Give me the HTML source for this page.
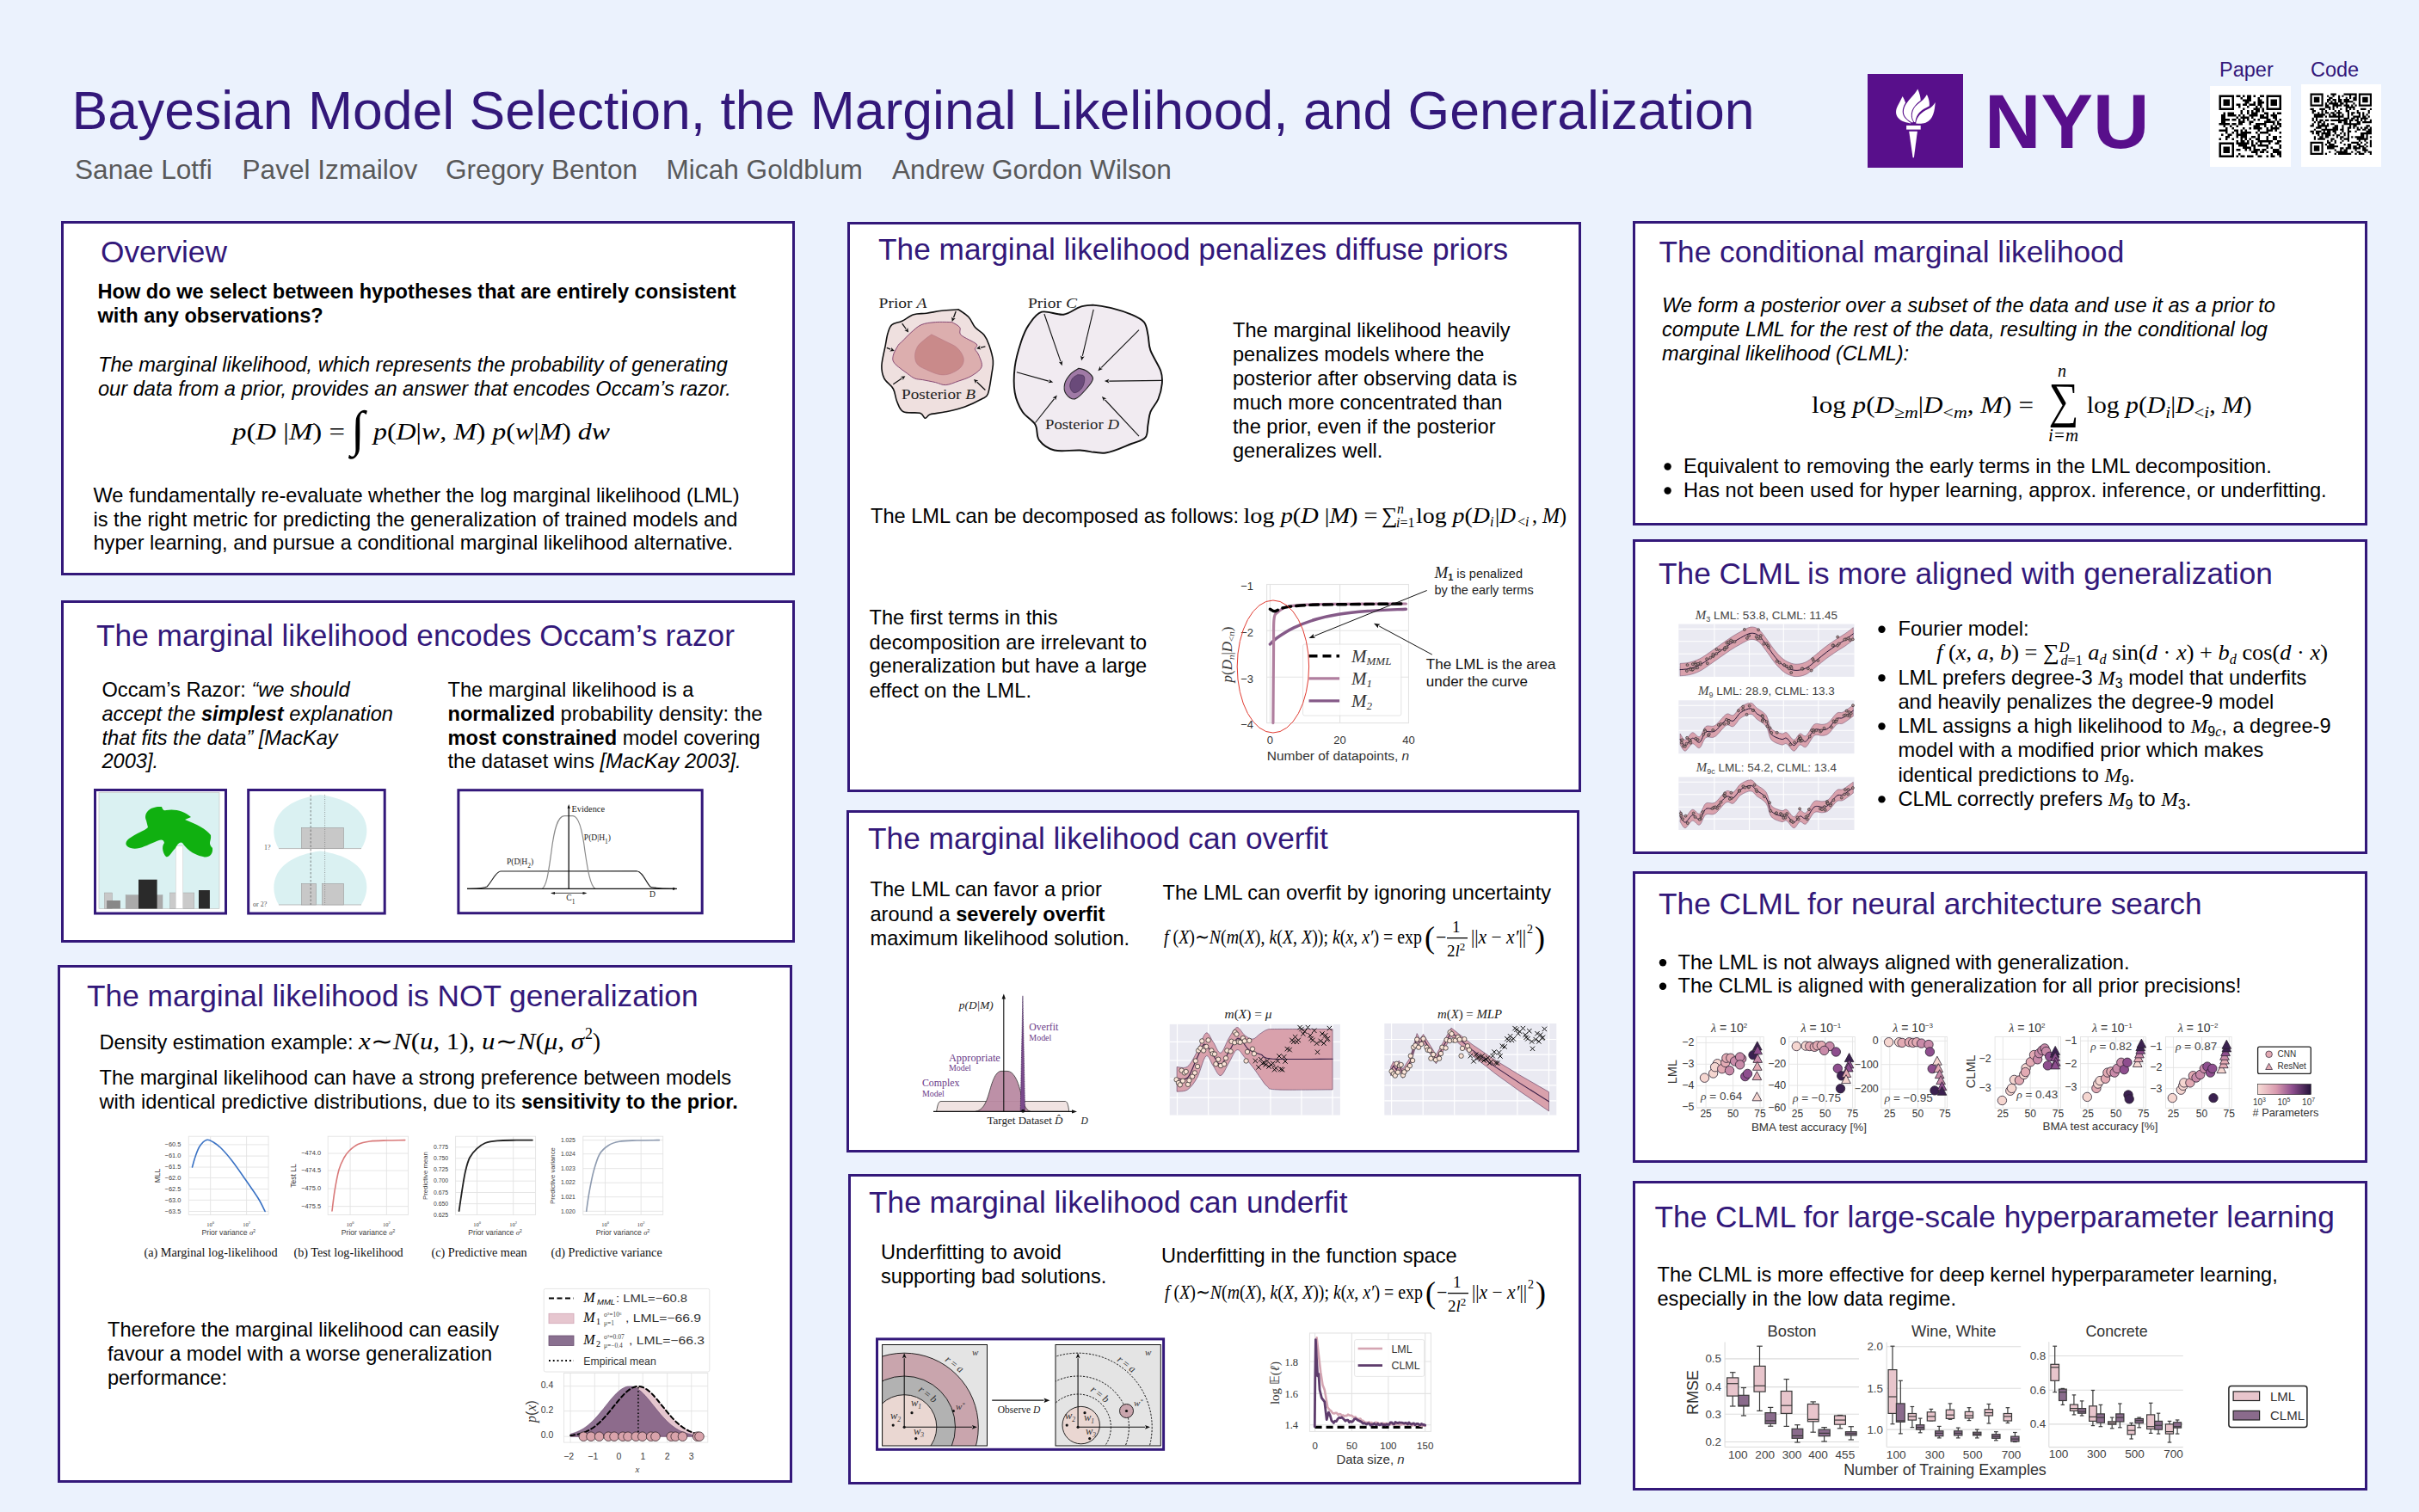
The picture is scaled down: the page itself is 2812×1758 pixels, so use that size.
<!DOCTYPE html>
<html><head><meta charset="utf-8"><title>Bayesian Model Selection, the Marginal Likelihood, and Generalization</title>
<style>
html,body{margin:0;padding:0;background:#ebf2fd;}
body{width:2812px;height:1758px;overflow:hidden;}
svg{display:block;}
.s{font-family:"Liberation Sans",sans-serif;}
.b{font-family:"Liberation Sans",sans-serif;font-weight:bold;}
.i{font-family:"Liberation Sans",sans-serif;font-style:italic;}
.m{font-family:"Liberation Serif",serif;font-style:italic;}
.r{font-family:"Liberation Serif",serif;}
.t{font-family:"Liberation Sans",sans-serif;fill:#33187a;}
</style></head>
<body><svg width="2812" height="1758" viewBox="0 0 2812 1758">
<rect width="2812" height="1758" fill="#ebf2fd"/>
<text x="83.5" y="150" class="t" font-size="62.5" >Bayesian Model Selection, the Marginal Likelihood, and Generalization</text>
<text x="87" y="208" class="s" font-size="31.6" fill="#595959">Sanae Lotfi</text>
<text x="281.5" y="208" class="s" font-size="31.6" fill="#595959">Pavel Izmailov</text>
<text x="518" y="208" class="s" font-size="31.6" fill="#595959">Gregory Benton</text>
<text x="774.5" y="208" class="s" font-size="31.6" fill="#595959">Micah Goldblum</text>
<text x="1037" y="208" class="s" font-size="31.6" fill="#595959">Andrew Gordon Wilson</text>
<rect x="2171" y="86" width="111" height="109" fill="#580f8b"/>
<g fill="#fff"><path d="M2220.8 143.4 C2205.7 141.5 2200.7 132.7 2206.3 122.6 C2208.8 118.2 2210.7 113.8 2211.7 112.0 C2213.2 114.5 2214.2 117.0 2215.1 119.5 C2210.7 126.4 2210.1 133.9 2216.4 139.0 C2218.3 140.9 2220.2 142.1 2221.4 143.1 z"/><path d="M2222.7 142.4 C2215.1 138.3 2210.7 132.7 2213.9 124.5 C2217.0 117.0 2225.2 111.3 2229.3 103.5 C2231.5 108.8 2232.7 113.2 2232.7 116.7 C2222.7 123.9 2218.9 132.7 2224.2 142.1 z"/><path d="M2225.2 142.1 C2220.8 135.2 2222.7 126.4 2228.9 121.4 C2234.0 117.6 2237.7 114.5 2239.9 110.1 C2242.1 113.8 2243.4 120.1 2242.8 123.3 C2234.0 127.7 2227.7 131.4 2226.4 142.1 z"/><path d="M2227.1 143.4 C2228.3 135.2 2234.0 130.2 2240.9 127.0 C2245.3 125.2 2247.8 122.0 2249.7 118.9 C2249.0 127.7 2247.8 139.0 2238.4 142.7 C2234.0 144.0 2230.2 143.7 2227.1 143.4 z"/><path d="M2216.1 145.9 L2232.7 145.9 L2232.7 150.6 L2216.1 150.6 z"/><path d="M2219.2 152.8 L2228.9 152.8 L2224.9 183.3 L2223.6 183.3 z"/></g>
<text x="2307" y="171.8" font-family="Liberation Sans" font-weight="bold" font-size="89" fill="#580f8b" textLength="191.5" lengthAdjust="spacingAndGlyphs">NYU</text>
<rect x="2569" y="100" width="94" height="94" fill="#fff"/>
<rect x="2675" y="98" width="93" height="96" fill="#fff"/>
<path d="M2579.50 110.50h2.50v2.50h-2.50zM2582.00 110.50h2.50v2.50h-2.50zM2584.50 110.50h2.50v2.50h-2.50zM2587.00 110.50h2.50v2.50h-2.50zM2589.50 110.50h2.50v2.50h-2.50zM2592.00 110.50h2.50v2.50h-2.50zM2594.50 110.50h2.50v2.50h-2.50zM2599.50 110.50h2.50v2.50h-2.50zM2602.00 110.50h2.50v2.50h-2.50zM2607.00 110.50h2.50v2.50h-2.50zM2612.00 110.50h2.50v2.50h-2.50zM2614.50 110.50h2.50v2.50h-2.50zM2619.50 110.50h2.50v2.50h-2.50zM2627.00 110.50h2.50v2.50h-2.50zM2629.50 110.50h2.50v2.50h-2.50zM2634.50 110.50h2.50v2.50h-2.50zM2637.00 110.50h2.50v2.50h-2.50zM2639.50 110.50h2.50v2.50h-2.50zM2642.00 110.50h2.50v2.50h-2.50zM2644.50 110.50h2.50v2.50h-2.50zM2647.00 110.50h2.50v2.50h-2.50zM2649.50 110.50h2.50v2.50h-2.50zM2579.50 113.00h2.50v2.50h-2.50zM2594.50 113.00h2.50v2.50h-2.50zM2604.50 113.00h2.50v2.50h-2.50zM2612.00 113.00h2.50v2.50h-2.50zM2614.50 113.00h2.50v2.50h-2.50zM2624.50 113.00h2.50v2.50h-2.50zM2634.50 113.00h2.50v2.50h-2.50zM2649.50 113.00h2.50v2.50h-2.50zM2579.50 115.50h2.50v2.50h-2.50zM2584.50 115.50h2.50v2.50h-2.50zM2587.00 115.50h2.50v2.50h-2.50zM2589.50 115.50h2.50v2.50h-2.50zM2594.50 115.50h2.50v2.50h-2.50zM2607.00 115.50h2.50v2.50h-2.50zM2609.50 115.50h2.50v2.50h-2.50zM2612.00 115.50h2.50v2.50h-2.50zM2614.50 115.50h2.50v2.50h-2.50zM2624.50 115.50h2.50v2.50h-2.50zM2627.00 115.50h2.50v2.50h-2.50zM2634.50 115.50h2.50v2.50h-2.50zM2639.50 115.50h2.50v2.50h-2.50zM2642.00 115.50h2.50v2.50h-2.50zM2644.50 115.50h2.50v2.50h-2.50zM2649.50 115.50h2.50v2.50h-2.50zM2579.50 118.00h2.50v2.50h-2.50zM2584.50 118.00h2.50v2.50h-2.50zM2587.00 118.00h2.50v2.50h-2.50zM2589.50 118.00h2.50v2.50h-2.50zM2594.50 118.00h2.50v2.50h-2.50zM2609.50 118.00h2.50v2.50h-2.50zM2612.00 118.00h2.50v2.50h-2.50zM2619.50 118.00h2.50v2.50h-2.50zM2624.50 118.00h2.50v2.50h-2.50zM2627.00 118.00h2.50v2.50h-2.50zM2629.50 118.00h2.50v2.50h-2.50zM2634.50 118.00h2.50v2.50h-2.50zM2639.50 118.00h2.50v2.50h-2.50zM2642.00 118.00h2.50v2.50h-2.50zM2644.50 118.00h2.50v2.50h-2.50zM2649.50 118.00h2.50v2.50h-2.50zM2579.50 120.50h2.50v2.50h-2.50zM2584.50 120.50h2.50v2.50h-2.50zM2587.00 120.50h2.50v2.50h-2.50zM2589.50 120.50h2.50v2.50h-2.50zM2594.50 120.50h2.50v2.50h-2.50zM2599.50 120.50h2.50v2.50h-2.50zM2602.00 120.50h2.50v2.50h-2.50zM2607.00 120.50h2.50v2.50h-2.50zM2609.50 120.50h2.50v2.50h-2.50zM2614.50 120.50h2.50v2.50h-2.50zM2617.00 120.50h2.50v2.50h-2.50zM2619.50 120.50h2.50v2.50h-2.50zM2624.50 120.50h2.50v2.50h-2.50zM2627.00 120.50h2.50v2.50h-2.50zM2634.50 120.50h2.50v2.50h-2.50zM2639.50 120.50h2.50v2.50h-2.50zM2642.00 120.50h2.50v2.50h-2.50zM2644.50 120.50h2.50v2.50h-2.50zM2649.50 120.50h2.50v2.50h-2.50zM2579.50 123.00h2.50v2.50h-2.50zM2594.50 123.00h2.50v2.50h-2.50zM2602.00 123.00h2.50v2.50h-2.50zM2612.00 123.00h2.50v2.50h-2.50zM2622.00 123.00h2.50v2.50h-2.50zM2627.00 123.00h2.50v2.50h-2.50zM2634.50 123.00h2.50v2.50h-2.50zM2649.50 123.00h2.50v2.50h-2.50zM2579.50 125.50h2.50v2.50h-2.50zM2582.00 125.50h2.50v2.50h-2.50zM2584.50 125.50h2.50v2.50h-2.50zM2587.00 125.50h2.50v2.50h-2.50zM2589.50 125.50h2.50v2.50h-2.50zM2592.00 125.50h2.50v2.50h-2.50zM2594.50 125.50h2.50v2.50h-2.50zM2607.00 125.50h2.50v2.50h-2.50zM2619.50 125.50h2.50v2.50h-2.50zM2622.00 125.50h2.50v2.50h-2.50zM2624.50 125.50h2.50v2.50h-2.50zM2629.50 125.50h2.50v2.50h-2.50zM2634.50 125.50h2.50v2.50h-2.50zM2637.00 125.50h2.50v2.50h-2.50zM2639.50 125.50h2.50v2.50h-2.50zM2642.00 125.50h2.50v2.50h-2.50zM2644.50 125.50h2.50v2.50h-2.50zM2647.00 125.50h2.50v2.50h-2.50zM2649.50 125.50h2.50v2.50h-2.50zM2604.50 128.00h2.50v2.50h-2.50zM2612.00 128.00h2.50v2.50h-2.50zM2617.00 128.00h2.50v2.50h-2.50zM2622.00 128.00h2.50v2.50h-2.50zM2624.50 128.00h2.50v2.50h-2.50zM2629.50 128.00h2.50v2.50h-2.50zM2584.50 130.50h2.50v2.50h-2.50zM2589.50 130.50h2.50v2.50h-2.50zM2592.00 130.50h2.50v2.50h-2.50zM2594.50 130.50h2.50v2.50h-2.50zM2604.50 130.50h2.50v2.50h-2.50zM2612.00 130.50h2.50v2.50h-2.50zM2617.00 130.50h2.50v2.50h-2.50zM2619.50 130.50h2.50v2.50h-2.50zM2622.00 130.50h2.50v2.50h-2.50zM2632.00 130.50h2.50v2.50h-2.50zM2634.50 130.50h2.50v2.50h-2.50zM2642.00 130.50h2.50v2.50h-2.50zM2647.00 130.50h2.50v2.50h-2.50zM2649.50 130.50h2.50v2.50h-2.50zM2582.00 133.00h2.50v2.50h-2.50zM2584.50 133.00h2.50v2.50h-2.50zM2589.50 133.00h2.50v2.50h-2.50zM2592.00 133.00h2.50v2.50h-2.50zM2594.50 133.00h2.50v2.50h-2.50zM2597.00 133.00h2.50v2.50h-2.50zM2602.00 133.00h2.50v2.50h-2.50zM2607.00 133.00h2.50v2.50h-2.50zM2614.50 133.00h2.50v2.50h-2.50zM2617.00 133.00h2.50v2.50h-2.50zM2619.50 133.00h2.50v2.50h-2.50zM2622.00 133.00h2.50v2.50h-2.50zM2627.00 133.00h2.50v2.50h-2.50zM2629.50 133.00h2.50v2.50h-2.50zM2634.50 133.00h2.50v2.50h-2.50zM2639.50 133.00h2.50v2.50h-2.50zM2642.00 133.00h2.50v2.50h-2.50zM2644.50 133.00h2.50v2.50h-2.50zM2582.00 135.50h2.50v2.50h-2.50zM2584.50 135.50h2.50v2.50h-2.50zM2599.50 135.50h2.50v2.50h-2.50zM2604.50 135.50h2.50v2.50h-2.50zM2607.00 135.50h2.50v2.50h-2.50zM2609.50 135.50h2.50v2.50h-2.50zM2612.00 135.50h2.50v2.50h-2.50zM2617.00 135.50h2.50v2.50h-2.50zM2627.00 135.50h2.50v2.50h-2.50zM2629.50 135.50h2.50v2.50h-2.50zM2632.00 135.50h2.50v2.50h-2.50zM2634.50 135.50h2.50v2.50h-2.50zM2642.00 135.50h2.50v2.50h-2.50zM2644.50 135.50h2.50v2.50h-2.50zM2582.00 138.00h2.50v2.50h-2.50zM2584.50 138.00h2.50v2.50h-2.50zM2587.00 138.00h2.50v2.50h-2.50zM2589.50 138.00h2.50v2.50h-2.50zM2594.50 138.00h2.50v2.50h-2.50zM2597.00 138.00h2.50v2.50h-2.50zM2602.00 138.00h2.50v2.50h-2.50zM2607.00 138.00h2.50v2.50h-2.50zM2612.00 138.00h2.50v2.50h-2.50zM2619.50 138.00h2.50v2.50h-2.50zM2624.50 138.00h2.50v2.50h-2.50zM2634.50 138.00h2.50v2.50h-2.50zM2637.00 138.00h2.50v2.50h-2.50zM2644.50 138.00h2.50v2.50h-2.50zM2649.50 138.00h2.50v2.50h-2.50zM2582.00 140.50h2.50v2.50h-2.50zM2584.50 140.50h2.50v2.50h-2.50zM2602.00 140.50h2.50v2.50h-2.50zM2604.50 140.50h2.50v2.50h-2.50zM2607.00 140.50h2.50v2.50h-2.50zM2614.50 140.50h2.50v2.50h-2.50zM2617.00 140.50h2.50v2.50h-2.50zM2632.00 140.50h2.50v2.50h-2.50zM2634.50 140.50h2.50v2.50h-2.50zM2637.00 140.50h2.50v2.50h-2.50zM2639.50 140.50h2.50v2.50h-2.50zM2642.00 140.50h2.50v2.50h-2.50zM2647.00 140.50h2.50v2.50h-2.50zM2579.50 143.00h2.50v2.50h-2.50zM2582.00 143.00h2.50v2.50h-2.50zM2584.50 143.00h2.50v2.50h-2.50zM2587.00 143.00h2.50v2.50h-2.50zM2589.50 143.00h2.50v2.50h-2.50zM2594.50 143.00h2.50v2.50h-2.50zM2597.00 143.00h2.50v2.50h-2.50zM2602.00 143.00h2.50v2.50h-2.50zM2604.50 143.00h2.50v2.50h-2.50zM2614.50 143.00h2.50v2.50h-2.50zM2622.00 143.00h2.50v2.50h-2.50zM2624.50 143.00h2.50v2.50h-2.50zM2627.00 143.00h2.50v2.50h-2.50zM2629.50 143.00h2.50v2.50h-2.50zM2632.00 143.00h2.50v2.50h-2.50zM2642.00 143.00h2.50v2.50h-2.50zM2647.00 143.00h2.50v2.50h-2.50zM2649.50 143.00h2.50v2.50h-2.50zM2584.50 145.50h2.50v2.50h-2.50zM2592.00 145.50h2.50v2.50h-2.50zM2599.50 145.50h2.50v2.50h-2.50zM2619.50 145.50h2.50v2.50h-2.50zM2622.00 145.50h2.50v2.50h-2.50zM2624.50 145.50h2.50v2.50h-2.50zM2632.00 145.50h2.50v2.50h-2.50zM2639.50 145.50h2.50v2.50h-2.50zM2644.50 145.50h2.50v2.50h-2.50zM2649.50 145.50h2.50v2.50h-2.50zM2587.00 148.00h2.50v2.50h-2.50zM2594.50 148.00h2.50v2.50h-2.50zM2607.00 148.00h2.50v2.50h-2.50zM2614.50 148.00h2.50v2.50h-2.50zM2619.50 148.00h2.50v2.50h-2.50zM2622.00 148.00h2.50v2.50h-2.50zM2624.50 148.00h2.50v2.50h-2.50zM2627.00 148.00h2.50v2.50h-2.50zM2634.50 148.00h2.50v2.50h-2.50zM2639.50 148.00h2.50v2.50h-2.50zM2642.00 148.00h2.50v2.50h-2.50zM2644.50 148.00h2.50v2.50h-2.50zM2647.00 148.00h2.50v2.50h-2.50zM2579.50 150.50h2.50v2.50h-2.50zM2582.00 150.50h2.50v2.50h-2.50zM2584.50 150.50h2.50v2.50h-2.50zM2587.00 150.50h2.50v2.50h-2.50zM2597.00 150.50h2.50v2.50h-2.50zM2599.50 150.50h2.50v2.50h-2.50zM2604.50 150.50h2.50v2.50h-2.50zM2609.50 150.50h2.50v2.50h-2.50zM2624.50 150.50h2.50v2.50h-2.50zM2634.50 150.50h2.50v2.50h-2.50zM2637.00 150.50h2.50v2.50h-2.50zM2639.50 150.50h2.50v2.50h-2.50zM2644.50 150.50h2.50v2.50h-2.50zM2587.00 153.00h2.50v2.50h-2.50zM2594.50 153.00h2.50v2.50h-2.50zM2599.50 153.00h2.50v2.50h-2.50zM2604.50 153.00h2.50v2.50h-2.50zM2607.00 153.00h2.50v2.50h-2.50zM2609.50 153.00h2.50v2.50h-2.50zM2612.00 153.00h2.50v2.50h-2.50zM2614.50 153.00h2.50v2.50h-2.50zM2622.00 153.00h2.50v2.50h-2.50zM2627.00 153.00h2.50v2.50h-2.50zM2629.50 153.00h2.50v2.50h-2.50zM2632.00 153.00h2.50v2.50h-2.50zM2634.50 153.00h2.50v2.50h-2.50zM2649.50 153.00h2.50v2.50h-2.50zM2582.00 155.50h2.50v2.50h-2.50zM2589.50 155.50h2.50v2.50h-2.50zM2592.00 155.50h2.50v2.50h-2.50zM2599.50 155.50h2.50v2.50h-2.50zM2602.00 155.50h2.50v2.50h-2.50zM2604.50 155.50h2.50v2.50h-2.50zM2607.00 155.50h2.50v2.50h-2.50zM2609.50 155.50h2.50v2.50h-2.50zM2624.50 155.50h2.50v2.50h-2.50zM2637.00 155.50h2.50v2.50h-2.50zM2587.00 158.00h2.50v2.50h-2.50zM2589.50 158.00h2.50v2.50h-2.50zM2599.50 158.00h2.50v2.50h-2.50zM2604.50 158.00h2.50v2.50h-2.50zM2607.00 158.00h2.50v2.50h-2.50zM2609.50 158.00h2.50v2.50h-2.50zM2617.00 158.00h2.50v2.50h-2.50zM2619.50 158.00h2.50v2.50h-2.50zM2624.50 158.00h2.50v2.50h-2.50zM2634.50 158.00h2.50v2.50h-2.50zM2642.00 158.00h2.50v2.50h-2.50zM2644.50 158.00h2.50v2.50h-2.50zM2649.50 158.00h2.50v2.50h-2.50zM2579.50 160.50h2.50v2.50h-2.50zM2587.00 160.50h2.50v2.50h-2.50zM2594.50 160.50h2.50v2.50h-2.50zM2604.50 160.50h2.50v2.50h-2.50zM2609.50 160.50h2.50v2.50h-2.50zM2614.50 160.50h2.50v2.50h-2.50zM2622.00 160.50h2.50v2.50h-2.50zM2624.50 160.50h2.50v2.50h-2.50zM2634.50 160.50h2.50v2.50h-2.50zM2642.00 160.50h2.50v2.50h-2.50zM2644.50 160.50h2.50v2.50h-2.50zM2599.50 163.00h2.50v2.50h-2.50zM2604.50 163.00h2.50v2.50h-2.50zM2607.00 163.00h2.50v2.50h-2.50zM2612.00 163.00h2.50v2.50h-2.50zM2617.00 163.00h2.50v2.50h-2.50zM2624.50 163.00h2.50v2.50h-2.50zM2627.00 163.00h2.50v2.50h-2.50zM2629.50 163.00h2.50v2.50h-2.50zM2632.00 163.00h2.50v2.50h-2.50zM2634.50 163.00h2.50v2.50h-2.50zM2637.00 163.00h2.50v2.50h-2.50zM2639.50 163.00h2.50v2.50h-2.50zM2647.00 163.00h2.50v2.50h-2.50zM2649.50 163.00h2.50v2.50h-2.50zM2579.50 165.50h2.50v2.50h-2.50zM2582.00 165.50h2.50v2.50h-2.50zM2584.50 165.50h2.50v2.50h-2.50zM2587.00 165.50h2.50v2.50h-2.50zM2589.50 165.50h2.50v2.50h-2.50zM2592.00 165.50h2.50v2.50h-2.50zM2594.50 165.50h2.50v2.50h-2.50zM2599.50 165.50h2.50v2.50h-2.50zM2602.00 165.50h2.50v2.50h-2.50zM2604.50 165.50h2.50v2.50h-2.50zM2607.00 165.50h2.50v2.50h-2.50zM2609.50 165.50h2.50v2.50h-2.50zM2612.00 165.50h2.50v2.50h-2.50zM2617.00 165.50h2.50v2.50h-2.50zM2622.00 165.50h2.50v2.50h-2.50zM2627.00 165.50h2.50v2.50h-2.50zM2637.00 165.50h2.50v2.50h-2.50zM2644.50 165.50h2.50v2.50h-2.50zM2647.00 165.50h2.50v2.50h-2.50zM2579.50 168.00h2.50v2.50h-2.50zM2594.50 168.00h2.50v2.50h-2.50zM2602.00 168.00h2.50v2.50h-2.50zM2604.50 168.00h2.50v2.50h-2.50zM2607.00 168.00h2.50v2.50h-2.50zM2609.50 168.00h2.50v2.50h-2.50zM2617.00 168.00h2.50v2.50h-2.50zM2619.50 168.00h2.50v2.50h-2.50zM2624.50 168.00h2.50v2.50h-2.50zM2627.00 168.00h2.50v2.50h-2.50zM2629.50 168.00h2.50v2.50h-2.50zM2632.00 168.00h2.50v2.50h-2.50zM2634.50 168.00h2.50v2.50h-2.50zM2649.50 168.00h2.50v2.50h-2.50zM2579.50 170.50h2.50v2.50h-2.50zM2584.50 170.50h2.50v2.50h-2.50zM2587.00 170.50h2.50v2.50h-2.50zM2589.50 170.50h2.50v2.50h-2.50zM2594.50 170.50h2.50v2.50h-2.50zM2607.00 170.50h2.50v2.50h-2.50zM2609.50 170.50h2.50v2.50h-2.50zM2612.00 170.50h2.50v2.50h-2.50zM2614.50 170.50h2.50v2.50h-2.50zM2619.50 170.50h2.50v2.50h-2.50zM2634.50 170.50h2.50v2.50h-2.50zM2639.50 170.50h2.50v2.50h-2.50zM2649.50 170.50h2.50v2.50h-2.50zM2579.50 173.00h2.50v2.50h-2.50zM2584.50 173.00h2.50v2.50h-2.50zM2587.00 173.00h2.50v2.50h-2.50zM2589.50 173.00h2.50v2.50h-2.50zM2594.50 173.00h2.50v2.50h-2.50zM2599.50 173.00h2.50v2.50h-2.50zM2602.00 173.00h2.50v2.50h-2.50zM2609.50 173.00h2.50v2.50h-2.50zM2614.50 173.00h2.50v2.50h-2.50zM2619.50 173.00h2.50v2.50h-2.50zM2622.00 173.00h2.50v2.50h-2.50zM2624.50 173.00h2.50v2.50h-2.50zM2629.50 173.00h2.50v2.50h-2.50zM2632.00 173.00h2.50v2.50h-2.50zM2642.00 173.00h2.50v2.50h-2.50zM2644.50 173.00h2.50v2.50h-2.50zM2647.00 173.00h2.50v2.50h-2.50zM2579.50 175.50h2.50v2.50h-2.50zM2584.50 175.50h2.50v2.50h-2.50zM2587.00 175.50h2.50v2.50h-2.50zM2589.50 175.50h2.50v2.50h-2.50zM2594.50 175.50h2.50v2.50h-2.50zM2617.00 175.50h2.50v2.50h-2.50zM2619.50 175.50h2.50v2.50h-2.50zM2622.00 175.50h2.50v2.50h-2.50zM2627.00 175.50h2.50v2.50h-2.50zM2629.50 175.50h2.50v2.50h-2.50zM2634.50 175.50h2.50v2.50h-2.50zM2642.00 175.50h2.50v2.50h-2.50zM2644.50 175.50h2.50v2.50h-2.50zM2647.00 175.50h2.50v2.50h-2.50zM2649.50 175.50h2.50v2.50h-2.50zM2579.50 178.00h2.50v2.50h-2.50zM2594.50 178.00h2.50v2.50h-2.50zM2602.00 178.00h2.50v2.50h-2.50zM2622.00 178.00h2.50v2.50h-2.50zM2639.50 178.00h2.50v2.50h-2.50zM2647.00 178.00h2.50v2.50h-2.50zM2649.50 178.00h2.50v2.50h-2.50zM2579.50 180.50h2.50v2.50h-2.50zM2582.00 180.50h2.50v2.50h-2.50zM2584.50 180.50h2.50v2.50h-2.50zM2587.00 180.50h2.50v2.50h-2.50zM2589.50 180.50h2.50v2.50h-2.50zM2592.00 180.50h2.50v2.50h-2.50zM2594.50 180.50h2.50v2.50h-2.50zM2599.50 180.50h2.50v2.50h-2.50zM2604.50 180.50h2.50v2.50h-2.50zM2607.00 180.50h2.50v2.50h-2.50zM2612.00 180.50h2.50v2.50h-2.50zM2614.50 180.50h2.50v2.50h-2.50zM2617.00 180.50h2.50v2.50h-2.50zM2624.50 180.50h2.50v2.50h-2.50zM2627.00 180.50h2.50v2.50h-2.50zM2634.50 180.50h2.50v2.50h-2.50zM2639.50 180.50h2.50v2.50h-2.50zM2642.00 180.50h2.50v2.50h-2.50zM2649.50 180.50h2.50v2.50h-2.50z" fill="#000"/>
<path d="M2685.50 108.50h2.17v2.17h-2.17zM2687.67 108.50h2.17v2.17h-2.17zM2689.83 108.50h2.17v2.17h-2.17zM2692.00 108.50h2.17v2.17h-2.17zM2694.17 108.50h2.17v2.17h-2.17zM2696.33 108.50h2.17v2.17h-2.17zM2698.50 108.50h2.17v2.17h-2.17zM2709.33 108.50h2.17v2.17h-2.17zM2711.50 108.50h2.17v2.17h-2.17zM2713.67 108.50h2.17v2.17h-2.17zM2724.50 108.50h2.17v2.17h-2.17zM2726.67 108.50h2.17v2.17h-2.17zM2728.83 108.50h2.17v2.17h-2.17zM2731.00 108.50h2.17v2.17h-2.17zM2733.17 108.50h2.17v2.17h-2.17zM2735.33 108.50h2.17v2.17h-2.17zM2737.50 108.50h2.17v2.17h-2.17zM2741.83 108.50h2.17v2.17h-2.17zM2744.00 108.50h2.17v2.17h-2.17zM2746.17 108.50h2.17v2.17h-2.17zM2748.33 108.50h2.17v2.17h-2.17zM2750.50 108.50h2.17v2.17h-2.17zM2752.67 108.50h2.17v2.17h-2.17zM2754.83 108.50h2.17v2.17h-2.17zM2685.50 110.67h2.17v2.17h-2.17zM2698.50 110.67h2.17v2.17h-2.17zM2705.00 110.67h2.17v2.17h-2.17zM2711.50 110.67h2.17v2.17h-2.17zM2718.00 110.67h2.17v2.17h-2.17zM2722.33 110.67h2.17v2.17h-2.17zM2731.00 110.67h2.17v2.17h-2.17zM2737.50 110.67h2.17v2.17h-2.17zM2741.83 110.67h2.17v2.17h-2.17zM2754.83 110.67h2.17v2.17h-2.17zM2685.50 112.83h2.17v2.17h-2.17zM2689.83 112.83h2.17v2.17h-2.17zM2692.00 112.83h2.17v2.17h-2.17zM2694.17 112.83h2.17v2.17h-2.17zM2698.50 112.83h2.17v2.17h-2.17zM2707.17 112.83h2.17v2.17h-2.17zM2709.33 112.83h2.17v2.17h-2.17zM2718.00 112.83h2.17v2.17h-2.17zM2726.67 112.83h2.17v2.17h-2.17zM2731.00 112.83h2.17v2.17h-2.17zM2735.33 112.83h2.17v2.17h-2.17zM2737.50 112.83h2.17v2.17h-2.17zM2741.83 112.83h2.17v2.17h-2.17zM2746.17 112.83h2.17v2.17h-2.17zM2748.33 112.83h2.17v2.17h-2.17zM2750.50 112.83h2.17v2.17h-2.17zM2754.83 112.83h2.17v2.17h-2.17zM2685.50 115.00h2.17v2.17h-2.17zM2689.83 115.00h2.17v2.17h-2.17zM2692.00 115.00h2.17v2.17h-2.17zM2694.17 115.00h2.17v2.17h-2.17zM2698.50 115.00h2.17v2.17h-2.17zM2705.00 115.00h2.17v2.17h-2.17zM2707.17 115.00h2.17v2.17h-2.17zM2711.50 115.00h2.17v2.17h-2.17zM2713.67 115.00h2.17v2.17h-2.17zM2718.00 115.00h2.17v2.17h-2.17zM2720.17 115.00h2.17v2.17h-2.17zM2724.50 115.00h2.17v2.17h-2.17zM2726.67 115.00h2.17v2.17h-2.17zM2728.83 115.00h2.17v2.17h-2.17zM2735.33 115.00h2.17v2.17h-2.17zM2737.50 115.00h2.17v2.17h-2.17zM2741.83 115.00h2.17v2.17h-2.17zM2746.17 115.00h2.17v2.17h-2.17zM2748.33 115.00h2.17v2.17h-2.17zM2750.50 115.00h2.17v2.17h-2.17zM2754.83 115.00h2.17v2.17h-2.17zM2685.50 117.17h2.17v2.17h-2.17zM2689.83 117.17h2.17v2.17h-2.17zM2692.00 117.17h2.17v2.17h-2.17zM2694.17 117.17h2.17v2.17h-2.17zM2698.50 117.17h2.17v2.17h-2.17zM2705.00 117.17h2.17v2.17h-2.17zM2709.33 117.17h2.17v2.17h-2.17zM2713.67 117.17h2.17v2.17h-2.17zM2718.00 117.17h2.17v2.17h-2.17zM2720.17 117.17h2.17v2.17h-2.17zM2724.50 117.17h2.17v2.17h-2.17zM2726.67 117.17h2.17v2.17h-2.17zM2728.83 117.17h2.17v2.17h-2.17zM2731.00 117.17h2.17v2.17h-2.17zM2733.17 117.17h2.17v2.17h-2.17zM2741.83 117.17h2.17v2.17h-2.17zM2746.17 117.17h2.17v2.17h-2.17zM2748.33 117.17h2.17v2.17h-2.17zM2750.50 117.17h2.17v2.17h-2.17zM2754.83 117.17h2.17v2.17h-2.17zM2685.50 119.33h2.17v2.17h-2.17zM2698.50 119.33h2.17v2.17h-2.17zM2702.83 119.33h2.17v2.17h-2.17zM2707.17 119.33h2.17v2.17h-2.17zM2709.33 119.33h2.17v2.17h-2.17zM2711.50 119.33h2.17v2.17h-2.17zM2713.67 119.33h2.17v2.17h-2.17zM2715.83 119.33h2.17v2.17h-2.17zM2720.17 119.33h2.17v2.17h-2.17zM2722.33 119.33h2.17v2.17h-2.17zM2726.67 119.33h2.17v2.17h-2.17zM2735.33 119.33h2.17v2.17h-2.17zM2741.83 119.33h2.17v2.17h-2.17zM2754.83 119.33h2.17v2.17h-2.17zM2685.50 121.50h2.17v2.17h-2.17zM2687.67 121.50h2.17v2.17h-2.17zM2689.83 121.50h2.17v2.17h-2.17zM2692.00 121.50h2.17v2.17h-2.17zM2694.17 121.50h2.17v2.17h-2.17zM2696.33 121.50h2.17v2.17h-2.17zM2698.50 121.50h2.17v2.17h-2.17zM2702.83 121.50h2.17v2.17h-2.17zM2705.00 121.50h2.17v2.17h-2.17zM2711.50 121.50h2.17v2.17h-2.17zM2713.67 121.50h2.17v2.17h-2.17zM2715.83 121.50h2.17v2.17h-2.17zM2718.00 121.50h2.17v2.17h-2.17zM2720.17 121.50h2.17v2.17h-2.17zM2724.50 121.50h2.17v2.17h-2.17zM2726.67 121.50h2.17v2.17h-2.17zM2728.83 121.50h2.17v2.17h-2.17zM2733.17 121.50h2.17v2.17h-2.17zM2737.50 121.50h2.17v2.17h-2.17zM2741.83 121.50h2.17v2.17h-2.17zM2744.00 121.50h2.17v2.17h-2.17zM2746.17 121.50h2.17v2.17h-2.17zM2748.33 121.50h2.17v2.17h-2.17zM2750.50 121.50h2.17v2.17h-2.17zM2752.67 121.50h2.17v2.17h-2.17zM2754.83 121.50h2.17v2.17h-2.17zM2702.83 123.67h2.17v2.17h-2.17zM2705.00 123.67h2.17v2.17h-2.17zM2707.17 123.67h2.17v2.17h-2.17zM2711.50 123.67h2.17v2.17h-2.17zM2715.83 123.67h2.17v2.17h-2.17zM2726.67 123.67h2.17v2.17h-2.17zM2728.83 123.67h2.17v2.17h-2.17zM2731.00 123.67h2.17v2.17h-2.17zM2733.17 123.67h2.17v2.17h-2.17zM2735.33 123.67h2.17v2.17h-2.17zM2685.50 125.83h2.17v2.17h-2.17zM2687.67 125.83h2.17v2.17h-2.17zM2696.33 125.83h2.17v2.17h-2.17zM2698.50 125.83h2.17v2.17h-2.17zM2700.67 125.83h2.17v2.17h-2.17zM2707.17 125.83h2.17v2.17h-2.17zM2711.50 125.83h2.17v2.17h-2.17zM2720.17 125.83h2.17v2.17h-2.17zM2726.67 125.83h2.17v2.17h-2.17zM2731.00 125.83h2.17v2.17h-2.17zM2735.33 125.83h2.17v2.17h-2.17zM2744.00 125.83h2.17v2.17h-2.17zM2746.17 125.83h2.17v2.17h-2.17zM2748.33 125.83h2.17v2.17h-2.17zM2754.83 125.83h2.17v2.17h-2.17zM2687.67 128.00h2.17v2.17h-2.17zM2689.83 128.00h2.17v2.17h-2.17zM2698.50 128.00h2.17v2.17h-2.17zM2702.83 128.00h2.17v2.17h-2.17zM2713.67 128.00h2.17v2.17h-2.17zM2718.00 128.00h2.17v2.17h-2.17zM2726.67 128.00h2.17v2.17h-2.17zM2728.83 128.00h2.17v2.17h-2.17zM2739.67 128.00h2.17v2.17h-2.17zM2752.67 128.00h2.17v2.17h-2.17zM2687.67 130.17h2.17v2.17h-2.17zM2694.17 130.17h2.17v2.17h-2.17zM2698.50 130.17h2.17v2.17h-2.17zM2702.83 130.17h2.17v2.17h-2.17zM2705.00 130.17h2.17v2.17h-2.17zM2709.33 130.17h2.17v2.17h-2.17zM2711.50 130.17h2.17v2.17h-2.17zM2715.83 130.17h2.17v2.17h-2.17zM2718.00 130.17h2.17v2.17h-2.17zM2720.17 130.17h2.17v2.17h-2.17zM2728.83 130.17h2.17v2.17h-2.17zM2733.17 130.17h2.17v2.17h-2.17zM2735.33 130.17h2.17v2.17h-2.17zM2739.67 130.17h2.17v2.17h-2.17zM2741.83 130.17h2.17v2.17h-2.17zM2746.17 130.17h2.17v2.17h-2.17zM2752.67 130.17h2.17v2.17h-2.17zM2689.83 132.33h2.17v2.17h-2.17zM2692.00 132.33h2.17v2.17h-2.17zM2694.17 132.33h2.17v2.17h-2.17zM2696.33 132.33h2.17v2.17h-2.17zM2698.50 132.33h2.17v2.17h-2.17zM2700.67 132.33h2.17v2.17h-2.17zM2707.17 132.33h2.17v2.17h-2.17zM2711.50 132.33h2.17v2.17h-2.17zM2713.67 132.33h2.17v2.17h-2.17zM2718.00 132.33h2.17v2.17h-2.17zM2722.33 132.33h2.17v2.17h-2.17zM2728.83 132.33h2.17v2.17h-2.17zM2733.17 132.33h2.17v2.17h-2.17zM2741.83 132.33h2.17v2.17h-2.17zM2746.17 132.33h2.17v2.17h-2.17zM2750.50 132.33h2.17v2.17h-2.17zM2689.83 134.50h2.17v2.17h-2.17zM2692.00 134.50h2.17v2.17h-2.17zM2694.17 134.50h2.17v2.17h-2.17zM2696.33 134.50h2.17v2.17h-2.17zM2698.50 134.50h2.17v2.17h-2.17zM2702.83 134.50h2.17v2.17h-2.17zM2707.17 134.50h2.17v2.17h-2.17zM2709.33 134.50h2.17v2.17h-2.17zM2711.50 134.50h2.17v2.17h-2.17zM2713.67 134.50h2.17v2.17h-2.17zM2715.83 134.50h2.17v2.17h-2.17zM2718.00 134.50h2.17v2.17h-2.17zM2720.17 134.50h2.17v2.17h-2.17zM2722.33 134.50h2.17v2.17h-2.17zM2728.83 134.50h2.17v2.17h-2.17zM2735.33 134.50h2.17v2.17h-2.17zM2737.50 134.50h2.17v2.17h-2.17zM2739.67 134.50h2.17v2.17h-2.17zM2741.83 134.50h2.17v2.17h-2.17zM2746.17 134.50h2.17v2.17h-2.17zM2748.33 134.50h2.17v2.17h-2.17zM2752.67 134.50h2.17v2.17h-2.17zM2687.67 136.67h2.17v2.17h-2.17zM2692.00 136.67h2.17v2.17h-2.17zM2718.00 136.67h2.17v2.17h-2.17zM2724.50 136.67h2.17v2.17h-2.17zM2726.67 136.67h2.17v2.17h-2.17zM2728.83 136.67h2.17v2.17h-2.17zM2733.17 136.67h2.17v2.17h-2.17zM2735.33 136.67h2.17v2.17h-2.17zM2739.67 136.67h2.17v2.17h-2.17zM2744.00 136.67h2.17v2.17h-2.17zM2746.17 136.67h2.17v2.17h-2.17zM2748.33 136.67h2.17v2.17h-2.17zM2750.50 136.67h2.17v2.17h-2.17zM2687.67 138.83h2.17v2.17h-2.17zM2692.00 138.83h2.17v2.17h-2.17zM2696.33 138.83h2.17v2.17h-2.17zM2698.50 138.83h2.17v2.17h-2.17zM2702.83 138.83h2.17v2.17h-2.17zM2705.00 138.83h2.17v2.17h-2.17zM2709.33 138.83h2.17v2.17h-2.17zM2711.50 138.83h2.17v2.17h-2.17zM2713.67 138.83h2.17v2.17h-2.17zM2715.83 138.83h2.17v2.17h-2.17zM2718.00 138.83h2.17v2.17h-2.17zM2720.17 138.83h2.17v2.17h-2.17zM2722.33 138.83h2.17v2.17h-2.17zM2724.50 138.83h2.17v2.17h-2.17zM2726.67 138.83h2.17v2.17h-2.17zM2731.00 138.83h2.17v2.17h-2.17zM2733.17 138.83h2.17v2.17h-2.17zM2737.50 138.83h2.17v2.17h-2.17zM2739.67 138.83h2.17v2.17h-2.17zM2744.00 138.83h2.17v2.17h-2.17zM2748.33 138.83h2.17v2.17h-2.17zM2754.83 138.83h2.17v2.17h-2.17zM2689.83 141.00h2.17v2.17h-2.17zM2694.17 141.00h2.17v2.17h-2.17zM2696.33 141.00h2.17v2.17h-2.17zM2700.67 141.00h2.17v2.17h-2.17zM2718.00 141.00h2.17v2.17h-2.17zM2720.17 141.00h2.17v2.17h-2.17zM2724.50 141.00h2.17v2.17h-2.17zM2726.67 141.00h2.17v2.17h-2.17zM2731.00 141.00h2.17v2.17h-2.17zM2739.67 141.00h2.17v2.17h-2.17zM2741.83 141.00h2.17v2.17h-2.17zM2746.17 141.00h2.17v2.17h-2.17zM2748.33 141.00h2.17v2.17h-2.17zM2750.50 141.00h2.17v2.17h-2.17zM2752.67 141.00h2.17v2.17h-2.17zM2754.83 141.00h2.17v2.17h-2.17zM2687.67 143.17h2.17v2.17h-2.17zM2694.17 143.17h2.17v2.17h-2.17zM2698.50 143.17h2.17v2.17h-2.17zM2700.67 143.17h2.17v2.17h-2.17zM2705.00 143.17h2.17v2.17h-2.17zM2709.33 143.17h2.17v2.17h-2.17zM2711.50 143.17h2.17v2.17h-2.17zM2724.50 143.17h2.17v2.17h-2.17zM2726.67 143.17h2.17v2.17h-2.17zM2728.83 143.17h2.17v2.17h-2.17zM2731.00 143.17h2.17v2.17h-2.17zM2733.17 143.17h2.17v2.17h-2.17zM2735.33 143.17h2.17v2.17h-2.17zM2737.50 143.17h2.17v2.17h-2.17zM2739.67 143.17h2.17v2.17h-2.17zM2741.83 143.17h2.17v2.17h-2.17zM2685.50 145.33h2.17v2.17h-2.17zM2687.67 145.33h2.17v2.17h-2.17zM2694.17 145.33h2.17v2.17h-2.17zM2696.33 145.33h2.17v2.17h-2.17zM2698.50 145.33h2.17v2.17h-2.17zM2700.67 145.33h2.17v2.17h-2.17zM2702.83 145.33h2.17v2.17h-2.17zM2705.00 145.33h2.17v2.17h-2.17zM2713.67 145.33h2.17v2.17h-2.17zM2715.83 145.33h2.17v2.17h-2.17zM2722.33 145.33h2.17v2.17h-2.17zM2731.00 145.33h2.17v2.17h-2.17zM2735.33 145.33h2.17v2.17h-2.17zM2737.50 145.33h2.17v2.17h-2.17zM2750.50 145.33h2.17v2.17h-2.17zM2752.67 145.33h2.17v2.17h-2.17zM2692.00 147.50h2.17v2.17h-2.17zM2694.17 147.50h2.17v2.17h-2.17zM2696.33 147.50h2.17v2.17h-2.17zM2702.83 147.50h2.17v2.17h-2.17zM2711.50 147.50h2.17v2.17h-2.17zM2713.67 147.50h2.17v2.17h-2.17zM2715.83 147.50h2.17v2.17h-2.17zM2722.33 147.50h2.17v2.17h-2.17zM2728.83 147.50h2.17v2.17h-2.17zM2731.00 147.50h2.17v2.17h-2.17zM2735.33 147.50h2.17v2.17h-2.17zM2739.67 147.50h2.17v2.17h-2.17zM2744.00 147.50h2.17v2.17h-2.17zM2748.33 147.50h2.17v2.17h-2.17zM2750.50 147.50h2.17v2.17h-2.17zM2754.83 147.50h2.17v2.17h-2.17zM2689.83 149.67h2.17v2.17h-2.17zM2698.50 149.67h2.17v2.17h-2.17zM2700.67 149.67h2.17v2.17h-2.17zM2702.83 149.67h2.17v2.17h-2.17zM2705.00 149.67h2.17v2.17h-2.17zM2707.17 149.67h2.17v2.17h-2.17zM2709.33 149.67h2.17v2.17h-2.17zM2711.50 149.67h2.17v2.17h-2.17zM2713.67 149.67h2.17v2.17h-2.17zM2715.83 149.67h2.17v2.17h-2.17zM2720.17 149.67h2.17v2.17h-2.17zM2722.33 149.67h2.17v2.17h-2.17zM2728.83 149.67h2.17v2.17h-2.17zM2739.67 149.67h2.17v2.17h-2.17zM2741.83 149.67h2.17v2.17h-2.17zM2746.17 149.67h2.17v2.17h-2.17zM2748.33 149.67h2.17v2.17h-2.17zM2752.67 149.67h2.17v2.17h-2.17zM2754.83 149.67h2.17v2.17h-2.17zM2685.50 151.83h2.17v2.17h-2.17zM2687.67 151.83h2.17v2.17h-2.17zM2692.00 151.83h2.17v2.17h-2.17zM2694.17 151.83h2.17v2.17h-2.17zM2696.33 151.83h2.17v2.17h-2.17zM2700.67 151.83h2.17v2.17h-2.17zM2705.00 151.83h2.17v2.17h-2.17zM2707.17 151.83h2.17v2.17h-2.17zM2711.50 151.83h2.17v2.17h-2.17zM2713.67 151.83h2.17v2.17h-2.17zM2722.33 151.83h2.17v2.17h-2.17zM2728.83 151.83h2.17v2.17h-2.17zM2731.00 151.83h2.17v2.17h-2.17zM2737.50 151.83h2.17v2.17h-2.17zM2750.50 151.83h2.17v2.17h-2.17zM2752.67 151.83h2.17v2.17h-2.17zM2754.83 151.83h2.17v2.17h-2.17zM2687.67 154.00h2.17v2.17h-2.17zM2692.00 154.00h2.17v2.17h-2.17zM2694.17 154.00h2.17v2.17h-2.17zM2698.50 154.00h2.17v2.17h-2.17zM2700.67 154.00h2.17v2.17h-2.17zM2702.83 154.00h2.17v2.17h-2.17zM2705.00 154.00h2.17v2.17h-2.17zM2707.17 154.00h2.17v2.17h-2.17zM2713.67 154.00h2.17v2.17h-2.17zM2720.17 154.00h2.17v2.17h-2.17zM2724.50 154.00h2.17v2.17h-2.17zM2728.83 154.00h2.17v2.17h-2.17zM2744.00 154.00h2.17v2.17h-2.17zM2746.17 154.00h2.17v2.17h-2.17zM2748.33 154.00h2.17v2.17h-2.17zM2750.50 154.00h2.17v2.17h-2.17zM2752.67 154.00h2.17v2.17h-2.17zM2754.83 154.00h2.17v2.17h-2.17zM2694.17 156.17h2.17v2.17h-2.17zM2698.50 156.17h2.17v2.17h-2.17zM2702.83 156.17h2.17v2.17h-2.17zM2705.00 156.17h2.17v2.17h-2.17zM2707.17 156.17h2.17v2.17h-2.17zM2711.50 156.17h2.17v2.17h-2.17zM2715.83 156.17h2.17v2.17h-2.17zM2718.00 156.17h2.17v2.17h-2.17zM2724.50 156.17h2.17v2.17h-2.17zM2728.83 156.17h2.17v2.17h-2.17zM2744.00 156.17h2.17v2.17h-2.17zM2746.17 156.17h2.17v2.17h-2.17zM2750.50 156.17h2.17v2.17h-2.17zM2689.83 158.33h2.17v2.17h-2.17zM2696.33 158.33h2.17v2.17h-2.17zM2698.50 158.33h2.17v2.17h-2.17zM2702.83 158.33h2.17v2.17h-2.17zM2705.00 158.33h2.17v2.17h-2.17zM2715.83 158.33h2.17v2.17h-2.17zM2720.17 158.33h2.17v2.17h-2.17zM2722.33 158.33h2.17v2.17h-2.17zM2728.83 158.33h2.17v2.17h-2.17zM2733.17 158.33h2.17v2.17h-2.17zM2737.50 158.33h2.17v2.17h-2.17zM2739.67 158.33h2.17v2.17h-2.17zM2741.83 158.33h2.17v2.17h-2.17zM2744.00 158.33h2.17v2.17h-2.17zM2746.17 158.33h2.17v2.17h-2.17zM2750.50 158.33h2.17v2.17h-2.17zM2754.83 158.33h2.17v2.17h-2.17zM2689.83 160.50h2.17v2.17h-2.17zM2694.17 160.50h2.17v2.17h-2.17zM2696.33 160.50h2.17v2.17h-2.17zM2698.50 160.50h2.17v2.17h-2.17zM2700.67 160.50h2.17v2.17h-2.17zM2709.33 160.50h2.17v2.17h-2.17zM2711.50 160.50h2.17v2.17h-2.17zM2720.17 160.50h2.17v2.17h-2.17zM2724.50 160.50h2.17v2.17h-2.17zM2726.67 160.50h2.17v2.17h-2.17zM2728.83 160.50h2.17v2.17h-2.17zM2739.67 160.50h2.17v2.17h-2.17zM2741.83 160.50h2.17v2.17h-2.17zM2744.00 160.50h2.17v2.17h-2.17zM2746.17 160.50h2.17v2.17h-2.17zM2748.33 160.50h2.17v2.17h-2.17zM2750.50 160.50h2.17v2.17h-2.17zM2705.00 162.67h2.17v2.17h-2.17zM2709.33 162.67h2.17v2.17h-2.17zM2713.67 162.67h2.17v2.17h-2.17zM2722.33 162.67h2.17v2.17h-2.17zM2728.83 162.67h2.17v2.17h-2.17zM2741.83 162.67h2.17v2.17h-2.17zM2748.33 162.67h2.17v2.17h-2.17zM2754.83 162.67h2.17v2.17h-2.17zM2685.50 164.83h2.17v2.17h-2.17zM2687.67 164.83h2.17v2.17h-2.17zM2689.83 164.83h2.17v2.17h-2.17zM2692.00 164.83h2.17v2.17h-2.17zM2694.17 164.83h2.17v2.17h-2.17zM2696.33 164.83h2.17v2.17h-2.17zM2698.50 164.83h2.17v2.17h-2.17zM2705.00 164.83h2.17v2.17h-2.17zM2707.17 164.83h2.17v2.17h-2.17zM2713.67 164.83h2.17v2.17h-2.17zM2720.17 164.83h2.17v2.17h-2.17zM2733.17 164.83h2.17v2.17h-2.17zM2735.33 164.83h2.17v2.17h-2.17zM2737.50 164.83h2.17v2.17h-2.17zM2739.67 164.83h2.17v2.17h-2.17zM2744.00 164.83h2.17v2.17h-2.17zM2750.50 164.83h2.17v2.17h-2.17zM2754.83 164.83h2.17v2.17h-2.17zM2685.50 167.00h2.17v2.17h-2.17zM2698.50 167.00h2.17v2.17h-2.17zM2702.83 167.00h2.17v2.17h-2.17zM2707.17 167.00h2.17v2.17h-2.17zM2709.33 167.00h2.17v2.17h-2.17zM2711.50 167.00h2.17v2.17h-2.17zM2724.50 167.00h2.17v2.17h-2.17zM2728.83 167.00h2.17v2.17h-2.17zM2731.00 167.00h2.17v2.17h-2.17zM2739.67 167.00h2.17v2.17h-2.17zM2741.83 167.00h2.17v2.17h-2.17zM2748.33 167.00h2.17v2.17h-2.17zM2754.83 167.00h2.17v2.17h-2.17zM2685.50 169.17h2.17v2.17h-2.17zM2689.83 169.17h2.17v2.17h-2.17zM2692.00 169.17h2.17v2.17h-2.17zM2694.17 169.17h2.17v2.17h-2.17zM2698.50 169.17h2.17v2.17h-2.17zM2705.00 169.17h2.17v2.17h-2.17zM2707.17 169.17h2.17v2.17h-2.17zM2709.33 169.17h2.17v2.17h-2.17zM2711.50 169.17h2.17v2.17h-2.17zM2713.67 169.17h2.17v2.17h-2.17zM2715.83 169.17h2.17v2.17h-2.17zM2728.83 169.17h2.17v2.17h-2.17zM2731.00 169.17h2.17v2.17h-2.17zM2735.33 169.17h2.17v2.17h-2.17zM2737.50 169.17h2.17v2.17h-2.17zM2741.83 169.17h2.17v2.17h-2.17zM2744.00 169.17h2.17v2.17h-2.17zM2746.17 169.17h2.17v2.17h-2.17zM2750.50 169.17h2.17v2.17h-2.17zM2754.83 169.17h2.17v2.17h-2.17zM2685.50 171.33h2.17v2.17h-2.17zM2689.83 171.33h2.17v2.17h-2.17zM2692.00 171.33h2.17v2.17h-2.17zM2694.17 171.33h2.17v2.17h-2.17zM2698.50 171.33h2.17v2.17h-2.17zM2705.00 171.33h2.17v2.17h-2.17zM2707.17 171.33h2.17v2.17h-2.17zM2709.33 171.33h2.17v2.17h-2.17zM2711.50 171.33h2.17v2.17h-2.17zM2720.17 171.33h2.17v2.17h-2.17zM2722.33 171.33h2.17v2.17h-2.17zM2726.67 171.33h2.17v2.17h-2.17zM2728.83 171.33h2.17v2.17h-2.17zM2731.00 171.33h2.17v2.17h-2.17zM2735.33 171.33h2.17v2.17h-2.17zM2737.50 171.33h2.17v2.17h-2.17zM2739.67 171.33h2.17v2.17h-2.17zM2741.83 171.33h2.17v2.17h-2.17zM2746.17 171.33h2.17v2.17h-2.17zM2748.33 171.33h2.17v2.17h-2.17zM2685.50 173.50h2.17v2.17h-2.17zM2689.83 173.50h2.17v2.17h-2.17zM2692.00 173.50h2.17v2.17h-2.17zM2694.17 173.50h2.17v2.17h-2.17zM2698.50 173.50h2.17v2.17h-2.17zM2713.67 173.50h2.17v2.17h-2.17zM2720.17 173.50h2.17v2.17h-2.17zM2724.50 173.50h2.17v2.17h-2.17zM2726.67 173.50h2.17v2.17h-2.17zM2737.50 173.50h2.17v2.17h-2.17zM2746.17 173.50h2.17v2.17h-2.17zM2748.33 173.50h2.17v2.17h-2.17zM2750.50 173.50h2.17v2.17h-2.17zM2685.50 175.67h2.17v2.17h-2.17zM2698.50 175.67h2.17v2.17h-2.17zM2707.17 175.67h2.17v2.17h-2.17zM2715.83 175.67h2.17v2.17h-2.17zM2718.00 175.67h2.17v2.17h-2.17zM2720.17 175.67h2.17v2.17h-2.17zM2722.33 175.67h2.17v2.17h-2.17zM2724.50 175.67h2.17v2.17h-2.17zM2726.67 175.67h2.17v2.17h-2.17zM2733.17 175.67h2.17v2.17h-2.17zM2739.67 175.67h2.17v2.17h-2.17zM2741.83 175.67h2.17v2.17h-2.17zM2748.33 175.67h2.17v2.17h-2.17zM2752.67 175.67h2.17v2.17h-2.17zM2754.83 175.67h2.17v2.17h-2.17zM2685.50 177.83h2.17v2.17h-2.17zM2687.67 177.83h2.17v2.17h-2.17zM2689.83 177.83h2.17v2.17h-2.17zM2692.00 177.83h2.17v2.17h-2.17zM2694.17 177.83h2.17v2.17h-2.17zM2696.33 177.83h2.17v2.17h-2.17zM2698.50 177.83h2.17v2.17h-2.17zM2702.83 177.83h2.17v2.17h-2.17zM2713.67 177.83h2.17v2.17h-2.17zM2718.00 177.83h2.17v2.17h-2.17zM2720.17 177.83h2.17v2.17h-2.17zM2722.33 177.83h2.17v2.17h-2.17zM2724.50 177.83h2.17v2.17h-2.17zM2726.67 177.83h2.17v2.17h-2.17zM2728.83 177.83h2.17v2.17h-2.17zM2731.00 177.83h2.17v2.17h-2.17zM2737.50 177.83h2.17v2.17h-2.17zM2741.83 177.83h2.17v2.17h-2.17zM2744.00 177.83h2.17v2.17h-2.17zM2746.17 177.83h2.17v2.17h-2.17zM2754.83 177.83h2.17v2.17h-2.17z" fill="#000"/>
<text x="2580" y="89" class="t" font-size="23.5">Paper</text>
<text x="2686" y="89" class="t" font-size="23.5">Code</text>
<rect x="72.5" y="258.5" width="850" height="409" fill="#fff" stroke="#33187a" stroke-width="3"/>
<rect x="72.5" y="699.5" width="850" height="395" fill="#fff" stroke="#33187a" stroke-width="3"/>
<rect x="68.5" y="1123.5" width="851" height="599" fill="#fff" stroke="#33187a" stroke-width="3"/>
<rect x="986.5" y="259.5" width="850" height="660" fill="#fff" stroke="#33187a" stroke-width="3"/>
<rect x="985.5" y="943.5" width="849" height="395" fill="#fff" stroke="#33187a" stroke-width="3"/>
<rect x="987.5" y="1366.5" width="849" height="358" fill="#fff" stroke="#33187a" stroke-width="3"/>
<rect x="1899.5" y="258.5" width="851" height="351" fill="#fff" stroke="#33187a" stroke-width="3"/>
<rect x="1899.5" y="628.5" width="851" height="363" fill="#fff" stroke="#33187a" stroke-width="3"/>
<rect x="1899.5" y="1014.5" width="851" height="336" fill="#fff" stroke="#33187a" stroke-width="3"/>
<rect x="1899.5" y="1374.5" width="851" height="357" fill="#fff" stroke="#33187a" stroke-width="3"/>
<text x="117" y="305" class="t" font-size="35.25" >Overview</text>
<text x="113.5" y="347" class="b" font-size="23.6" >How do we select between hypotheses that are entirely consistent</text>
<text x="113.5" y="374.5" class="b" font-size="23.6" >with any observations?</text>
<text x="114" y="431.5" class="i" font-size="23.6" >The marginal likelihood, which represents the probability of generating</text>
<text x="114" y="459.7" class="i" font-size="23.6" >our data from a prior, provides an answer that encodes Occam’s razor.</text>
<text x="270" y="511" class="r" font-size="27" textLength="131" lengthAdjust="spacingAndGlyphs"><tspan class="m">p</tspan>(<tspan class="m">D</tspan> |<tspan class="m">M</tspan>) =</text>
<text x="408" y="518" class="r" font-size="58">∫</text>
<text x="434" y="511" class="r" font-size="27" textLength="275" lengthAdjust="spacingAndGlyphs"><tspan class="m">p</tspan>(<tspan class="m">D</tspan>|<tspan class="m">w</tspan>, <tspan class="m">M</tspan>) <tspan class="m">p</tspan>(<tspan class="m">w</tspan>|<tspan class="m">M</tspan>) <tspan class="m">dw</tspan></text>
<text x="108.5" y="584" class="s" font-size="23.6" >We fundamentally re-evaluate whether the log marginal likelihood (LML)</text>
<text x="108.5" y="611.5" class="s" font-size="23.6" >is the right metric for predicting the generalization of trained models and</text>
<text x="108.5" y="639.4" class="s" font-size="23.6" >hyper learning, and pursue a conditional marginal likelihood alternative.</text>
<text x="112" y="751" class="t" font-size="35.25" >The marginal likelihood encodes Occam’s razor</text>
<text x="118.5" y="810" class="s" font-size="23.6" >Occam’s Razor: <tspan class="i">“we should</tspan></text>
<text x="118.5" y="838.2" class="s" font-size="23.6" ><tspan class="i">accept the </tspan><tspan font-weight="bold" font-style="italic">simplest</tspan><tspan class="i"> explanation</tspan></text>
<text x="118.5" y="865.7" class="i" font-size="23.6" >that fits the data” [MacKay</text>
<text x="118.5" y="893" class="i" font-size="23.6" >2003].</text>
<text x="520.5" y="810" class="s" font-size="23.6" >The marginal likelihood is a</text>
<text x="520.5" y="838.2" class="s" font-size="23.6" ><tspan class="b">normalized</tspan> probability density: the</text>
<text x="520.5" y="865.7" class="s" font-size="23.6" ><tspan class="b">most constrained</tspan> model covering</text>
<text x="520.5" y="893" class="s" font-size="23.6" >the dataset wins <tspan class="i">[MacKay 2003].</tspan></text>
<text x="101" y="1170" class="t" font-size="35.25" >The marginal likelihood is NOT generalization</text>
<text x="115.5" y="1219.5" class="s" font-size="23.6">Density estimation example:</text>
<text x="417" y="1219.5" class="r" font-size="27" textLength="262" lengthAdjust="spacingAndGlyphs"><tspan class="m">x</tspan>∼<tspan class="m">N</tspan>(<tspan class="m">u</tspan>, 1), <tspan class="m">u</tspan>∼<tspan class="m">N</tspan>(<tspan class="m">μ</tspan>, <tspan class="m">σ</tspan></text>
<text x="680" y="1208" class="r" font-size="18">2</text><text x="689" y="1219.5" class="r" font-size="27">)</text>
<text x="115.5" y="1261.3" class="s" font-size="23.6" >The marginal likelihood can have a strong preference between models</text>
<text x="115.5" y="1289.2" class="s" font-size="23.6" >with identical predictive distributions, due to its <tspan class="b">sensitivity to the prior.</tspan></text>
<text x="125" y="1554" class="s" font-size="23.6" >Therefore the marginal likelihood can easily</text>
<text x="125" y="1582" class="s" font-size="23.6" >favour a model with a worse generalization</text>
<text x="125" y="1609.7" class="s" font-size="23.6" >performance:</text>
<text x="1021" y="302" class="t" font-size="35.25" >The marginal likelihood penalizes diffuse priors</text>
<text x="1433" y="391.8" class="s" font-size="23.6" >The marginal likelihood heavily</text>
<text x="1433" y="420.3" class="s" font-size="23.6" >penalizes models where the</text>
<text x="1433" y="447.5" class="s" font-size="23.6" >posterior after observing data is</text>
<text x="1433" y="476" class="s" font-size="23.6" >much more concentrated than</text>
<text x="1433" y="503.6" class="s" font-size="23.6" >the prior, even if the posterior</text>
<text x="1433" y="532" class="s" font-size="23.6" >generalizes well.</text>
<text x="1012" y="607.6" class="s" font-size="23.6">The LML can be decomposed as follows:</text>
<text x="1445.5" y="607.6" class="r" font-size="26" textLength="156" lengthAdjust="spacingAndGlyphs">log <tspan class="m">p</tspan>(<tspan class="m">D</tspan> |<tspan class="m">M</tspan>) =</text>
<text x="1606" y="607.6" class="r" font-size="26">∑</text>
<text x="1624" y="597" class="m" font-size="16">n</text><text x="1623" y="613" class="r" font-size="16"><tspan class="m">i</tspan>=1</text>
<text x="1646" y="607.6" class="r" font-size="26" textLength="86" lengthAdjust="spacingAndGlyphs">log <tspan class="m">p</tspan>(<tspan class="m">D</tspan></text>
<text x="1732" y="612" class="m" font-size="16">i</text>
<text x="1738" y="607.6" class="r" font-size="26">|<tspan class="m">D</tspan></text>
<text x="1764" y="612" class="r" font-size="16">&lt;<tspan class="m">i</tspan></text>
<text x="1781" y="607.6" class="r" font-size="26" textLength="40" lengthAdjust="spacingAndGlyphs">, <tspan class="m">M</tspan>)</text>
<text x="1010.5" y="726.4" class="s" font-size="23.6" >The first terms in this</text>
<text x="1010.5" y="754.5" class="s" font-size="23.6" >decomposition are irrelevant to</text>
<text x="1010.5" y="782" class="s" font-size="23.6" >generalization but have a large</text>
<text x="1010.5" y="810.6" class="s" font-size="23.6" >effect on the LML.</text>
<text x="1009" y="987" class="t" font-size="35.25" >The marginal likelihood can overfit</text>
<text x="1011.5" y="1042.4" class="s" font-size="23.6" >The LML can favor a prior</text>
<text x="1011.5" y="1070.6" class="s" font-size="23.6" >around a <tspan class="b">severely overfit</tspan></text>
<text x="1011.5" y="1098.7" class="s" font-size="23.6" >maximum likelihood solution.</text>
<text x="1351.5" y="1046" class="s" font-size="23.6" >The LML can overfit by ignoring uncertainty</text>
<text x="1353" y="1097" class="r" font-size="22.5" textLength="300" lengthAdjust="spacingAndGlyphs"><tspan class="m">f</tspan> (<tspan class="m">X</tspan>)∼<tspan class="m">N</tspan>(<tspan class="m">m</tspan>(<tspan class="m">X</tspan>), <tspan class="m">k</tspan>(<tspan class="m">X</tspan>, <tspan class="m">X</tspan>)); <tspan class="m">k</tspan>(<tspan class="m">x</tspan>, <tspan class="m">x′</tspan>) = exp</text>
<text x="1656" y="1102" class="r" font-size="36">(</text>
<text x="1669" y="1097" class="r" font-size="22">−</text>
<text x="1688" y="1084" class="r" font-size="19">1</text>
<rect x="1682" y="1090" width="24" height="1.3" fill="#000"/>
<text x="1682" y="1112" class="r" font-size="19">2<tspan class="m">l</tspan><tspan font-size="13" dy="-7">2</tspan></text>
<text x="1710" y="1097" class="r" font-size="22.5" textLength="64" lengthAdjust="spacingAndGlyphs">||<tspan class="m">x</tspan> − <tspan class="m">x′</tspan>||</text>
<text x="1775" y="1085" class="r" font-size="14">2</text>
<text x="1784" y="1102" class="r" font-size="36">)</text>
<text x="1010" y="1410" class="t" font-size="35.25" >The marginal likelihood can underfit</text>
<text x="1024" y="1463.6" class="s" font-size="23.6" >Underfitting to avoid</text>
<text x="1024" y="1491.8" class="s" font-size="23.6" >supporting bad solutions.</text>
<text x="1350" y="1468.2" class="s" font-size="23.6" >Underfitting in the function space</text>
<text x="1354" y="1510" class="r" font-size="22.5" textLength="300" lengthAdjust="spacingAndGlyphs"><tspan class="m">f</tspan> (<tspan class="m">X</tspan>)∼<tspan class="m">N</tspan>(<tspan class="m">m</tspan>(<tspan class="m">X</tspan>), <tspan class="m">k</tspan>(<tspan class="m">X</tspan>, <tspan class="m">X</tspan>)); <tspan class="m">k</tspan>(<tspan class="m">x</tspan>, <tspan class="m">x′</tspan>) = exp</text>
<text x="1657" y="1515" class="r" font-size="36">(</text>
<text x="1670" y="1510" class="r" font-size="22">−</text>
<text x="1689" y="1497" class="r" font-size="19">1</text>
<rect x="1683" y="1503" width="24" height="1.3" fill="#000"/>
<text x="1683" y="1525" class="r" font-size="19">2<tspan class="m">l</tspan><tspan font-size="13" dy="-7">2</tspan></text>
<text x="1711" y="1510" class="r" font-size="22.5" textLength="64" lengthAdjust="spacingAndGlyphs">||<tspan class="m">x</tspan> − <tspan class="m">x′</tspan>||</text>
<text x="1776" y="1498" class="r" font-size="14">2</text>
<text x="1785" y="1515" class="r" font-size="36">)</text>
<text x="1928.5" y="305" class="t" font-size="35.25" >The conditional marginal likelihood</text>
<text x="1932" y="362.9" class="i" font-size="23.6" >We form a posterior over a subset of the data and use it as a prior to</text>
<text x="1932" y="391" class="i" font-size="23.6" >compute LML for the rest of the data, resulting in the conditional log</text>
<text x="1932" y="419.4" class="i" font-size="23.6" >marginal likelihood (CLML):</text>
<text x="2106" y="480" class="r" font-size="27" textLength="258" lengthAdjust="spacingAndGlyphs">log <tspan class="m">p</tspan>(<tspan class="m">D</tspan><tspan font-size="19" dy="6">≥<tspan class="m">m</tspan></tspan><tspan dy="-6">|<tspan class="m">D</tspan></tspan><tspan font-size="19" dy="6">&lt;<tspan class="m">m</tspan></tspan><tspan dy="-6">, <tspan class="m">M</tspan>) =</tspan></text>
<text x="2381.5" y="484.5" class="r" font-size="58" textLength="35" lengthAdjust="spacingAndGlyphs">∑</text>
<text x="2392" y="438" class="m" font-size="20">n</text>
<text x="2381" y="513" class="m" font-size="20" textLength="35" lengthAdjust="spacingAndGlyphs">i<tspan class="r">=</tspan>m</text>
<text x="2425.7" y="480" class="r" font-size="27" textLength="192" lengthAdjust="spacingAndGlyphs">log <tspan class="m">p</tspan>(<tspan class="m">D</tspan><tspan font-size="19" dy="6"><tspan class="m">i</tspan></tspan><tspan dy="-6">|<tspan class="m">D</tspan></tspan><tspan font-size="19" dy="6">&lt;<tspan class="m">i</tspan></tspan><tspan dy="-6">, <tspan class="m">M</tspan>)</tspan></text>
<circle cx="1938.6" cy="542.5" r="4.2" fill="#000"/>
<text x="1957" y="550" class="s" font-size="23.6" >Equivalent to removing the early terms in the LML decomposition.</text>
<circle cx="1938.6" cy="570.5" r="4.2" fill="#000"/>
<text x="1957" y="578" class="s" font-size="23.6" >Has not been used for hyper learning, approx. inference, or underfitting.</text>
<text x="1928" y="678.5" class="t" font-size="35.25" >The CLML is more aligned with generalization</text>
<circle cx="2187.5" cy="731.7" r="4.2" fill="#000"/>
<text x="2206.5" y="739.2" class="s" font-size="23.6" >Fourier model:</text>
<text x="2251" y="767.4" class="r" font-size="26" textLength="455" lengthAdjust="spacingAndGlyphs"><tspan class="m">f</tspan> (<tspan class="m">x</tspan>, <tspan class="m">a</tspan>, <tspan class="m">b</tspan>) = ∑<tspan font-size="16" dy="-9" class="m">D</tspan><tspan font-size="16" dy="15" dx="-10"><tspan class="m">d</tspan>=1</tspan><tspan dy="-6"> <tspan class="m">a</tspan></tspan><tspan font-size="16" dy="5" class="m">d</tspan><tspan dy="-5"> sin(<tspan class="m">d</tspan> · <tspan class="m">x</tspan>) + <tspan class="m">b</tspan></tspan><tspan font-size="16" dy="5" class="m">d</tspan><tspan dy="-5"> cos(<tspan class="m">d</tspan> · <tspan class="m">x</tspan>)</tspan></text>
<circle cx="2187.5" cy="788.2" r="4.2" fill="#000"/>
<text x="2206.5" y="795.7" class="s" font-size="23.6" >LML prefers degree-3 <tspan class="m" font-family="Liberation Serif">M</tspan><tspan font-size="16" dy="4">3</tspan><tspan dy="-4"> model that underfits</tspan></text>
<text x="2206.5" y="824.0" class="s" font-size="23.6" >and heavily penalizes the degree-9 model</text>
<circle cx="2187.5" cy="844.5" r="4.2" fill="#000"/>
<text x="2206.5" y="852.0" class="s" font-size="23.6" >LML assigns a high likelihood to <tspan class="m">M</tspan><tspan font-size="16" dy="4">9<tspan class="m">c</tspan></tspan><tspan dy="-4">, a degree-9</tspan></text>
<text x="2206.5" y="879.7" class="s" font-size="23.6" >model with a modified prior which makes</text>
<text x="2206.5" y="908.6" class="s" font-size="23.6" >identical predictions to <tspan class="m">M</tspan><tspan font-size="16" dy="4">9</tspan><tspan dy="-4">.</tspan></text>
<circle cx="2187.5" cy="929.4" r="4.2" fill="#000"/>
<text x="2206.5" y="936.9" class="s" font-size="23.6" >CLML correctly prefers <tspan class="m">M</tspan><tspan font-size="16" dy="4">9</tspan><tspan dy="-4"> to </tspan><tspan class="m">M</tspan><tspan font-size="16" dy="4">3</tspan><tspan dy="-4">.</tspan></text>
<text x="1928" y="1062.5" class="t" font-size="35.25" >The CLML for neural architecture search</text>
<circle cx="1933" cy="1119.2" r="4.2" fill="#000"/>
<text x="1950.5" y="1126.7" class="s" font-size="23.6" >The LML is not always aligned with generalization.</text>
<circle cx="1933" cy="1146.7" r="4.2" fill="#000"/>
<text x="1950.5" y="1154.2" class="s" font-size="23.6" >The CLML is aligned with generalization for all prior precisions!</text>
<text x="1923.5" y="1427" class="t" font-size="35.25" >The CLML for large-scale hyperparameter learning</text>
<text x="1926.5" y="1490.2" class="s" font-size="23.6" >The CLML is more effective for deep kernel hyperparameter learning,</text>
<text x="1926.5" y="1517.7" class="s" font-size="23.6" >especially in the low data regime.</text>
<rect x="110.5" y="918.5" width="152" height="143.5" fill="#fff" stroke="#33187a" stroke-width="3"/>
<rect x="115" y="921.5" width="140" height="135" fill="#daf1f2" stroke="#bbb" stroke-width="0.6"/>
<rect x="121.3" y="1038" width="9.2" height="18.5" fill="#c8c8c8" stroke="#999" stroke-width="0.4"/>
<rect x="124.1" y="1047" width="15.8" height="9.5" fill="#888" />
<rect x="146.1" y="1040.7" width="42.9" height="15.8" fill="#aaa" stroke="#999" stroke-width="0.4"/>
<rect x="161" y="1022.7" width="21.6" height="33.8" fill="#2a2a2a"/>
<rect x="197.5" y="1038" width="28.3" height="18.5" fill="#cacaca" stroke="#999" stroke-width="0.4"/>
<rect x="231" y="1035" width="12.9" height="21.5" fill="#2a2a2a"/>
<rect x="204.2" y="983.7" width="8.5" height="72.8" fill="#fff" stroke="#bbb" stroke-width="0.4"/>
<path d="M170 954 C166 944 176 937 188 938 C189 941 190 943 193 942 C203 940 215 943 222 950 L215 953 C228 958 240 964 245 971 C246 978 241 980 247 986 C248 994 242 998 236 996 C224 994 215 985 212 980 C209 978 206 982 204 986 C200 990 196 998 193 996 C190 993 187 985 191 980 C190 975 186 976 180 979 C170 983 160 989 152 986 C146 984 144 980 150 975 C158 969 168 966 172 962 z" fill="#10b010"/>
<rect x="288.7" y="918.5" width="158.5" height="143.5" fill="#fff" stroke="#33187a" stroke-width="3"/>
<path d="M324 986.6 C312 966.6 315 932 372 924 C430 932 433 966.6 420 986.6 z" fill="#daf1f2"/>
<line x1="324" y1="986.6" x2="420" y2="986.6" stroke="#aaa" stroke-width="0.8"/>
<path d="M324 1052 C312 1032 315 997.6 372 989.6 C430 997.6 433 1032 420 1052 z" fill="#daf1f2"/>
<line x1="324" y1="1052" x2="420" y2="1052" stroke="#aaa" stroke-width="0.8"/>
<rect x="350.5" y="962.5" width="49" height="24.1" fill="#c8c8c8" stroke="#999" stroke-width="0.6"/>
<rect x="350.5" y="1027.6" width="16.9" height="24.4" fill="#c8c8c8" stroke="#999" stroke-width="0.6"/>
<rect x="374.6" y="1027.6" width="24.9" height="24.4" fill="#c8c8c8" stroke="#999" stroke-width="0.6"/>
<line x1="361.2" y1="924" x2="361.2" y2="1052" stroke="#555" stroke-width="0.7" stroke-dasharray="2.5,2"/>
<line x1="377.6" y1="924" x2="377.6" y2="1052" stroke="#777" stroke-width="0.7" stroke-dasharray="1,1.5"/>
<text x="307" y="988" class="r" font-size="8" fill="#555">1?</text>
<text x="294" y="1054" class="r" font-size="8" fill="#555">or 2?</text>
<rect x="532.9" y="918.7" width="283.3" height="143" fill="#fff" stroke="#33187a" stroke-width="3"/>
<path d="M543 1033.4 C555 1033 562 1033 566 1031 C572 1025 576 1013.5 582 1013 L740 1012.7 C747 1013 751 1026 756 1031 C760 1033 770 1033 787 1033.4" fill="none" stroke="#222" stroke-width="1.15"/>
<path d="M630 1033.4 C636 1030 638 1010 641 990 C644 965 648 949 656 948.7 L666 948.7 C673 949 677 965 680 990 C683 1010 686 1030 692 1033.4" fill="none" stroke="#8a8a8a" stroke-width="1.2"/>
<line x1="543" y1="1033.4" x2="785" y2="1033.4" stroke="#111" stroke-width="1.3"/>
<path d="M787 1033.4 l-5 -1.6 v3.2 z" fill="#111"/>
<line x1="661.2" y1="1033.4" x2="661.2" y2="937" stroke="#111" stroke-width="1.3"/>
<path d="M661.2 935 l-1.6 5 h3.2 z" fill="#111"/>
<line x1="641" y1="1038.4" x2="681" y2="1038.4" stroke="#111" stroke-width="0.8"/>
<path d="M640 1038.4 l5 -1.5 v3 z M682.5 1038.4 l-5 -1.5 v3 z" fill="#111"/>
<text x="664.5" y="943.5" class="r" font-size="9.6" fill="#222" textLength="38.5" lengthAdjust="spacingAndGlyphs">Evidence</text>
<text x="678.8" y="977" class="r" font-size="9.6" fill="#222">P(D|H<tspan font-size="7.5" dy="4">1</tspan><tspan dy="-4">)</tspan></text>
<text x="588.9" y="1005" class="r" font-size="9.6" fill="#222">P(D|H<tspan font-size="7.5" dy="4">2</tspan><tspan dy="-4">)</tspan></text>
<text x="658.3" y="1047.3" class="r" font-size="9.6" fill="#222">C<tspan font-size="7.5" dy="4">1</tspan></text>
<text x="755" y="1043.3" class="r" font-size="9.6" fill="#222">D</text>
<rect x="219.3" y="1321.2" width="92.80000000000001" height="91.29999999999995" fill="#fff" stroke="#e3e3e3" stroke-width="0.9"/><line x1="244.7" y1="1321.2" x2="244.7" y2="1412.5" stroke="#e3e3e3" stroke-width="0.9"/><line x1="286.6" y1="1321.2" x2="286.6" y2="1412.5" stroke="#e3e3e3" stroke-width="0.9"/><line x1="219.3" y1="1330.9" x2="312.1" y2="1330.9" stroke="#e3e3e3" stroke-width="0.9"/><line x1="219.3" y1="1344.1" x2="312.1" y2="1344.1" stroke="#e3e3e3" stroke-width="0.9"/><line x1="219.3" y1="1357" x2="312.1" y2="1357" stroke="#e3e3e3" stroke-width="0.9"/><line x1="219.3" y1="1369.5" x2="312.1" y2="1369.5" stroke="#e3e3e3" stroke-width="0.9"/><line x1="219.3" y1="1382.5" x2="312.1" y2="1382.5" stroke="#e3e3e3" stroke-width="0.9"/><line x1="219.3" y1="1395.3" x2="312.1" y2="1395.3" stroke="#e3e3e3" stroke-width="0.9"/><line x1="219.3" y1="1408.5" x2="312.1" y2="1408.5" stroke="#e3e3e3" stroke-width="0.9"/>
<text x="210.3" y="1333.1000000000001" class="s" font-size="7.4" fill="#3a3a3a" text-anchor="end">−60.5</text>
<text x="210.3" y="1346.3" class="s" font-size="7.4" fill="#3a3a3a" text-anchor="end">−61.0</text>
<text x="210.3" y="1359.2" class="s" font-size="7.4" fill="#3a3a3a" text-anchor="end">−61.5</text>
<text x="210.3" y="1371.7" class="s" font-size="7.4" fill="#3a3a3a" text-anchor="end">−62.0</text>
<text x="210.3" y="1384.7" class="s" font-size="7.4" fill="#3a3a3a" text-anchor="end">−62.5</text>
<text x="210.3" y="1397.5" class="s" font-size="7.4" fill="#3a3a3a" text-anchor="end">−63.0</text>
<text x="210.3" y="1410.7" class="s" font-size="7.4" fill="#3a3a3a" text-anchor="end">−63.5</text>
<text x="186" y="1367" class="s" font-size="8.5" fill="#3a3a3a" text-anchor="middle" transform="rotate(-90 186 1367)">MLL</text>
<text x="244.7" y="1425.7" class="r" font-size="6.5" fill="#3a3a3a" text-anchor="middle">10<tspan font-size="4.5" dy="-3">0</tspan></text>
<text x="286.6" y="1425.7" class="r" font-size="6.5" fill="#3a3a3a" text-anchor="middle">10<tspan font-size="4.5" dy="-3">2</tspan></text>
<text x="265.8" y="1436.3" class="s" font-size="8.6" fill="#3a3a3a" text-anchor="middle">Prior variance <tspan class="m">σ</tspan><tspan font-size="5" dy="-3">2</tspan></text>
<path d="M223.5 1357.0 C224.1 1355.0 225.6 1349.0 227.0 1345.0 C228.4 1341.0 229.8 1336.3 232.0 1333.0 C234.2 1329.7 237.3 1326.2 240.0 1325.4 C242.7 1324.6 245.0 1326.2 248.0 1328.0 C251.0 1329.8 254.3 1332.3 258.0 1336.0 C261.7 1339.7 265.5 1344.2 270.0 1350.0 C274.5 1355.8 280.0 1363.8 285.0 1371.0 C290.0 1378.2 296.1 1386.8 300.0 1393.0 C303.9 1399.2 306.8 1405.9 308.1 1408.5" fill="none" stroke="#3a72c4" stroke-width="1.6" stroke-linejoin="round" stroke-linecap="round" />
<rect x="381.2" y="1321.2" width="93.30000000000001" height="91.29999999999995" fill="#fff" stroke="#e3e3e3" stroke-width="0.9"/><line x1="407.1" y1="1321.2" x2="407.1" y2="1412.5" stroke="#e3e3e3" stroke-width="0.9"/><line x1="449.4" y1="1321.2" x2="449.4" y2="1412.5" stroke="#e3e3e3" stroke-width="0.9"/><line x1="381.2" y1="1341" x2="474.5" y2="1341" stroke="#e3e3e3" stroke-width="0.9"/><line x1="381.2" y1="1361" x2="474.5" y2="1361" stroke="#e3e3e3" stroke-width="0.9"/><line x1="381.2" y1="1382" x2="474.5" y2="1382" stroke="#e3e3e3" stroke-width="0.9"/><line x1="381.2" y1="1402.6" x2="474.5" y2="1402.6" stroke="#e3e3e3" stroke-width="0.9"/>
<text x="373" y="1343.2" class="s" font-size="7.4" fill="#3a3a3a" text-anchor="end">−474.0</text>
<text x="373" y="1363.2" class="s" font-size="7.4" fill="#3a3a3a" text-anchor="end">−474.5</text>
<text x="373" y="1384.2" class="s" font-size="7.4" fill="#3a3a3a" text-anchor="end">−475.0</text>
<text x="373" y="1404.8" class="s" font-size="7.4" fill="#3a3a3a" text-anchor="end">−475.5</text>
<text x="344" y="1367" class="s" font-size="8.5" fill="#3a3a3a" text-anchor="middle" transform="rotate(-90 344 1367)">Test LL</text>
<text x="407.1" y="1425.7" class="r" font-size="6.5" fill="#3a3a3a" text-anchor="middle">10<tspan font-size="4.5" dy="-3">0</tspan></text>
<text x="449.4" y="1425.7" class="r" font-size="6.5" fill="#3a3a3a" text-anchor="middle">10<tspan font-size="4.5" dy="-3">2</tspan></text>
<text x="428" y="1436.3" class="s" font-size="8.6" fill="#3a3a3a" text-anchor="middle">Prior variance <tspan class="m">σ</tspan><tspan font-size="5" dy="-3">2</tspan></text>
<path d="M386.0 1408.0 C386.5 1404.2 387.7 1393.0 389.0 1385.0 C390.3 1377.0 392.2 1366.5 394.0 1360.0 C395.8 1353.5 398.0 1349.7 400.0 1346.0 C402.0 1342.3 403.3 1340.6 406.0 1338.0 C408.7 1335.4 412.0 1332.3 416.0 1330.5 C420.0 1328.7 424.3 1327.8 430.0 1327.0 C435.7 1326.2 443.2 1326.2 450.0 1326.0 C456.8 1325.8 467.3 1325.7 470.8 1325.6" fill="none" stroke="#d97a7a" stroke-width="1.6" stroke-linejoin="round" stroke-linecap="round" />
<rect x="529.6" y="1321.2" width="93.0" height="91.29999999999995" fill="#fff" stroke="#e3e3e3" stroke-width="0.9"/><line x1="554.5" y1="1321.2" x2="554.5" y2="1412.5" stroke="#e3e3e3" stroke-width="0.9"/><line x1="596.7" y1="1321.2" x2="596.7" y2="1412.5" stroke="#e3e3e3" stroke-width="0.9"/><line x1="529.6" y1="1333.8" x2="622.6" y2="1333.8" stroke="#e3e3e3" stroke-width="0.9"/><line x1="529.6" y1="1346.8" x2="622.6" y2="1346.8" stroke="#e3e3e3" stroke-width="0.9"/><line x1="529.6" y1="1360" x2="622.6" y2="1360" stroke="#e3e3e3" stroke-width="0.9"/><line x1="529.6" y1="1373.2" x2="622.6" y2="1373.2" stroke="#e3e3e3" stroke-width="0.9"/><line x1="529.6" y1="1386.5" x2="622.6" y2="1386.5" stroke="#e3e3e3" stroke-width="0.9"/><line x1="529.6" y1="1399.6" x2="622.6" y2="1399.6" stroke="#e3e3e3" stroke-width="0.9"/>
<text x="521" y="1336.0" class="s" font-size="6.8" fill="#3a3a3a" text-anchor="end">0.775</text>
<text x="521" y="1349.0" class="s" font-size="6.8" fill="#3a3a3a" text-anchor="end">0.750</text>
<text x="521" y="1362.2" class="s" font-size="6.8" fill="#3a3a3a" text-anchor="end">0.725</text>
<text x="521" y="1375.4" class="s" font-size="6.8" fill="#3a3a3a" text-anchor="end">0.700</text>
<text x="521" y="1388.7" class="s" font-size="6.8" fill="#3a3a3a" text-anchor="end">0.675</text>
<text x="521" y="1401.8" class="s" font-size="6.8" fill="#3a3a3a" text-anchor="end">0.650</text>
<text x="521" y="1414.7" class="s" font-size="6.8" fill="#3a3a3a" text-anchor="end">0.625</text>
<text x="497" y="1367" class="s" font-size="7.8" fill="#3a3a3a" text-anchor="middle" transform="rotate(-90 497 1367)">Predictive mean</text>
<text x="554.5" y="1425.7" class="r" font-size="6.5" fill="#3a3a3a" text-anchor="middle">10<tspan font-size="4.5" dy="-3">0</tspan></text>
<text x="596.7" y="1425.7" class="r" font-size="6.5" fill="#3a3a3a" text-anchor="middle">10<tspan font-size="4.5" dy="-3">2</tspan></text>
<text x="575.5" y="1436.3" class="s" font-size="8.6" fill="#3a3a3a" text-anchor="middle">Prior variance <tspan class="m">σ</tspan><tspan font-size="5" dy="-3">2</tspan></text>
<path d="M533.6 1408.0 C534.2 1404.2 535.8 1392.7 537.0 1385.0 C538.2 1377.3 539.5 1368.5 541.0 1362.0 C542.5 1355.5 543.8 1350.4 546.0 1346.0 C548.2 1341.6 551.0 1338.6 554.0 1335.8 C557.0 1333.0 560.0 1330.6 564.0 1329.0 C568.0 1327.4 572.0 1326.8 578.0 1326.3 C584.0 1325.8 593.2 1325.8 600.0 1325.7 C606.8 1325.6 615.8 1325.6 618.9 1325.6" fill="none" stroke="#222" stroke-width="1.8" stroke-linejoin="round" stroke-linecap="round" />
<rect x="677.8" y="1321.2" width="92.90000000000009" height="91.29999999999995" fill="#fff" stroke="#e3e3e3" stroke-width="0.9"/><line x1="703.5" y1="1321.2" x2="703.5" y2="1412.5" stroke="#e3e3e3" stroke-width="0.9"/><line x1="745.2" y1="1321.2" x2="745.2" y2="1412.5" stroke="#e3e3e3" stroke-width="0.9"/><line x1="677.8" y1="1325.6" x2="770.7" y2="1325.6" stroke="#e3e3e3" stroke-width="0.9"/><line x1="677.8" y1="1341.7" x2="770.7" y2="1341.7" stroke="#e3e3e3" stroke-width="0.9"/><line x1="677.8" y1="1358.7" x2="770.7" y2="1358.7" stroke="#e3e3e3" stroke-width="0.9"/><line x1="677.8" y1="1375.2" x2="770.7" y2="1375.2" stroke="#e3e3e3" stroke-width="0.9"/><line x1="677.8" y1="1391.7" x2="770.7" y2="1391.7" stroke="#e3e3e3" stroke-width="0.9"/><line x1="677.8" y1="1408.3" x2="770.7" y2="1408.3" stroke="#e3e3e3" stroke-width="0.9"/>
<text x="668.9" y="1327.8" class="s" font-size="6.8" fill="#3a3a3a" text-anchor="end">1.025</text>
<text x="668.9" y="1343.9" class="s" font-size="6.8" fill="#3a3a3a" text-anchor="end">1.024</text>
<text x="668.9" y="1360.9" class="s" font-size="6.8" fill="#3a3a3a" text-anchor="end">1.023</text>
<text x="668.9" y="1377.4" class="s" font-size="6.8" fill="#3a3a3a" text-anchor="end">1.022</text>
<text x="668.9" y="1393.9" class="s" font-size="6.8" fill="#3a3a3a" text-anchor="end">1.021</text>
<text x="668.9" y="1410.5" class="s" font-size="6.8" fill="#3a3a3a" text-anchor="end">1.020</text>
<text x="645" y="1367" class="s" font-size="7.8" fill="#3a3a3a" text-anchor="middle" transform="rotate(-90 645 1367)">Predictive variance</text>
<text x="703.5" y="1425.7" class="r" font-size="6.5" fill="#3a3a3a" text-anchor="middle">10<tspan font-size="4.5" dy="-3">0</tspan></text>
<text x="745.2" y="1425.7" class="r" font-size="6.5" fill="#3a3a3a" text-anchor="middle">10<tspan font-size="4.5" dy="-3">2</tspan></text>
<text x="724" y="1436.3" class="s" font-size="8.6" fill="#3a3a3a" text-anchor="middle">Prior variance <tspan class="m">σ</tspan><tspan font-size="5" dy="-3">2</tspan></text>
<path d="M681.7 1408.3 C682.2 1404.6 683.6 1393.7 685.0 1386.0 C686.4 1378.3 688.0 1369.3 690.0 1362.0 C692.0 1354.7 694.2 1347.0 697.0 1342.0 C699.8 1337.0 703.2 1334.5 707.0 1332.0 C710.8 1329.5 714.5 1328.3 720.0 1327.3 C725.5 1326.3 732.3 1326.3 740.0 1326.0 C747.7 1325.7 762.0 1325.7 766.4 1325.6" fill="none" stroke="#8e9bb0" stroke-width="1.6" stroke-linejoin="round" stroke-linecap="round" />
<text x="167.5" y="1460.8" class="r" font-size="14.2" fill="#111">(a) Marginal log-likelihood</text>
<text x="341.5" y="1460.8" class="r" font-size="14.2" fill="#111">(b) Test log-likelihood</text>
<text x="501.5" y="1460.8" class="r" font-size="14.2" fill="#111">(c) Predictive mean</text>
<text x="640.5" y="1460.8" class="r" font-size="14.2" fill="#111">(d) Predictive variance</text>
<rect x="655.5" y="1596.5" width="167.29999999999995" height="80.59999999999991" fill="#fff" stroke="#e3e3e3" stroke-width="0.9"/><line x1="663.1" y1="1596.5" x2="663.1" y2="1677.1" stroke="#e3e3e3" stroke-width="0.9"/><line x1="691.3" y1="1596.5" x2="691.3" y2="1677.1" stroke="#e3e3e3" stroke-width="0.9"/><line x1="719.4" y1="1596.5" x2="719.4" y2="1677.1" stroke="#e3e3e3" stroke-width="0.9"/><line x1="747.2" y1="1596.5" x2="747.2" y2="1677.1" stroke="#e3e3e3" stroke-width="0.9"/><line x1="775.7" y1="1596.5" x2="775.7" y2="1677.1" stroke="#e3e3e3" stroke-width="0.9"/><line x1="803.8" y1="1596.5" x2="803.8" y2="1677.1" stroke="#e3e3e3" stroke-width="0.9"/><line x1="655.5" y1="1611.7" x2="822.8" y2="1611.7" stroke="#e3e3e3" stroke-width="0.9"/><line x1="655.5" y1="1640.6" x2="822.8" y2="1640.6" stroke="#e3e3e3" stroke-width="0.9"/><line x1="655.5" y1="1670.2" x2="822.8" y2="1670.2" stroke="#e3e3e3" stroke-width="0.9"/>
<path d="M663.2 1669.1 L665.8 1668.7 L668.3 1668.3 L670.9 1667.8 L673.4 1667.2 L676.0 1666.5 L678.5 1665.7 L681.1 1664.7 L683.6 1663.5 L686.2 1662.1 L688.7 1660.6 L691.3 1658.8 L693.8 1656.9 L696.4 1654.7 L698.9 1652.3 L701.5 1649.7 L704.0 1647.0 L706.6 1644.1 L709.1 1641.0 L711.7 1637.9 L714.2 1634.8 L716.8 1631.6 L719.4 1628.5 L721.9 1625.6 L724.5 1622.8 L727.0 1620.2 L729.6 1618.0 L732.1 1616.1 L734.7 1614.6 L737.2 1613.5 L739.8 1612.9 L742.3 1612.7 L744.9 1613.1 L747.4 1613.8 L750.0 1615.1 L752.5 1616.7 L755.1 1618.7 L757.6 1621.1 L760.2 1623.7 L762.7 1626.6 L765.3 1629.6 L767.8 1632.7 L770.4 1635.9 L773.0 1639.0 L775.5 1642.1 L778.1 1645.1 L780.6 1648.0 L783.2 1650.7 L785.7 1653.2 L788.3 1655.5 L790.8 1657.6 L793.4 1659.5 L795.9 1661.2 L798.5 1662.6 L801.0 1663.9 L803.6 1665.0 L806.1 1666.0 L808.7 1666.8 L811.2 1667.5 L813.8 1668.0 L816.3 1668.5 L816.3 1670.2 L663.2 1670.2 z" fill="#e6c6cf" stroke="#c8a0b0" stroke-width="0.8"/>
<path d="M663.2 1667.3 L665.8 1666.6 L668.3 1665.7 L670.9 1664.7 L673.4 1663.6 L676.0 1662.2 L678.5 1660.7 L681.1 1658.9 L683.6 1657.0 L686.2 1654.8 L688.7 1652.4 L691.3 1649.8 L693.8 1647.1 L696.4 1644.1 L698.9 1641.1 L701.5 1637.9 L704.0 1634.7 L706.6 1631.5 L709.1 1628.3 L711.7 1625.3 L714.2 1622.5 L716.8 1619.8 L719.4 1617.5 L721.9 1615.5 L724.5 1613.9 L727.0 1612.8 L729.6 1612.1 L732.1 1611.9 L734.7 1612.1 L737.2 1612.8 L739.8 1614.0 L742.3 1615.6 L744.9 1617.6 L747.4 1620.0 L750.0 1622.6 L752.5 1625.5 L755.1 1628.5 L757.6 1631.7 L760.2 1634.9 L762.7 1638.1 L765.3 1641.2 L767.8 1644.3 L770.4 1647.2 L773.0 1650.0 L775.5 1652.6 L778.1 1654.9 L780.6 1657.1 L783.2 1659.0 L785.7 1660.8 L788.3 1662.3 L790.8 1663.7 L793.4 1664.8 L795.9 1665.8 L798.5 1666.6 L801.0 1667.3 L803.6 1667.9 L806.1 1668.4 L808.7 1668.8 L811.2 1669.1 L813.8 1669.4 L816.3 1669.6 L816.3 1670.2 L663.2 1670.2 z" fill="#7d5a80" fill-opacity="0.85" stroke="#6a4a70" stroke-width="0.6"/>
<path d="M663.2 1669.0 L665.8 1668.7 L668.3 1668.3 L670.9 1667.8 L673.4 1667.2 L676.0 1666.5 L678.5 1665.6 L681.1 1664.6 L683.6 1663.4 L686.2 1662.0 L688.7 1660.5 L691.3 1658.7 L693.8 1656.7 L696.4 1654.5 L698.9 1652.1 L701.5 1649.4 L704.0 1646.6 L706.6 1643.7 L709.1 1640.6 L711.7 1637.4 L714.2 1634.2 L716.8 1631.0 L719.4 1627.9 L721.9 1624.9 L724.5 1622.1 L727.0 1619.5 L729.6 1617.2 L732.1 1615.3 L734.7 1613.7 L737.2 1612.7 L739.8 1612.0 L742.3 1611.9 L744.9 1612.2 L747.4 1613.0 L750.0 1614.2 L752.5 1615.9 L755.1 1618.0 L757.6 1620.3 L760.2 1623.0 L762.7 1625.9 L765.3 1629.0 L767.8 1632.1 L770.4 1635.3 L773.0 1638.5 L775.5 1641.7 L778.1 1644.7 L780.6 1647.6 L783.2 1650.4 L785.7 1652.9 L788.3 1655.3 L790.8 1657.4 L793.4 1659.3 L795.9 1661.0 L798.5 1662.5 L801.0 1663.8 L803.6 1665.0 L806.1 1665.9 L808.7 1666.7 L811.2 1667.4 L813.8 1668.0 L816.3 1668.5" fill="none" stroke="#000" stroke-width="2" stroke-linejoin="round" stroke-linecap="round" stroke-dasharray="5,3.5"/>
<line x1="741.9" y1="1613" x2="741.9" y2="1670" stroke="#111" stroke-width="1.8" stroke-dasharray="1.6,2.6"/>
<circle cx="678.3" cy="1670.2" r="5.3" fill="#d9a3ab" stroke="#3a2a30" stroke-width="0.8"/>
<circle cx="687" cy="1670.2" r="5.3" fill="#d9a3ab" stroke="#3a2a30" stroke-width="0.8"/>
<circle cx="696.6" cy="1670.2" r="5.3" fill="#d9a3ab" stroke="#3a2a30" stroke-width="0.8"/>
<circle cx="707.2" cy="1670.2" r="5.3" fill="#d9a3ab" stroke="#3a2a30" stroke-width="0.8"/>
<circle cx="714" cy="1670.2" r="5.3" fill="#d9a3ab" stroke="#3a2a30" stroke-width="0.8"/>
<circle cx="724" cy="1670.2" r="5.3" fill="#d9a3ab" stroke="#3a2a30" stroke-width="0.8"/>
<circle cx="730" cy="1670.2" r="5.3" fill="#d9a3ab" stroke="#3a2a30" stroke-width="0.8"/>
<circle cx="739.2" cy="1670.2" r="5.3" fill="#d9a3ab" stroke="#3a2a30" stroke-width="0.8"/>
<circle cx="746.8" cy="1670.2" r="5.3" fill="#d9a3ab" stroke="#3a2a30" stroke-width="0.8"/>
<circle cx="756.7" cy="1670.2" r="5.3" fill="#d9a3ab" stroke="#3a2a30" stroke-width="0.8"/>
<circle cx="762" cy="1670.2" r="5.3" fill="#d9a3ab" stroke="#3a2a30" stroke-width="0.8"/>
<circle cx="780.2" cy="1670.2" r="5.3" fill="#d9a3ab" stroke="#3a2a30" stroke-width="0.8"/>
<circle cx="785.2" cy="1670.2" r="5.3" fill="#d9a3ab" stroke="#3a2a30" stroke-width="0.8"/>
<circle cx="793.5" cy="1670.2" r="5.3" fill="#d9a3ab" stroke="#3a2a30" stroke-width="0.8"/>
<circle cx="810.6" cy="1670.2" r="5.3" fill="#d9a3ab" stroke="#3a2a30" stroke-width="0.8"/>
<circle cx="813" cy="1670.2" r="5.3" fill="#d9a3ab" stroke="#3a2a30" stroke-width="0.8"/>
<text x="643.3" y="1613.9" class="s" font-size="10.5" fill="#3a3a3a" text-anchor="end">0.4</text>
<text x="643.3" y="1642.8" class="s" font-size="10.5" fill="#3a3a3a" text-anchor="end">0.2</text>
<text x="643.3" y="1672.4" class="s" font-size="10.5" fill="#3a3a3a" text-anchor="end">0.0</text>
<text x="661.1999999999999" y="1696.8" class="s" font-size="10.5" fill="#3a3a3a" text-anchor="middle">−2</text>
<text x="689.3" y="1696.8" class="s" font-size="10.5" fill="#3a3a3a" text-anchor="middle">−1</text>
<text x="719.4" y="1696.8" class="s" font-size="10.5" fill="#3a3a3a" text-anchor="middle">0</text>
<text x="747.5" y="1696.8" class="s" font-size="10.5" fill="#3a3a3a" text-anchor="middle">1</text>
<text x="775.6" y="1696.8" class="s" font-size="10.5" fill="#3a3a3a" text-anchor="middle">2</text>
<text x="803.7" y="1696.8" class="s" font-size="10.5" fill="#3a3a3a" text-anchor="middle">3</text>
<text x="741" y="1712" class="m" font-size="11" fill="#3a3a3a" text-anchor="middle">x</text>
<text x="623" y="1641" class="s" font-size="16" fill="#3a3a3a" text-anchor="middle" transform="rotate(-90 623 1641)"><tspan class="m">p</tspan>(<tspan class="m">x</tspan>)</text>
<rect x="632.2" y="1498.4" width="192.6" height="96.6" rx="2" fill="#fff" fill-opacity="0.9" stroke="#ddd" stroke-width="0.8"/>
<line x1="638" y1="1509.5" x2="667" y2="1509.5" stroke="#000" stroke-width="2" stroke-dasharray="6,3.5"/>
<rect x="638" y="1527.3" width="29" height="11.4" fill="#e6c6cf" stroke="#d0a4b4" stroke-width="0.8"/>
<rect x="638" y="1553" width="29" height="11.5" fill="#8a7090" stroke="#6a5070" stroke-width="0.8"/>
<line x1="638" y1="1582" x2="667" y2="1582" stroke="#000" stroke-width="2" stroke-dasharray="1.8,3"/>
<text x="678.3" y="1514.3" class="m" font-size="16">M</text><text x="694" y="1517" class="i" font-size="9.5">MML</text>
<text x="716" y="1514.3" class="s" font-size="12.5" fill="#333" textLength="83" lengthAdjust="spacingAndGlyphs">: LML=−60.8</text>
<text x="678.3" y="1537.1" class="m" font-size="16">M</text><text x="693" y="1540" class="r" font-size="10">1</text>
<text x="702" y="1530.5" class="r" font-size="7.5" fill="#444">σ²=10⁶</text><text x="702" y="1541" class="r" font-size="7.5" fill="#444">μ=1</text>
<text x="727" y="1537.1" class="s" font-size="12.5" fill="#333" textLength="88" lengthAdjust="spacingAndGlyphs">, LML=−66.9</text>
<text x="678.3" y="1563" class="m" font-size="16">M</text><text x="693" y="1566" class="r" font-size="10">2</text>
<text x="702" y="1556.5" class="r" font-size="7.5" fill="#444">σ²=0.07</text><text x="702" y="1567" class="r" font-size="7.5" fill="#444">μ=−0.4</text>
<text x="731" y="1563" class="s" font-size="12.5" fill="#333" textLength="88" lengthAdjust="spacingAndGlyphs">, LML=−66.3</text>
<text x="678.3" y="1586.6" class="s" font-size="12.5" fill="#333" textLength="84.4" lengthAdjust="spacingAndGlyphs">Empirical mean</text>
<path d="M1114.2 359.8 C1116.2 361.3 1122.9 365.2 1126.1 368.7 C1129.3 372.2 1130.5 377.1 1133.5 380.6 C1136.5 384.1 1141.3 386.0 1144.0 389.5 C1146.7 393.0 1148.2 396.4 1149.9 401.4 C1151.6 406.4 1153.9 413.8 1154.4 419.3 C1154.9 424.8 1153.9 427.8 1152.9 434.2 C1151.9 440.6 1150.4 453.0 1148.4 458.0 C1146.4 463.0 1145.5 461.5 1141.0 464.0 C1136.5 466.5 1128.5 470.4 1121.6 472.9 C1114.6 475.4 1106.0 477.3 1099.3 478.8 C1092.6 480.3 1085.4 480.6 1081.4 481.8 C1077.4 483.1 1077.5 486.6 1075.5 486.3 C1073.5 486.1 1073.7 481.6 1069.5 480.3 C1065.3 479.1 1054.7 481.0 1050.2 478.8 C1045.7 476.6 1044.7 471.4 1042.7 466.9 C1040.7 462.4 1040.8 456.5 1038.3 452.0 C1035.8 447.5 1030.1 444.6 1027.9 440.1 C1025.7 435.7 1024.7 431.8 1024.9 425.3 C1025.1 418.9 1028.1 407.8 1029.3 401.4 C1030.5 394.9 1031.0 390.6 1032.3 386.6 C1033.5 382.6 1034.1 379.8 1036.8 377.6 C1039.5 375.4 1044.5 375.2 1048.7 373.2 C1052.9 371.2 1057.4 367.2 1062.1 365.7 C1066.8 364.2 1071.5 364.9 1077.0 364.2 C1082.5 363.5 1088.6 362.0 1094.8 361.3 C1101.0 360.6 1111.0 360.1 1114.2 359.8 z" fill="#efe0df" stroke="#111" stroke-width="1.6"/>
<path d="M1106.7 374.6 C1108.2 375.6 1114.0 378.1 1115.7 380.6 C1117.5 383.1 1114.0 386.3 1117.2 389.5 C1120.4 392.7 1132.3 397.3 1135.0 400.0 C1137.7 402.7 1133.0 403.7 1133.5 405.9 C1134.0 408.1 1136.8 409.8 1138.0 413.3 C1139.2 416.8 1142.5 422.7 1141.0 426.7 C1139.5 430.7 1133.6 434.5 1129.1 437.2 C1124.6 439.9 1119.2 441.4 1114.2 443.1 C1109.2 444.8 1103.8 447.4 1099.3 447.6 C1094.8 447.9 1091.9 445.6 1087.4 444.6 C1082.9 443.6 1076.5 442.4 1072.5 441.6 C1068.5 440.9 1066.6 441.3 1063.6 440.1 C1060.6 438.9 1058.6 437.2 1054.6 434.2 C1050.6 431.2 1042.5 425.8 1039.8 422.3 C1037.1 418.8 1037.6 416.8 1038.3 413.3 C1039.0 409.8 1042.5 404.1 1044.2 401.4 C1045.9 398.7 1046.2 399.5 1048.7 397.0 C1051.2 394.5 1055.4 389.8 1059.1 386.6 C1062.8 383.4 1066.3 379.6 1071.0 377.6 C1075.7 375.6 1081.5 375.1 1087.4 374.6 C1093.4 374.1 1103.5 374.6 1106.7 374.6 z" fill="#dcaeae" stroke="#7a3a6a" stroke-width="0.9"/>
<path d="M1082.9 388.8 C1085.6 390.2 1094.3 394.4 1099.3 397.0 C1104.3 399.6 1109.2 401.2 1112.7 404.4 C1116.2 407.6 1119.3 412.6 1120.1 416.3 C1120.8 420.0 1119.7 423.7 1117.2 426.7 C1114.7 429.7 1109.3 432.7 1105.3 434.2 C1101.3 435.7 1097.5 436.2 1093.3 435.7 C1089.1 435.2 1084.5 433.2 1080.0 431.2 C1075.5 429.2 1069.3 426.8 1066.6 423.8 C1063.9 420.8 1063.6 416.8 1063.6 413.3 C1063.6 409.8 1064.9 405.9 1066.6 402.9 C1068.3 399.9 1071.3 397.9 1074.0 395.5 C1076.7 393.1 1081.4 389.9 1082.9 388.8 z" fill="#c98a8a" stroke="#b07080" stroke-width="0.5"/>
<line x1="1111.2" y1="362.0" x2="1108.5" y2="369.2" stroke="#111" stroke-width="1.3"/>
<path d="M1106.7 373.9 L1106.2 368.4 L1108.1 370.3 L1110.7 370.1 z" fill="#111"/>
<line x1="1048.7" y1="376.1" x2="1053.2" y2="382.5" stroke="#111" stroke-width="1.3"/>
<path d="M1056.1 386.6 L1051.3 383.9 L1053.9 383.5 L1055.2 381.1 z" fill="#111"/>
<line x1="1030.8" y1="404.4" x2="1035.2" y2="406.2" stroke="#111" stroke-width="1.3"/>
<path d="M1039.8 408.1 L1034.2 408.4 L1036.3 406.7 L1036.1 404.0 z" fill="#111"/>
<line x1="1145.4" y1="402.9" x2="1139.9" y2="404.1" stroke="#111" stroke-width="1.3"/>
<path d="M1135.0 405.2 L1139.4 401.8 L1138.7 404.4 L1140.4 406.5 z" fill="#111"/>
<line x1="1038.3" y1="446.8" x2="1048.3" y2="440.0" stroke="#111" stroke-width="1.3"/>
<path d="M1052.4 437.2 L1049.6 442.0 L1049.3 439.3 L1046.9 438.0 z" fill="#111"/>
<line x1="1145.4" y1="453.5" x2="1135.7" y2="444.3" stroke="#111" stroke-width="1.3"/>
<path d="M1132.0 440.9 L1137.3 442.6 L1134.8 443.5 L1134.0 446.1 z" fill="#111"/>
<path d="M1270.5 354.6 C1274.2 355.2 1285.4 356.5 1292.8 358.3 C1300.2 360.1 1308.9 363.0 1315.1 365.7 C1321.3 368.4 1326.8 370.7 1330.0 374.7 C1333.2 378.7 1333.3 384.1 1334.5 389.5 C1335.7 394.9 1334.9 400.4 1337.4 407.4 C1339.9 414.3 1347.1 424.8 1349.3 431.2 C1351.5 437.6 1351.3 440.6 1350.8 446.1 C1350.3 451.6 1348.6 458.6 1346.4 464.0 C1344.2 469.4 1339.4 473.9 1337.4 478.8 C1335.4 483.8 1335.5 488.7 1334.5 493.7 C1333.5 498.7 1334.7 504.9 1331.5 508.6 C1328.3 512.3 1322.8 513.0 1315.1 516.0 C1307.4 519.0 1295.2 525.2 1285.3 526.5 C1275.4 527.8 1265.5 524.0 1255.6 523.5 C1245.7 523.0 1233.8 525.5 1225.8 523.5 C1217.8 521.5 1211.6 516.6 1207.9 511.6 C1204.2 506.6 1206.7 499.2 1203.5 493.7 C1200.3 488.2 1192.6 485.0 1188.6 478.8 C1184.6 472.6 1181.2 465.2 1179.7 456.5 C1178.2 447.8 1178.5 436.6 1179.7 426.7 C1180.9 416.8 1184.4 405.2 1187.1 397.0 C1189.8 388.8 1192.0 383.3 1196.0 377.6 C1200.0 371.9 1204.2 364.7 1210.9 362.7 C1217.6 360.7 1228.8 366.7 1236.2 365.7 C1243.7 364.7 1249.9 358.6 1255.6 356.8 C1261.3 355.0 1268.0 355.0 1270.5 354.6 z" fill="#f1ebf1" stroke="#111" stroke-width="1.9"/>
<path d="M1254.1 428.2 C1255.6 428.7 1260.3 429.2 1263.0 431.2 C1265.7 433.2 1270.5 436.7 1270.5 440.1 C1270.5 443.6 1266.5 448.1 1263.0 452.0 C1259.5 456.0 1253.6 463.0 1249.6 463.9 C1245.7 464.9 1241.2 461.0 1239.2 458.0 C1237.2 455.0 1236.7 450.1 1237.7 446.1 C1238.7 442.1 1242.4 437.2 1245.2 434.2 C1247.9 431.2 1252.6 429.2 1254.1 428.2 z" fill="#a07aa6" stroke="#222" stroke-width="1.1"/>
<path d="M1252.6 435.7 C1253.8 435.9 1258.8 435.4 1260.0 437.2 C1261.3 438.9 1260.8 443.4 1260.0 446.1 C1259.3 448.8 1257.6 451.8 1255.6 453.5 C1253.6 455.3 1250.1 457.3 1248.1 456.5 C1246.1 455.8 1243.9 451.8 1243.7 449.1 C1243.4 446.3 1245.2 442.4 1246.6 440.1 C1248.1 437.9 1251.6 436.4 1252.6 435.7 z" fill="#6a4a7a" stroke="#3a2a4a" stroke-width="0.6"/>
<line x1="1213.9" y1="365.0" x2="1232.9" y2="420.1" stroke="#111" stroke-width="1.1"/>
<path d="M1234.7 425.3 L1230.8 420.8 L1233.3 421.2 L1235.1 419.3 z" fill="#111"/>
<line x1="1271.2" y1="359.8" x2="1258.3" y2="413.9" stroke="#111" stroke-width="1.1"/>
<path d="M1257.1 419.3 L1256.1 413.4 L1258.1 415.1 L1260.6 414.5 z" fill="#111"/>
<line x1="1324.0" y1="383.6" x2="1280.3" y2="427.3" stroke="#111" stroke-width="1.1"/>
<path d="M1276.4 431.2 L1278.7 425.7 L1279.4 428.2 L1281.9 428.9 z" fill="#111"/>
<line x1="1181.9" y1="432.7" x2="1219.0" y2="443.1" stroke="#111" stroke-width="1.1"/>
<path d="M1224.3 444.6 L1218.4 445.3 L1220.2 443.4 L1219.6 440.9 z" fill="#111"/>
<line x1="1350.8" y1="442.4" x2="1289.3" y2="443.1" stroke="#111" stroke-width="1.1"/>
<path d="M1283.9 443.1 L1289.3 440.8 L1288.2 443.1 L1289.4 445.4 z" fill="#111"/>
<line x1="1203.5" y1="491.5" x2="1225.4" y2="463.8" stroke="#111" stroke-width="1.1"/>
<path d="M1228.8 459.5 L1227.2 465.2 L1226.1 462.9 L1223.6 462.4 z" fill="#111"/>
<line x1="1324.0" y1="507.1" x2="1284.6" y2="465.0" stroke="#111" stroke-width="1.1"/>
<path d="M1280.9 461.0 L1286.3 463.4 L1283.8 464.1 L1283.0 466.6 z" fill="#111"/>
<text x="1021.5" y="357.5" class="r" font-size="17.5" fill="#222" textLength="56" lengthAdjust="spacingAndGlyphs">Prior <tspan class="m">A</tspan></text>
<text x="1048" y="464" class="r" font-size="17.5" fill="#222" textLength="86" lengthAdjust="spacingAndGlyphs">Posterior <tspan class="m">B</tspan></text>
<text x="1195" y="357.5" class="r" font-size="17.5" fill="#222" textLength="57" lengthAdjust="spacingAndGlyphs">Prior <tspan class="m">C</tspan></text>
<text x="1215" y="498.9" class="r" font-size="17.5" fill="#222" textLength="86" lengthAdjust="spacingAndGlyphs">Posterior <tspan class="m">D</tspan></text>
<rect x="1472.6" y="679.5" width="164.9000000000001" height="161.10000000000002" fill="#fff" stroke="#e3e3e3" stroke-width="1.1"/><line x1="1476.4" y1="679.5" x2="1476.4" y2="840.6" stroke="#e3e3e3" stroke-width="1.1"/><line x1="1557.6" y1="679.5" x2="1557.6" y2="840.6" stroke="#e3e3e3" stroke-width="1.1"/><line x1="1472.6" y1="733.3" x2="1637.5" y2="733.3" stroke="#e3e3e3" stroke-width="1.1"/><line x1="1472.6" y1="787.2" x2="1637.5" y2="787.2" stroke="#e3e3e3" stroke-width="1.1"/>
<text x="1457" y="686.3" class="s" font-size="13" fill="#333" text-anchor="end">−1</text>
<text x="1457" y="740" class="s" font-size="13" fill="#333" text-anchor="end">−2</text>
<text x="1457" y="793.9" class="s" font-size="13" fill="#333" text-anchor="end">−3</text>
<text x="1457" y="846.8" class="s" font-size="13" fill="#333" text-anchor="end">−4</text>
<text x="1476.4" y="865.3" class="s" font-size="13" fill="#333" text-anchor="middle">0</text>
<text x="1557.6" y="865.3" class="s" font-size="13" fill="#333" text-anchor="middle">20</text>
<text x="1637.5" y="865.3" class="s" font-size="13" fill="#333" text-anchor="middle">40</text>
<text x="1555.5" y="883.5" class="s" font-size="15.5" fill="#333" text-anchor="middle">Number of datapoints, <tspan class="i">n</tspan></text>
<text x="1432" y="761" class="r" font-size="17" fill="#333" text-anchor="middle" transform="rotate(-90 1432 761)"><tspan class="m">p</tspan>(<tspan class="m">D</tspan><tspan font-size="11" dy="3" class="m">n</tspan><tspan dy="-3">|</tspan><tspan class="m">D</tspan><tspan font-size="11" dy="3">&lt;<tspan class="m">n</tspan></tspan><tspan dy="-3">)</tspan></text>
<path d="M1476.4 749.0 C1477.7 747.8 1479.4 745.2 1484.0 742.0 C1488.6 738.8 1496.3 733.6 1504.0 729.9 C1511.7 726.2 1521.3 722.6 1530.0 720.0 C1538.7 717.4 1546.0 715.8 1556.0 714.2 C1566.0 712.6 1576.9 711.5 1590.0 710.5 C1603.1 709.5 1627.0 708.6 1634.4 708.2" fill="none" stroke="#855a88" stroke-width="3.4" stroke-linejoin="round" stroke-linecap="round" />
<path d="M1479.9 840.6 C1480.0 827.2 1480.3 779.9 1480.5 760.0 C1480.7 740.1 1480.2 729.2 1480.9 721.2 C1481.7 713.2 1482.3 714.6 1485.0 712.0 C1487.7 709.4 1491.2 706.8 1497.0 705.3 C1502.8 703.8 1510.2 703.5 1520.0 703.0 C1529.8 702.5 1536.9 702.5 1556.0 702.3 C1575.1 702.1 1621.3 702.0 1634.4 702.0" fill="none" stroke="#b07f9f" stroke-width="3.2" stroke-linejoin="round" stroke-linecap="round" />
<path d="M1476.4 708.2 C1477.3 708.6 1479.7 710.8 1481.6 710.8 C1483.5 710.8 1485.4 708.9 1488.0 708.0 C1490.6 707.1 1491.9 706.4 1497.2 705.6 C1502.5 704.9 1510.2 704.0 1520.0 703.5 C1529.8 703.0 1536.9 703.0 1556.0 702.8 C1575.1 702.5 1621.3 702.1 1634.4 702.0" fill="none" stroke="#000" stroke-width="3.4" stroke-linejoin="round" stroke-linecap="round" stroke-dasharray="10,6" stroke-linecap="butt"/>
<rect x="1514.6" y="749" width="114.2" height="83" rx="2" fill="#fff" fill-opacity="0.8" stroke="#ddd" stroke-width="0.8"/>
<line x1="1521.5" y1="762.8" x2="1557.1" y2="762.8" stroke="#000" stroke-width="3.4" stroke-dasharray="10,6"/>
<line x1="1521.5" y1="788.9" x2="1557.1" y2="788.9" stroke="#b07f9f" stroke-width="3.2"/>
<line x1="1521.5" y1="814.9" x2="1557.1" y2="814.9" stroke="#855a88" stroke-width="3.4"/>
<text x="1571" y="769.8" class="m" font-size="21" fill="#333">M<tspan font-size="13" dy="3">MML</tspan></text>
<text x="1571" y="795.8" class="m" font-size="21" fill="#333">M<tspan font-size="13" dy="3" class="r">1</tspan></text>
<text x="1571" y="821.9" class="m" font-size="21" fill="#333">M<tspan font-size="13" dy="3" class="r">2</tspan></text>
<ellipse cx="1479.9" cy="775" rx="41.7" ry="77" fill="none" stroke="#e03a30" stroke-width="1"/>
<line x1="1658.7" y1="686.5" x2="1528.0" y2="739.4" stroke="#111" stroke-width="1.0"/>
<path d="M1521.5 742.0 L1527.0 737.0 L1526.9 739.8 L1529.0 741.8 z" fill="#111"/>
<line x1="1664.8" y1="761.1" x2="1603.2" y2="728.0" stroke="#111" stroke-width="1.0"/>
<path d="M1597.0 724.7 L1604.4 725.7 L1602.1 727.4 L1601.9 730.3 z" fill="#111"/>
<text x="1667.4" y="671.7" class="s" font-size="14.5" fill="#222"><tspan class="m" font-size="19">M</tspan><tspan font-size="11" dy="3" font-weight="bold">1</tspan><tspan dy="-3"> is penalized</tspan></text>
<text x="1667.4" y="690.8" class="s" font-size="14.5" fill="#222">by the early terms</text>
<text x="1657.8" y="777.6" class="s" font-size="17" fill="#111">The LML is the area</text>
<text x="1657.8" y="797.6" class="s" font-size="17" fill="#111">under the curve</text>
<path d="M1088.6 1292.4 C1090 1284 1091 1280.5 1094 1280.5 L1238.6 1280.5 C1241 1281 1242 1286 1242.7 1292.4 z" fill="#f0e3e2" stroke="#333" stroke-width="0.8"/>
<path d="M1133.8 1292.4 C1142 1291 1146 1284 1150 1270 C1154 1255 1158 1245.4 1164 1245.4 L1171 1245.4 C1178 1245.4 1183 1256 1186 1268 C1189 1282 1192 1291 1198 1292.4 z" fill="#b98aa2" fill-opacity="0.95" stroke="#333" stroke-width="0.8"/>
<path d="M1186.2 1292.4 L1188.9 1157.9 L1191.5 1292.4 z" fill="#7a4a8c" stroke="#3a2050" stroke-width="0.8" stroke-dasharray="1,0.6"/>
<line x1="1085" y1="1292.4" x2="1247" y2="1292.4" stroke="#111" stroke-width="1.1"/>
<path d="M1252 1292.4 l-6 -2.2 v4.4 z" fill="#111"/>
<line x1="1166.8" y1="1292.4" x2="1166.8" y2="1161" stroke="#111" stroke-width="1.1"/>
<path d="M1166.8 1155.5 l-2.2 6 h4.4 z" fill="#111"/>
<circle cx="1189.2" cy="1291.8" r="2" fill="#111"/>
<text x="1114.8" y="1172.7" class="m" font-size="13" fill="#222" textLength="40" lengthAdjust="spacingAndGlyphs">p<tspan class="r">(</tspan>D<tspan class="r">|</tspan>M<tspan class="r">)</tspan></text>
<text x="1196.3" y="1197.7" class="r" font-size="12.5" fill="#6a3a88" textLength="34" lengthAdjust="spacingAndGlyphs">Overfit</text>
<text x="1196.3" y="1209.6" class="r" font-size="10.5" fill="#6a3a88" textLength="26" lengthAdjust="spacingAndGlyphs">Model</text>
<text x="1102.9" y="1234" class="r" font-size="12.5" fill="#6a3a88" textLength="60" lengthAdjust="spacingAndGlyphs">Appropriate</text>
<text x="1102.9" y="1245.4" class="r" font-size="10.5" fill="#6a3a88" textLength="26" lengthAdjust="spacingAndGlyphs">Model</text>
<text x="1071.9" y="1263.2" class="r" font-size="12.5" fill="#6a3a88" textLength="43.5" lengthAdjust="spacingAndGlyphs">Complex</text>
<text x="1071.9" y="1275.1" class="r" font-size="10.5" fill="#6a3a88" textLength="26" lengthAdjust="spacingAndGlyphs">Model</text>
<text x="1147.5" y="1306.7" class="r" font-size="12" fill="#222" textLength="88" lengthAdjust="spacingAndGlyphs">Target Dataset <tspan class="m">D̂</tspan></text>
<text x="1256.4" y="1306.7" class="m" font-size="11.5" fill="#222">D</text>
<rect x="1359.7" y="1190.9" width="198.20000000000005" height="105.59999999999991" fill="#eaeaf2"/><line x1="1368.5" y1="1190.9" x2="1368.5" y2="1296.5" stroke="#fff" stroke-width="1.2"/><line x1="1404.6" y1="1190.9" x2="1404.6" y2="1296.5" stroke="#fff" stroke-width="1.2"/><line x1="1440.7" y1="1190.9" x2="1440.7" y2="1296.5" stroke="#fff" stroke-width="1.2"/><line x1="1476.9" y1="1190.9" x2="1476.9" y2="1296.5" stroke="#fff" stroke-width="1.2"/><line x1="1513" y1="1190.9" x2="1513" y2="1296.5" stroke="#fff" stroke-width="1.2"/><line x1="1549" y1="1190.9" x2="1549" y2="1296.5" stroke="#fff" stroke-width="1.2"/><line x1="1359.7" y1="1211.3" x2="1557.9" y2="1211.3" stroke="#fff" stroke-width="1.2"/><line x1="1359.7" y1="1233" x2="1557.9" y2="1233" stroke="#fff" stroke-width="1.2"/><line x1="1359.7" y1="1254.4" x2="1557.9" y2="1254.4" stroke="#fff" stroke-width="1.2"/><line x1="1359.7" y1="1276.1" x2="1557.9" y2="1276.1" stroke="#fff" stroke-width="1.2"/>
<path d="M1368.1 1240.5 C1370.1 1240.4 1376.6 1243.0 1380.6 1240.0 C1384.5 1237.0 1388.1 1228.9 1391.7 1222.4 C1395.2 1215.9 1398.8 1203.0 1401.9 1201.1 C1404.9 1199.3 1407.3 1207.4 1410.2 1211.3 C1413.0 1215.2 1415.9 1225.0 1419.0 1224.3 C1422.1 1223.5 1425.5 1211.6 1428.7 1206.7 C1431.9 1201.7 1434.9 1195.1 1438.0 1194.6 C1441.0 1194.2 1444.1 1201.7 1447.2 1203.9 C1450.3 1206.1 1453.5 1208.4 1456.5 1208.1 C1459.4 1207.7 1462.0 1203.8 1464.8 1202.0 C1467.6 1200.2 1469.9 1198.1 1473.1 1197.2 C1476.4 1196.3 1471.6 1196.6 1484.3 1196.5 C1496.9 1196.4 1538.3 1196.5 1549.1 1196.5 L1549.1 1266.9 C1538.3 1266.9 1496.9 1267.5 1484.3 1266.9 C1471.6 1266.2 1476.2 1265.3 1473.1 1263.1 C1470.1 1261.0 1468.5 1257.6 1465.7 1253.9 C1463.0 1250.2 1459.6 1244.9 1456.5 1240.9 C1453.4 1236.9 1450.3 1233.2 1447.2 1229.8 C1444.1 1226.4 1441.0 1219.6 1438.0 1220.6 C1434.9 1221.5 1431.9 1230.4 1428.7 1235.4 C1425.5 1240.4 1422.1 1250.0 1419.0 1250.6 C1415.9 1251.3 1413.0 1242.9 1410.2 1239.1 C1407.3 1235.3 1404.9 1225.6 1401.9 1228.0 C1398.8 1230.3 1395.2 1246.5 1391.7 1253.0 C1388.1 1259.4 1384.5 1264.2 1380.6 1266.9 C1376.6 1269.6 1370.1 1268.8 1368.1 1269.2 z" fill="#d9a1ac" stroke="#5a3a62" stroke-width="0.6"/>
<path d="M1368.1 1253.9 C1370.1 1253.7 1376.6 1257.0 1380.6 1253.0 C1384.5 1249.0 1388.4 1236.3 1391.7 1229.8 C1394.9 1223.3 1397.1 1214.8 1400.0 1214.1 C1402.9 1213.3 1406.1 1221.2 1409.3 1225.2 C1412.4 1229.2 1415.7 1238.6 1419.0 1238.1 C1422.2 1237.7 1425.5 1227.5 1428.7 1222.4 C1431.9 1217.3 1435.3 1209.4 1438.0 1207.6 C1440.6 1205.7 1442.1 1209.1 1444.4 1211.3 C1446.8 1213.5 1448.3 1218.1 1451.9 1220.6 C1455.4 1223.0 1461.1 1224.3 1465.7 1226.1 C1470.4 1227.9 1465.7 1230.4 1479.6 1231.2 C1493.5 1232.1 1537.5 1231.2 1549.1 1231.2" fill="none" stroke="#3a2048" stroke-width="1.1" stroke-linejoin="round" stroke-linecap="round" />
<rect x="1609.3" y="1190" width="200.0" height="106.5" fill="#eaeaf2"/><line x1="1617.6" y1="1190" x2="1617.6" y2="1296.5" stroke="#fff" stroke-width="1.2"/><line x1="1654.2" y1="1190" x2="1654.2" y2="1296.5" stroke="#fff" stroke-width="1.2"/><line x1="1690.7" y1="1190" x2="1690.7" y2="1296.5" stroke="#fff" stroke-width="1.2"/><line x1="1727.3" y1="1190" x2="1727.3" y2="1296.5" stroke="#fff" stroke-width="1.2"/><line x1="1763.9" y1="1190" x2="1763.9" y2="1296.5" stroke="#fff" stroke-width="1.2"/><line x1="1800.5" y1="1190" x2="1800.5" y2="1296.5" stroke="#fff" stroke-width="1.2"/><line x1="1609.3" y1="1208.5" x2="1809.3" y2="1208.5" stroke="#fff" stroke-width="1.2"/><line x1="1609.3" y1="1226.1" x2="1809.3" y2="1226.1" stroke="#fff" stroke-width="1.2"/><line x1="1609.3" y1="1244.2" x2="1809.3" y2="1244.2" stroke="#fff" stroke-width="1.2"/><line x1="1609.3" y1="1261.8" x2="1809.3" y2="1261.8" stroke="#fff" stroke-width="1.2"/><line x1="1609.3" y1="1279.8" x2="1809.3" y2="1279.8" stroke="#fff" stroke-width="1.2"/>
<path d="M1616.7 1240.5 L1619.9 1234.0 L1623.1 1238.6 L1626.4 1233.1 L1630.6 1243.2 L1638.9 1230.3 L1647.2 1201.6 L1650.5 1208.1 L1654.6 1202.5 L1669.4 1226.6 L1687.0 1195.1 L1711.1 1214.2 L1738.9 1233.1 L1766.7 1250.1 L1800.5 1269.6 L1800.5 1291.9 L1766.7 1268.8 L1738.9 1248.8 L1711.1 1226.9 L1687.0 1205.3 L1669.4 1236.8 L1654.6 1212.7 L1650.5 1218.2 L1647.2 1211.8 L1638.9 1240.5 L1630.6 1253.4 L1626.4 1243.2 L1623.1 1248.8 L1619.9 1244.2 L1616.7 1250.6 z" fill="#d9a1ac" stroke="#5a3a62" stroke-width="0.6" stroke-linejoin="round"/>
<path d="M1616.7 1245.6 L1619.9 1239.1 L1623.1 1243.7 L1626.4 1238.1 L1630.6 1248.3 L1638.9 1235.4 L1647.2 1206.7 L1650.5 1213.1 L1654.6 1207.6 L1669.4 1231.7 L1687.0 1200.2 L1711.1 1220.6 L1738.9 1240.9 L1766.7 1259.4 L1800.5 1280.7" fill="none" stroke="#3a2048" stroke-width="1.1" stroke-linejoin="round" stroke-linecap="round" />
<circle cx="1367.6" cy="1255.3" r="2.7" fill="#fbe3d6" stroke="#222" stroke-width="0.7"/><circle cx="1369.9" cy="1259.0" r="2.7" fill="#fbe3d6" stroke="#222" stroke-width="0.7"/><circle cx="1371.8" cy="1261.3" r="2.7" fill="#fbe3d6" stroke="#222" stroke-width="0.7"/><circle cx="1373.6" cy="1244.6" r="2.7" fill="#fbe3d6" stroke="#222" stroke-width="0.7"/><circle cx="1376.9" cy="1247.4" r="2.7" fill="#fbe3d6" stroke="#222" stroke-width="0.7"/><circle cx="1378.7" cy="1246.0" r="2.7" fill="#fbe3d6" stroke="#222" stroke-width="0.7"/><circle cx="1375.0" cy="1256.7" r="2.7" fill="#fbe3d6" stroke="#222" stroke-width="0.7"/><circle cx="1381.0" cy="1260.8" r="2.7" fill="#fbe3d6" stroke="#222" stroke-width="0.7"/><circle cx="1382.4" cy="1256.2" r="2.7" fill="#fbe3d6" stroke="#222" stroke-width="0.7"/><circle cx="1386.1" cy="1251.6" r="2.7" fill="#fbe3d6" stroke="#222" stroke-width="0.7"/><circle cx="1388.9" cy="1247.4" r="2.7" fill="#fbe3d6" stroke="#222" stroke-width="0.7"/><circle cx="1389.8" cy="1233.5" r="2.7" fill="#fbe3d6" stroke="#222" stroke-width="0.7"/><circle cx="1392.1" cy="1240.0" r="2.7" fill="#fbe3d6" stroke="#222" stroke-width="0.7"/><circle cx="1393.1" cy="1221.5" r="2.7" fill="#fbe3d6" stroke="#222" stroke-width="0.7"/><circle cx="1395.4" cy="1218.7" r="2.7" fill="#fbe3d6" stroke="#222" stroke-width="0.7"/><circle cx="1397.2" cy="1210.4" r="2.7" fill="#fbe3d6" stroke="#222" stroke-width="0.7"/><circle cx="1399.1" cy="1221.5" r="2.7" fill="#fbe3d6" stroke="#222" stroke-width="0.7"/><circle cx="1402.3" cy="1216.9" r="2.7" fill="#fbe3d6" stroke="#222" stroke-width="0.7"/><circle cx="1404.6" cy="1209.4" r="2.7" fill="#fbe3d6" stroke="#222" stroke-width="0.7"/><circle cx="1408.3" cy="1221.5" r="2.7" fill="#fbe3d6" stroke="#222" stroke-width="0.7"/><circle cx="1409.7" cy="1225.2" r="2.7" fill="#fbe3d6" stroke="#222" stroke-width="0.7"/><circle cx="1412.0" cy="1225.6" r="2.7" fill="#fbe3d6" stroke="#222" stroke-width="0.7"/><circle cx="1413.4" cy="1237.2" r="2.7" fill="#fbe3d6" stroke="#222" stroke-width="0.7"/><circle cx="1416.2" cy="1231.7" r="2.7" fill="#fbe3d6" stroke="#222" stroke-width="0.7"/><circle cx="1419.0" cy="1239.1" r="2.7" fill="#fbe3d6" stroke="#222" stroke-width="0.7"/><circle cx="1423.1" cy="1237.2" r="2.7" fill="#fbe3d6" stroke="#222" stroke-width="0.7"/><circle cx="1425.0" cy="1230.3" r="2.7" fill="#fbe3d6" stroke="#222" stroke-width="0.7"/><circle cx="1426.4" cy="1221.5" r="2.7" fill="#fbe3d6" stroke="#222" stroke-width="0.7"/><circle cx="1430.6" cy="1222.4" r="2.7" fill="#fbe3d6" stroke="#222" stroke-width="0.7"/><circle cx="1431.5" cy="1210.8" r="2.7" fill="#fbe3d6" stroke="#222" stroke-width="0.7"/><circle cx="1435.2" cy="1212.2" r="2.7" fill="#fbe3d6" stroke="#222" stroke-width="0.7"/><circle cx="1435.6" cy="1200.2" r="2.7" fill="#fbe3d6" stroke="#222" stroke-width="0.7"/><circle cx="1437.5" cy="1202.5" r="2.7" fill="#fbe3d6" stroke="#222" stroke-width="0.7"/><circle cx="1439.8" cy="1211.3" r="2.7" fill="#fbe3d6" stroke="#222" stroke-width="0.7"/><circle cx="1441.7" cy="1211.8" r="2.7" fill="#fbe3d6" stroke="#222" stroke-width="0.7"/><circle cx="1444.9" cy="1207.1" r="2.7" fill="#fbe3d6" stroke="#222" stroke-width="0.7"/><circle cx="1446.8" cy="1210.4" r="2.7" fill="#fbe3d6" stroke="#222" stroke-width="0.7"/><circle cx="1450.0" cy="1222.9" r="2.7" fill="#fbe3d6" stroke="#222" stroke-width="0.7"/><circle cx="1448.6" cy="1233.5" r="2.7" fill="#fbe3d6" stroke="#222" stroke-width="0.7"/><circle cx="1452.3" cy="1209.9" r="2.7" fill="#fbe3d6" stroke="#222" stroke-width="0.7"/><circle cx="1456.0" cy="1219.6" r="2.7" fill="#fbe3d6" stroke="#222" stroke-width="0.7"/><circle cx="1457.9" cy="1225.2" r="2.7" fill="#fbe3d6" stroke="#222" stroke-width="0.7"/>
<path d="M1456.6 1230.8l5.4 5.4M1456.6 1236.2l5.4 -5.4M1460.3 1238.2l5.4 5.4M1460.3 1243.6l5.4 -5.4M1463.0 1229.0l5.4 5.4M1463.0 1234.4l5.4 -5.4M1464.9 1233.6l5.4 5.4M1464.9 1239.0l5.4 -5.4M1466.7 1232.7l5.4 5.4M1466.7 1238.1l5.4 -5.4M1468.6 1235.4l5.4 5.4M1468.6 1240.8l5.4 -5.4M1470.4 1230.8l5.4 5.4M1470.4 1236.2l5.4 -5.4M1472.3 1237.3l5.4 5.4M1472.3 1242.7l5.4 -5.4M1475.1 1235.4l5.4 5.4M1475.1 1240.8l5.4 -5.4M1476.9 1233.6l5.4 5.4M1476.9 1239.0l5.4 -5.4M1478.8 1241.0l5.4 5.4M1478.8 1246.4l5.4 -5.4M1480.6 1239.2l5.4 5.4M1480.6 1244.6l5.4 -5.4M1482.5 1230.8l5.4 5.4M1482.5 1236.2l5.4 -5.4M1484.3 1225.3l5.4 5.4M1484.3 1230.7l5.4 -5.4M1486.2 1240.5l5.4 5.4M1486.2 1245.9l5.4 -5.4M1488.0 1241.0l5.4 5.4M1488.0 1246.4l5.4 -5.4M1489.9 1226.2l5.4 5.4M1489.9 1231.6l5.4 -5.4M1491.3 1231.3l5.4 5.4M1491.3 1236.7l5.4 -5.4M1493.6 1216.9l5.4 5.4M1493.6 1222.3l5.4 -5.4M1496.4 1217.9l5.4 5.4M1496.4 1223.3l5.4 -5.4M1499.2 1206.7l5.4 5.4M1499.2 1212.1l5.4 -5.4M1501.0 1208.6l5.4 5.4M1501.0 1214.0l5.4 -5.4M1502.9 1203.0l5.4 5.4M1502.9 1208.4l5.4 -5.4M1504.7 1208.6l5.4 5.4M1504.7 1214.0l5.4 -5.4M1506.6 1206.7l5.4 5.4M1506.6 1212.1l5.4 -5.4M1508.4 1191.9l5.4 5.4M1508.4 1197.3l5.4 -5.4M1510.3 1193.8l5.4 5.4M1510.3 1199.2l5.4 -5.4M1512.1 1199.3l5.4 5.4M1512.1 1204.7l5.4 -5.4M1514.0 1196.6l5.4 5.4M1514.0 1202.0l5.4 -5.4M1517.7 1191.9l5.4 5.4M1517.7 1197.3l5.4 -5.4M1520.4 1201.2l5.4 5.4M1520.4 1206.6l5.4 -5.4M1521.4 1204.9l5.4 5.4M1521.4 1210.3l5.4 -5.4M1523.2 1206.7l5.4 5.4M1523.2 1212.1l5.4 -5.4M1525.1 1195.6l5.4 5.4M1525.1 1201.0l5.4 -5.4M1527.9 1210.4l5.4 5.4M1527.9 1215.8l5.4 -5.4M1528.8 1220.6l5.4 5.4M1528.8 1226.0l5.4 -5.4M1532.5 1207.7l5.4 5.4M1532.5 1213.1l5.4 -5.4M1534.3 1199.3l5.4 5.4M1534.3 1204.7l5.4 -5.4M1536.2 1210.4l5.4 5.4M1536.2 1215.8l5.4 -5.4M1538.0 1201.2l5.4 5.4M1538.0 1206.6l5.4 -5.4M1539.9 1205.8l5.4 5.4M1539.9 1211.2l5.4 -5.4M1540.8 1204.9l5.4 5.4M1540.8 1210.3l5.4 -5.4M1542.7 1192.9l5.4 5.4M1542.7 1198.3l5.4 -5.4" stroke="#111" stroke-width="1.0" fill="none"/>
<circle cx="1617.6" cy="1245.6" r="2.7" fill="#fbe3d6" stroke="#222" stroke-width="0.7"/><circle cx="1619.9" cy="1248.6" r="2.7" fill="#fbe3d6" stroke="#222" stroke-width="0.7"/><circle cx="1621.8" cy="1250.6" r="2.7" fill="#fbe3d6" stroke="#222" stroke-width="0.7"/><circle cx="1623.6" cy="1236.8" r="2.7" fill="#fbe3d6" stroke="#222" stroke-width="0.7"/><circle cx="1626.9" cy="1239.1" r="2.7" fill="#fbe3d6" stroke="#222" stroke-width="0.7"/><circle cx="1628.7" cy="1238.0" r="2.7" fill="#fbe3d6" stroke="#222" stroke-width="0.7"/><circle cx="1625.0" cy="1246.7" r="2.7" fill="#fbe3d6" stroke="#222" stroke-width="0.7"/><circle cx="1631.0" cy="1250.2" r="2.7" fill="#fbe3d6" stroke="#222" stroke-width="0.7"/><circle cx="1632.4" cy="1246.4" r="2.7" fill="#fbe3d6" stroke="#222" stroke-width="0.7"/><circle cx="1636.1" cy="1242.5" r="2.7" fill="#fbe3d6" stroke="#222" stroke-width="0.7"/><circle cx="1638.9" cy="1239.1" r="2.7" fill="#fbe3d6" stroke="#222" stroke-width="0.7"/><circle cx="1639.8" cy="1227.7" r="2.7" fill="#fbe3d6" stroke="#222" stroke-width="0.7"/><circle cx="1642.1" cy="1233.0" r="2.7" fill="#fbe3d6" stroke="#222" stroke-width="0.7"/><circle cx="1643.1" cy="1217.7" r="2.7" fill="#fbe3d6" stroke="#222" stroke-width="0.7"/><circle cx="1645.4" cy="1215.5" r="2.7" fill="#fbe3d6" stroke="#222" stroke-width="0.7"/><circle cx="1647.2" cy="1208.6" r="2.7" fill="#fbe3d6" stroke="#222" stroke-width="0.7"/><circle cx="1649.1" cy="1217.7" r="2.7" fill="#fbe3d6" stroke="#222" stroke-width="0.7"/><circle cx="1652.3" cy="1213.9" r="2.7" fill="#fbe3d6" stroke="#222" stroke-width="0.7"/><circle cx="1654.6" cy="1207.8" r="2.7" fill="#fbe3d6" stroke="#222" stroke-width="0.7"/><circle cx="1658.3" cy="1217.7" r="2.7" fill="#fbe3d6" stroke="#222" stroke-width="0.7"/><circle cx="1659.7" cy="1220.8" r="2.7" fill="#fbe3d6" stroke="#222" stroke-width="0.7"/><circle cx="1662.0" cy="1221.2" r="2.7" fill="#fbe3d6" stroke="#222" stroke-width="0.7"/><circle cx="1663.4" cy="1230.7" r="2.7" fill="#fbe3d6" stroke="#222" stroke-width="0.7"/><circle cx="1666.2" cy="1226.1" r="2.7" fill="#fbe3d6" stroke="#222" stroke-width="0.7"/><circle cx="1669.0" cy="1232.2" r="2.7" fill="#fbe3d6" stroke="#222" stroke-width="0.7"/><circle cx="1673.1" cy="1230.7" r="2.7" fill="#fbe3d6" stroke="#222" stroke-width="0.7"/><circle cx="1675.0" cy="1225.0" r="2.7" fill="#fbe3d6" stroke="#222" stroke-width="0.7"/><circle cx="1676.4" cy="1217.7" r="2.7" fill="#fbe3d6" stroke="#222" stroke-width="0.7"/><circle cx="1680.6" cy="1218.5" r="2.7" fill="#fbe3d6" stroke="#222" stroke-width="0.7"/><circle cx="1681.5" cy="1209.0" r="2.7" fill="#fbe3d6" stroke="#222" stroke-width="0.7"/><circle cx="1685.2" cy="1210.1" r="2.7" fill="#fbe3d6" stroke="#222" stroke-width="0.7"/><circle cx="1685.6" cy="1200.2" r="2.7" fill="#fbe3d6" stroke="#222" stroke-width="0.7"/><circle cx="1687.5" cy="1202.1" r="2.7" fill="#fbe3d6" stroke="#222" stroke-width="0.7"/><circle cx="1689.8" cy="1209.4" r="2.7" fill="#fbe3d6" stroke="#222" stroke-width="0.7"/><circle cx="1691.7" cy="1209.7" r="2.7" fill="#fbe3d6" stroke="#222" stroke-width="0.7"/><circle cx="1694.9" cy="1205.9" r="2.7" fill="#fbe3d6" stroke="#222" stroke-width="0.7"/><circle cx="1696.8" cy="1208.6" r="2.7" fill="#fbe3d6" stroke="#222" stroke-width="0.7"/><circle cx="1700.0" cy="1218.9" r="2.7" fill="#fbe3d6" stroke="#222" stroke-width="0.7"/><circle cx="1698.6" cy="1227.7" r="2.7" fill="#fbe3d6" stroke="#222" stroke-width="0.7"/><circle cx="1702.3" cy="1208.2" r="2.7" fill="#fbe3d6" stroke="#222" stroke-width="0.7"/><circle cx="1706.0" cy="1216.2" r="2.7" fill="#fbe3d6" stroke="#222" stroke-width="0.7"/><circle cx="1707.9" cy="1220.8" r="2.7" fill="#fbe3d6" stroke="#222" stroke-width="0.7"/>
<path d="M1706.6 1225.0l5.4 5.4M1706.6 1230.4l5.4 -5.4M1710.3 1231.1l5.4 5.4M1710.3 1236.5l5.4 -5.4M1713.0 1223.4l5.4 5.4M1713.0 1228.8l5.4 -5.4M1714.9 1227.3l5.4 5.4M1714.9 1232.7l5.4 -5.4M1716.7 1226.5l5.4 5.4M1716.7 1231.9l5.4 -5.4M1718.6 1228.8l5.4 5.4M1718.6 1234.2l5.4 -5.4M1720.4 1225.0l5.4 5.4M1720.4 1230.4l5.4 -5.4M1722.3 1230.3l5.4 5.4M1722.3 1235.7l5.4 -5.4M1725.1 1228.8l5.4 5.4M1725.1 1234.2l5.4 -5.4M1726.9 1227.3l5.4 5.4M1726.9 1232.7l5.4 -5.4M1728.8 1233.4l5.4 5.4M1728.8 1238.8l5.4 -5.4M1730.6 1231.8l5.4 5.4M1730.6 1237.2l5.4 -5.4M1732.5 1225.0l5.4 5.4M1732.5 1230.4l5.4 -5.4M1734.3 1220.4l5.4 5.4M1734.3 1225.8l5.4 -5.4M1736.2 1233.0l5.4 5.4M1736.2 1238.4l5.4 -5.4M1738.0 1233.4l5.4 5.4M1738.0 1238.8l5.4 -5.4M1739.9 1221.1l5.4 5.4M1739.9 1226.5l5.4 -5.4M1741.3 1225.3l5.4 5.4M1741.3 1230.7l5.4 -5.4M1743.6 1213.5l5.4 5.4M1743.6 1218.9l5.4 -5.4M1746.4 1214.3l5.4 5.4M1746.4 1219.7l5.4 -5.4M1749.2 1205.1l5.4 5.4M1749.2 1210.5l5.4 -5.4M1751.0 1206.7l5.4 5.4M1751.0 1212.1l5.4 -5.4M1752.9 1202.1l5.4 5.4M1752.9 1207.5l5.4 -5.4M1754.7 1206.7l5.4 5.4M1754.7 1212.1l5.4 -5.4M1756.6 1205.1l5.4 5.4M1756.6 1210.5l5.4 -5.4M1758.4 1192.9l5.4 5.4M1758.4 1198.3l5.4 -5.4M1760.3 1194.4l5.4 5.4M1760.3 1199.8l5.4 -5.4M1762.1 1199.0l5.4 5.4M1762.1 1204.4l5.4 -5.4M1764.0 1196.7l5.4 5.4M1764.0 1202.1l5.4 -5.4M1767.7 1192.9l5.4 5.4M1767.7 1198.3l5.4 -5.4M1770.4 1200.5l5.4 5.4M1770.4 1205.9l5.4 -5.4M1771.4 1203.6l5.4 5.4M1771.4 1209.0l5.4 -5.4M1773.2 1205.1l5.4 5.4M1773.2 1210.5l5.4 -5.4M1775.1 1196.0l5.4 5.4M1775.1 1201.4l5.4 -5.4M1777.9 1208.2l5.4 5.4M1777.9 1213.6l5.4 -5.4M1778.8 1216.6l5.4 5.4M1778.8 1222.0l5.4 -5.4M1782.5 1205.9l5.4 5.4M1782.5 1211.3l5.4 -5.4M1784.3 1199.0l5.4 5.4M1784.3 1204.4l5.4 -5.4M1786.2 1208.2l5.4 5.4M1786.2 1213.6l5.4 -5.4M1788.0 1200.5l5.4 5.4M1788.0 1205.9l5.4 -5.4M1789.9 1204.4l5.4 5.4M1789.9 1209.8l5.4 -5.4M1790.8 1203.6l5.4 5.4M1790.8 1209.0l5.4 -5.4M1792.7 1193.7l5.4 5.4M1792.7 1199.1l5.4 -5.4" stroke="#111" stroke-width="1.0" fill="none"/>
<text x="1423.6" y="1184.4" class="r" font-size="15" fill="#222" textLength="55" lengthAdjust="spacingAndGlyphs"><tspan class="m">m</tspan>(<tspan class="m">X</tspan>) = <tspan class="m">μ</tspan></text>
<text x="1671" y="1184.4" class="r" font-size="15" fill="#222" textLength="75" lengthAdjust="spacingAndGlyphs"><tspan class="m">m</tspan>(<tspan class="m">X</tspan>) = <tspan class="m">MLP</tspan></text>
<rect x="1019.5" y="1556.9" width="333.1" height="128.4" fill="#fff" stroke="#33187a" stroke-width="3"/>
<defs><clipPath id="cpL"><rect x="1025.6" y="1563.5" width="121.9" height="117.5"/></clipPath><clipPath id="cpR"><rect x="1227" y="1563.5" width="122.3" height="117.5"/></clipPath></defs>
<rect x="1025.6" y="1563.5" width="121.9" height="117.5" fill="#e4e4e4"/>
<g clip-path="url(#cpL)"><circle cx="1051.2" cy="1659.3" r="86.1" fill="#c9a5ad" stroke="#111" stroke-width="0.9"/><circle cx="1051.2" cy="1659.3" r="59.3" fill="#b2b2b2" stroke="#111" stroke-width="0.9"/><circle cx="1051.2" cy="1659.3" r="37.6" fill="#ead7d2" stroke="#111" stroke-width="0.9"/></g>
<rect x="1025.6" y="1563.5" width="121.9" height="117.5" fill="none" stroke="#111" stroke-width="1"/>
<line x1="1051.2" y1="1659.3" x2="1051.2" y2="1579.2" stroke="#111" stroke-width="1.1"/>
<path d="M1051.2 1573.2 L1053.6 1579.2 L1051.2 1578.0 L1048.8 1579.2 z" fill="#111"/>
<line x1="1051.2" y1="1659.3" x2="1129.9" y2="1659.3" stroke="#111" stroke-width="1.1"/>
<path d="M1135.9 1659.3 L1129.9 1661.7 L1131.1 1659.3 L1129.9 1656.9 z" fill="#111"/>
<circle cx="1060" cy="1642.7" r="1.6" fill="#111"/>
<circle cx="1038.2" cy="1657.1" r="1.6" fill="#111"/>
<circle cx="1064.7" cy="1672.6" r="1.6" fill="#111"/>
<circle cx="1108.4" cy="1640.5" r="1.6" fill="#111"/>
<circle cx="1051.2" cy="1659.3" r="1.6" fill="#111"/>
<text x="1059" y="1635" class="m" font-size="12.5" fill="#333">w<tspan font-size="7.5" dy="2.5" class="r">1</tspan></text>
<text x="1035" y="1650" class="m" font-size="12.5" fill="#333">w<tspan font-size="7.5" dy="2.5" class="r">2</tspan></text>
<text x="1062" y="1668" class="m" font-size="12.5" fill="#333">w<tspan font-size="7.5" dy="2.5" class="r">3</tspan></text>
<text x="1111" y="1639" class="m" font-size="11" fill="#333">w<tspan font-size="7" dy="-4">*</tspan></text>
<text x="1130" y="1576" class="m" font-size="11" fill="#333">w</text>
<text x="1098" y="1582" class="r" font-size="12" fill="#333" transform="rotate(38 1098 1582)"><tspan class="m">r</tspan> = <tspan class="m">a</tspan></text>
<text x="1067" y="1617" class="r" font-size="12" fill="#333" transform="rotate(38 1067 1617)"><tspan class="m">r</tspan> = <tspan class="m">b</tspan></text>
<line x1="1153.2" y1="1628.2" x2="1213.5" y2="1628.2" stroke="#111" stroke-width="1.2"/>
<path d="M1220.5 1628.2 L1213.5 1631.0 L1214.7 1628.2 L1213.5 1625.4 z" fill="#111"/>
<text x="1159.8" y="1643.4" class="r" font-size="11.5" fill="#222">Observe <tspan class="m">D</tspan></text>
<rect x="1227" y="1563.5" width="122.3" height="117.5" fill="#e4e4e4"/>
<g clip-path="url(#cpR)"><circle cx="1253.1" cy="1659.3" r="86.1" fill="none" stroke="#111" stroke-width="1" stroke-dasharray="2.2,1.6"/><circle cx="1253.1" cy="1659.3" r="59.3" fill="none" stroke="#111" stroke-width="1" stroke-dasharray="2.2,1.6"/><circle cx="1253.1" cy="1659.3" r="38.3" fill="none" stroke="#111" stroke-width="1" stroke-dasharray="2.2,1.6"/><circle cx="1256.7" cy="1657.1" r="21.7" fill="#ead7d2" stroke="#111" stroke-width="0.9"/><circle cx="1309.5" cy="1640.5" r="8" fill="#c9a5ad" stroke="#111" stroke-width="0.9"/></g>
<rect x="1227" y="1563.5" width="122.3" height="117.5" fill="none" stroke="#111" stroke-width="1"/>
<line x1="1253.1" y1="1659.3" x2="1253.1" y2="1579.2" stroke="#111" stroke-width="1.1"/>
<path d="M1253.1 1573.2 L1255.5 1579.2 L1253.1 1578.0 L1250.7 1579.2 z" fill="#111"/>
<line x1="1253.1" y1="1659.3" x2="1331.0" y2="1659.3" stroke="#111" stroke-width="1.1"/>
<path d="M1337.0 1659.3 L1331.0 1661.7 L1332.2 1659.3 L1331.0 1656.9 z" fill="#111"/>
<circle cx="1261" cy="1642.7" r="1.6" fill="#111"/>
<circle cx="1240.2" cy="1657.1" r="1.6" fill="#111"/>
<circle cx="1266.7" cy="1672.6" r="1.6" fill="#111"/>
<circle cx="1309.5" cy="1640.5" r="1.6" fill="#111"/>
<circle cx="1253.1" cy="1659.3" r="1.6" fill="#111"/>
<text x="1260" y="1652" class="m" font-size="12.5" fill="#333">w<tspan font-size="7.5" dy="2.5" class="r">1</tspan></text>
<text x="1238" y="1650" class="m" font-size="12.5" fill="#333">w<tspan font-size="7.5" dy="2.5" class="r">2</tspan></text>
<text x="1262" y="1668" class="m" font-size="12.5" fill="#333">w<tspan font-size="7.5" dy="2.5" class="r">3</tspan></text>
<text x="1318" y="1635" class="m" font-size="11" fill="#333">w<tspan font-size="7" dy="-4">*</tspan></text>
<text x="1331" y="1576" class="m" font-size="11" fill="#333">w</text>
<text x="1298" y="1582" class="r" font-size="12" fill="#333" transform="rotate(38 1298 1582)"><tspan class="m">r</tspan> = <tspan class="m">a</tspan></text>
<text x="1267" y="1617" class="r" font-size="12" fill="#333" transform="rotate(38 1267 1617)"><tspan class="m">r</tspan> = <tspan class="m">b</tspan></text>
<rect x="1522.5" y="1550" width="140.9000000000001" height="114.40000000000009" fill="#fff" stroke="#e3e3e3" stroke-width="1.1"/><line x1="1528.6" y1="1550" x2="1528.6" y2="1664.4" stroke="#e3e3e3" stroke-width="1.1"/><line x1="1571.4" y1="1550" x2="1571.4" y2="1664.4" stroke="#e3e3e3" stroke-width="1.1"/><line x1="1613.9" y1="1550" x2="1613.9" y2="1664.4" stroke="#e3e3e3" stroke-width="1.1"/><line x1="1656.7" y1="1550" x2="1656.7" y2="1664.4" stroke="#e3e3e3" stroke-width="1.1"/><line x1="1522.5" y1="1583" x2="1663.4" y2="1583" stroke="#e3e3e3" stroke-width="1.1"/><line x1="1522.5" y1="1620.4" x2="1663.4" y2="1620.4" stroke="#e3e3e3" stroke-width="1.1"/><line x1="1522.5" y1="1656.7" x2="1663.4" y2="1656.7" stroke="#e3e3e3" stroke-width="1.1"/>
<text x="1509" y="1587.5" class="r" font-size="12.5" fill="#333" text-anchor="end">1.8</text>
<text x="1509" y="1624.9" class="r" font-size="12.5" fill="#333" text-anchor="end">1.6</text>
<text x="1509" y="1661.2" class="r" font-size="12.5" fill="#333" text-anchor="end">1.4</text>
<text x="1528.6" y="1685.4" class="s" font-size="11.5" fill="#333" text-anchor="middle">0</text>
<text x="1571.4" y="1685.4" class="s" font-size="11.5" fill="#333" text-anchor="middle">50</text>
<text x="1613.9" y="1685.4" class="s" font-size="11.5" fill="#333" text-anchor="middle">100</text>
<text x="1656.7" y="1685.4" class="s" font-size="11.5" fill="#333" text-anchor="middle">150</text>
<text x="1593" y="1702.2" class="s" font-size="15" fill="#333" text-anchor="middle">Data size, <tspan class="i">n</tspan></text>
<text x="1487" y="1608" class="r" font-size="15" fill="#333" text-anchor="middle" transform="rotate(-90 1487 1608)">log 𝔼(<tspan class="m">ℓ</tspan>)</text>
<line x1="1528.6" y1="1659.4" x2="1656.7" y2="1659.4" stroke="#000" stroke-width="3.2" stroke-dasharray="8,5"/>
<path d="M1530.6 1555.2 L1532.9 1575.5 L1535.2 1595.2 L1537.5 1610.2 L1539.8 1616.0 L1541.0 1622.9 L1543.3 1636.2 L1545.6 1639.2 L1547.4 1640.6 L1549.1 1642.9 L1550.8 1643.5 L1552.6 1642.8 L1554.0 1642.9 L1555.5 1645.1 L1556.9 1644.1 L1558.4 1644.3 L1559.8 1646.4 L1561.2 1645.4 L1562.7 1646.6 L1564.1 1646.0 L1565.6 1646.1 L1567.0 1644.7 L1568.5 1645.5 L1569.9 1645.8 L1571.4 1645.8 L1572.8 1647.2 L1574.3 1647.9 L1575.7 1647.4 L1577.2 1649.6 L1578.6 1649.8 L1580.1 1649.7 L1581.5 1649.6 L1582.9 1652.1 L1584.4 1651.8 L1585.8 1653.0 L1587.3 1653.9 L1588.7 1653.7 L1590.2 1654.4 L1591.6 1653.4 L1593.1 1654.6 L1594.5 1654.0 L1596.0 1655.3 L1597.4 1655.4 L1598.9 1653.8 L1600.3 1654.0 L1601.7 1654.3 L1603.2 1656.1 L1604.6 1654.9 L1606.1 1655.4 L1607.5 1654.7 L1609.0 1655.3 L1610.4 1655.1 L1611.9 1655.0 L1613.3 1655.5 L1614.8 1655.5 L1616.2 1656.3 L1617.7 1655.8 L1619.1 1656.3 L1620.6 1656.2 L1622.0 1656.5 L1623.4 1655.7 L1624.9 1654.6 L1626.3 1656.2 L1627.8 1656.4 L1629.2 1656.4 L1630.7 1655.7 L1632.1 1656.1 L1633.6 1655.1 L1635.0 1656.6 L1636.5 1656.1 L1637.9 1655.5 L1639.4 1655.1 L1640.8 1657.0 L1642.2 1657.4 L1643.7 1655.5 L1645.1 1657.2 L1646.6 1656.4 L1648.0 1656.0 L1649.5 1656.5 L1650.9 1657.7 L1652.4 1658.1 L1653.8 1656.3 L1655.3 1657.8 L1656.7 1657.7" fill="none" stroke="#d4a5b2" stroke-width="2.6" stroke-linejoin="round" stroke-linecap="round" />
<path d="M1528.3 1658.8 L1528.8 1604.4 L1529.4 1557.6 L1530.6 1581.3 L1531.7 1599.8 L1532.9 1597.5 L1534.1 1616.0 L1536.4 1625.3 L1538.1 1627.6 L1539.8 1629.9 L1542.2 1650.6 L1544.5 1642.1 L1546.2 1645.6 L1547.9 1651.8 L1550.3 1654.4 L1551.9 1652.1 L1553.5 1652.6 L1555.1 1649.7 L1556.7 1648.2 L1558.4 1648.7 L1559.8 1648.0 L1561.2 1649.3 L1562.7 1650.7 L1564.1 1652.2 L1565.6 1651.2 L1567.0 1651.2 L1568.5 1653.8 L1569.9 1652.5 L1571.4 1653.4 L1572.8 1652.4 L1574.3 1650.1 L1575.7 1649.4 L1577.2 1650.3 L1578.6 1651.4 L1580.1 1652.0 L1581.5 1652.6 L1582.9 1653.5 L1584.4 1655.1 L1585.8 1654.6 L1587.3 1655.2 L1588.7 1656.1 L1590.2 1654.9 L1591.6 1655.2 L1593.1 1657.2 L1594.5 1656.1 L1596.0 1656.3 L1597.4 1655.0 L1598.9 1656.3 L1600.3 1656.7 L1601.7 1655.2 L1603.2 1656.8 L1604.6 1656.9 L1606.1 1655.3 L1607.5 1656.9 L1609.0 1656.4 L1610.4 1657.0 L1611.9 1655.8 L1613.3 1656.5 L1614.8 1656.3 L1616.2 1654.0 L1617.7 1653.8 L1619.1 1655.3 L1620.6 1655.8 L1622.0 1653.5 L1623.4 1654.2 L1624.9 1654.6 L1626.3 1654.0 L1627.8 1654.2 L1629.2 1654.1 L1630.7 1654.4 L1632.1 1655.1 L1633.6 1654.4 L1635.0 1654.7 L1636.5 1655.9 L1637.9 1653.9 L1639.4 1655.5 L1640.8 1656.1 L1642.2 1655.1 L1643.7 1655.0 L1645.1 1656.8 L1646.6 1655.3 L1648.0 1655.3 L1649.5 1656.2 L1650.9 1657.0 L1652.4 1655.5 L1653.8 1656.3 L1655.3 1656.5 L1656.7 1657.1" fill="none" stroke="#5e3c6c" stroke-width="2.8" stroke-linejoin="round" stroke-linecap="round" />
<rect x="1574.6" y="1557.6" width="81" height="42.8" rx="2" fill="#fff" fill-opacity="0.85" stroke="#e0e0e0" stroke-width="0.8"/>
<line x1="1578.6" y1="1568" x2="1607" y2="1568" stroke="#d4a5b2" stroke-width="2.6"/>
<line x1="1578.6" y1="1587.6" x2="1607" y2="1587.6" stroke="#5e3c6c" stroke-width="2.8"/>
<text x="1617.4" y="1572.6" class="s" font-size="12.5" fill="#333">LML</text>
<text x="1617.4" y="1592.3" class="s" font-size="12.5" fill="#333">CLML</text>
<rect x="1951.3" y="725.6" width="204.20000000000005" height="61.299999999999955" fill="#eaeaf2"/><line x1="1993" y1="725.6" x2="1993" y2="786.9" stroke="#fff" stroke-width="1.1"/><line x1="2033.5" y1="725.6" x2="2033.5" y2="786.9" stroke="#fff" stroke-width="1.1"/><line x1="2073.3" y1="725.6" x2="2073.3" y2="786.9" stroke="#fff" stroke-width="1.1"/><line x1="2113.8" y1="725.6" x2="2113.8" y2="786.9" stroke="#fff" stroke-width="1.1"/><line x1="1951.3" y1="731.4" x2="2155.5" y2="731.4" stroke="#fff" stroke-width="1.1"/><line x1="1951.3" y1="745.8" x2="2155.5" y2="745.8" stroke="#fff" stroke-width="1.1"/><line x1="1951.3" y1="760.2" x2="2155.5" y2="760.2" stroke="#fff" stroke-width="1.1"/><line x1="1951.3" y1="774.0" x2="2155.5" y2="774.0" stroke="#fff" stroke-width="1.1"/>
<path d="M1953.1 771.4 C1954.9 771.2 1960.0 771.1 1963.8 770.2 C1967.6 769.3 1971.7 768.0 1975.7 766.0 C1979.7 764.0 1983.7 761.0 1987.6 758.3 C1991.6 755.6 1995.6 752.7 1999.5 749.9 C2003.5 747.2 2007.5 744.2 2011.4 741.6 C2015.4 739.0 2019.4 736.5 2023.3 734.5 C2027.3 732.4 2031.7 729.5 2035.2 729.1 C2038.8 728.7 2041.6 729.6 2044.8 732.1 C2047.9 734.6 2051.1 739.8 2054.3 744.0 C2057.5 748.2 2060.6 753.3 2063.8 757.1 C2067.0 760.9 2070.2 764.2 2073.3 766.6 C2076.5 769.0 2079.9 770.5 2082.9 771.4 C2085.8 772.3 2088.2 772.4 2091.2 772.0 C2094.2 771.6 2097.3 770.9 2100.7 769.0 C2104.1 767.1 2107.7 763.6 2111.4 760.7 C2115.2 757.7 2119.4 754.1 2123.3 751.1 C2127.3 748.2 2131.7 745.2 2135.2 742.8 C2138.8 740.4 2141.6 739.0 2144.8 736.8 C2147.9 734.7 2152.7 730.9 2154.3 729.7 L2154.3 744.1 C2152.7 745.3 2147.9 749.1 2144.8 751.2 C2141.6 753.4 2138.8 754.8 2135.2 757.2 C2131.7 759.6 2127.3 762.6 2123.3 765.5 C2119.4 768.5 2115.2 772.1 2111.4 775.1 C2107.7 778.0 2104.1 781.5 2100.7 783.4 C2097.3 785.3 2094.2 786.0 2091.2 786.4 C2088.2 786.8 2085.8 786.7 2082.9 785.8 C2079.9 784.9 2076.5 783.4 2073.3 781.0 C2070.2 778.6 2067.0 775.3 2063.8 771.5 C2060.6 767.7 2057.5 762.6 2054.3 758.4 C2051.1 754.2 2047.9 749.0 2044.8 746.5 C2041.6 744.0 2038.8 743.1 2035.2 743.5 C2031.7 743.9 2027.3 746.8 2023.3 748.9 C2019.4 751.0 2015.4 753.4 2011.4 756.0 C2007.5 758.6 2003.5 761.6 1999.5 764.3 C1995.6 767.1 1991.6 770.0 1987.6 772.7 C1983.7 775.4 1979.7 778.4 1975.7 780.4 C1971.7 782.4 1967.6 783.7 1963.8 784.6 C1960.0 785.5 1954.9 785.6 1953.1 785.8 z" fill="#d9a1ac" stroke="#6a4a6a" stroke-width="0.5"/>
<path d="M1953.1 778.6 C1954.9 778.4 1960.0 778.3 1963.8 777.4 C1967.6 776.5 1971.7 775.2 1975.7 773.2 C1979.7 771.2 1983.7 768.2 1987.6 765.5 C1991.6 762.8 1995.6 759.9 1999.5 757.1 C2003.5 754.4 2007.5 751.4 2011.4 748.8 C2015.4 746.2 2019.4 743.8 2023.3 741.7 C2027.3 739.6 2031.7 736.7 2035.2 736.3 C2038.8 735.9 2041.6 736.8 2044.8 739.3 C2047.9 741.8 2051.1 747.0 2054.3 751.2 C2057.5 755.4 2060.6 760.5 2063.8 764.3 C2067.0 768.1 2070.2 771.4 2073.3 773.8 C2076.5 776.2 2079.9 777.7 2082.9 778.6 C2085.8 779.5 2088.2 779.6 2091.2 779.2 C2094.2 778.8 2097.3 778.1 2100.7 776.2 C2104.1 774.3 2107.7 770.8 2111.4 767.9 C2115.2 764.9 2119.4 761.3 2123.3 758.3 C2127.3 755.4 2131.7 752.4 2135.2 750.0 C2138.8 747.6 2141.6 746.2 2144.8 744.0 C2147.9 741.9 2152.7 738.1 2154.3 736.9" fill="none" stroke="#2a1838" stroke-width="1.0" stroke-linejoin="round" stroke-linecap="round" />
<circle cx="2044.1" cy="732.3" r="1.5" fill="#b08a90" stroke="#222" stroke-width="0.6"/><circle cx="2046.8" cy="739.1" r="1.5" fill="#b08a90" stroke="#222" stroke-width="0.6"/><circle cx="2055.3" cy="750.8" r="1.5" fill="#b08a90" stroke="#222" stroke-width="0.6"/><circle cx="2056.1" cy="752.6" r="1.5" fill="#b08a90" stroke="#222" stroke-width="0.6"/><circle cx="2079.8" cy="777.4" r="1.5" fill="#b08a90" stroke="#222" stroke-width="0.6"/><circle cx="2014.1" cy="745.8" r="1.5" fill="#b08a90" stroke="#222" stroke-width="0.6"/><circle cx="1971.3" cy="776.5" r="1.5" fill="#b08a90" stroke="#222" stroke-width="0.6"/><circle cx="1961.5" cy="773.1" r="1.5" fill="#b08a90" stroke="#222" stroke-width="0.6"/><circle cx="2150.7" cy="744.1" r="1.5" fill="#b08a90" stroke="#222" stroke-width="0.6"/><circle cx="2076.9" cy="774.6" r="1.5" fill="#b08a90" stroke="#222" stroke-width="0.6"/><circle cx="1984.8" cy="771.2" r="1.5" fill="#b08a90" stroke="#222" stroke-width="0.6"/><circle cx="1965.1" cy="777.3" r="1.5" fill="#b08a90" stroke="#222" stroke-width="0.6"/><circle cx="1991.4" cy="762.9" r="1.5" fill="#b08a90" stroke="#222" stroke-width="0.6"/><circle cx="2046.4" cy="742.2" r="1.5" fill="#b08a90" stroke="#222" stroke-width="0.6"/><circle cx="2041.7" cy="740.5" r="1.5" fill="#b08a90" stroke="#222" stroke-width="0.6"/><circle cx="2081.9" cy="774.9" r="1.5" fill="#b08a90" stroke="#222" stroke-width="0.6"/><circle cx="2053.6" cy="748.5" r="1.5" fill="#b08a90" stroke="#222" stroke-width="0.6"/><circle cx="2009.1" cy="747.5" r="1.5" fill="#b08a90" stroke="#222" stroke-width="0.6"/><circle cx="2153.8" cy="743.4" r="1.5" fill="#b08a90" stroke="#222" stroke-width="0.6"/><circle cx="2095.5" cy="777.7" r="1.5" fill="#b08a90" stroke="#222" stroke-width="0.6"/><circle cx="2016.5" cy="746.1" r="1.5" fill="#b08a90" stroke="#222" stroke-width="0.6"/><circle cx="1967.2" cy="778.8" r="1.5" fill="#b08a90" stroke="#222" stroke-width="0.6"/><circle cx="2107.3" cy="766.1" r="1.5" fill="#b08a90" stroke="#222" stroke-width="0.6"/><circle cx="2030.9" cy="741.9" r="1.5" fill="#b08a90" stroke="#222" stroke-width="0.6"/><circle cx="2145.8" cy="743.3" r="1.5" fill="#b08a90" stroke="#222" stroke-width="0.6"/><circle cx="1995.3" cy="760.0" r="1.5" fill="#b08a90" stroke="#222" stroke-width="0.6"/><circle cx="2136.2" cy="740.6" r="1.5" fill="#b08a90" stroke="#222" stroke-width="0.6"/><circle cx="2033.1" cy="739.0" r="1.5" fill="#b08a90" stroke="#222" stroke-width="0.6"/><circle cx="1967.8" cy="772.2" r="1.5" fill="#b08a90" stroke="#222" stroke-width="0.6"/><circle cx="2007.4" cy="747.6" r="1.5" fill="#b08a90" stroke="#222" stroke-width="0.6"/><circle cx="1970.6" cy="770.9" r="1.5" fill="#b08a90" stroke="#222" stroke-width="0.6"/><circle cx="2105.6" cy="779.6" r="1.5" fill="#b08a90" stroke="#222" stroke-width="0.6"/><circle cx="1976.8" cy="772.5" r="1.5" fill="#b08a90" stroke="#222" stroke-width="0.6"/><circle cx="1965.1" cy="778.4" r="1.5" fill="#b08a90" stroke="#222" stroke-width="0.6"/><circle cx="2113.4" cy="768.0" r="1.5" fill="#b08a90" stroke="#222" stroke-width="0.6"/><circle cx="2043.1" cy="742.5" r="1.5" fill="#b08a90" stroke="#222" stroke-width="0.6"/><circle cx="1991.5" cy="762.6" r="1.5" fill="#b08a90" stroke="#222" stroke-width="0.6"/><circle cx="2082.6" cy="776.8" r="1.5" fill="#b08a90" stroke="#222" stroke-width="0.6"/><circle cx="1976.5" cy="770.7" r="1.5" fill="#b08a90" stroke="#222" stroke-width="0.6"/><circle cx="2007.4" cy="752.7" r="1.5" fill="#b08a90" stroke="#222" stroke-width="0.6"/><circle cx="2148.4" cy="742.2" r="1.5" fill="#b08a90" stroke="#222" stroke-width="0.6"/><circle cx="2131.1" cy="750.3" r="1.5" fill="#b08a90" stroke="#222" stroke-width="0.6"/><circle cx="1995.5" cy="755.0" r="1.5" fill="#b08a90" stroke="#222" stroke-width="0.6"/><circle cx="2082.2" cy="782.1" r="1.5" fill="#b08a90" stroke="#222" stroke-width="0.6"/><circle cx="1973.3" cy="776.3" r="1.5" fill="#b08a90" stroke="#222" stroke-width="0.6"/><circle cx="2005.1" cy="753.1" r="1.5" fill="#b08a90" stroke="#222" stroke-width="0.6"/><circle cx="2108.6" cy="768.8" r="1.5" fill="#b08a90" stroke="#222" stroke-width="0.6"/><circle cx="1967.9" cy="778.3" r="1.5" fill="#b08a90" stroke="#222" stroke-width="0.6"/><circle cx="1971.2" cy="772.7" r="1.5" fill="#b08a90" stroke="#222" stroke-width="0.6"/><circle cx="2074.1" cy="773.0" r="1.5" fill="#b08a90" stroke="#222" stroke-width="0.6"/><circle cx="2027.9" cy="731.9" r="1.5" fill="#b08a90" stroke="#222" stroke-width="0.6"/><circle cx="2050.4" cy="748.7" r="1.5" fill="#b08a90" stroke="#222" stroke-width="0.6"/><circle cx="2068.7" cy="770.5" r="1.5" fill="#b08a90" stroke="#222" stroke-width="0.6"/><circle cx="1984.1" cy="766.2" r="1.5" fill="#b08a90" stroke="#222" stroke-width="0.6"/><circle cx="2135.9" cy="750.6" r="1.5" fill="#b08a90" stroke="#222" stroke-width="0.6"/><circle cx="1991.3" cy="760.7" r="1.5" fill="#b08a90" stroke="#222" stroke-width="0.6"/><circle cx="2101.9" cy="777.3" r="1.5" fill="#b08a90" stroke="#222" stroke-width="0.6"/><circle cx="2144.3" cy="743.6" r="1.5" fill="#b08a90" stroke="#222" stroke-width="0.6"/><circle cx="2130.6" cy="750.6" r="1.5" fill="#b08a90" stroke="#222" stroke-width="0.6"/><circle cx="1974.0" cy="771.8" r="1.5" fill="#b08a90" stroke="#222" stroke-width="0.6"/><circle cx="1960.9" cy="780.0" r="1.5" fill="#b08a90" stroke="#222" stroke-width="0.6"/><circle cx="2094.8" cy="777.5" r="1.5" fill="#b08a90" stroke="#222" stroke-width="0.6"/><circle cx="2004.8" cy="755.4" r="1.5" fill="#b08a90" stroke="#222" stroke-width="0.6"/><circle cx="2012.1" cy="744.5" r="1.5" fill="#b08a90" stroke="#222" stroke-width="0.6"/><circle cx="1988.4" cy="764.7" r="1.5" fill="#b08a90" stroke="#222" stroke-width="0.6"/><circle cx="1999.0" cy="756.3" r="1.5" fill="#b08a90" stroke="#222" stroke-width="0.6"/><circle cx="2065.6" cy="768.8" r="1.5" fill="#b08a90" stroke="#222" stroke-width="0.6"/><circle cx="2009.5" cy="746.6" r="1.5" fill="#b08a90" stroke="#222" stroke-width="0.6"/><circle cx="2137.7" cy="748.7" r="1.5" fill="#b08a90" stroke="#222" stroke-width="0.6"/><circle cx="2007.3" cy="752.3" r="1.5" fill="#b08a90" stroke="#222" stroke-width="0.6"/>
<text x="2053.4" y="720.2" class="s" font-size="13.5" fill="#444" text-anchor="middle"><tspan class="m" font-size="15">M</tspan><tspan font-size="9" dy="3">3</tspan><tspan dy="-3"> LML: 53.8, CLML: 11.45</tspan></text>
<rect x="1951.3" y="814.3" width="204.20000000000005" height="61.90000000000009" fill="#eaeaf2"/><line x1="1993" y1="814.3" x2="1993" y2="876.2" stroke="#fff" stroke-width="1.1"/><line x1="2033.5" y1="814.3" x2="2033.5" y2="876.2" stroke="#fff" stroke-width="1.1"/><line x1="2073.3" y1="814.3" x2="2073.3" y2="876.2" stroke="#fff" stroke-width="1.1"/><line x1="2113.8" y1="814.3" x2="2113.8" y2="876.2" stroke="#fff" stroke-width="1.1"/><line x1="1951.3" y1="820.2" x2="2155.5" y2="820.2" stroke="#fff" stroke-width="1.1"/><line x1="1951.3" y1="834.7" x2="2155.5" y2="834.7" stroke="#fff" stroke-width="1.1"/><line x1="1951.3" y1="849.3" x2="2155.5" y2="849.3" stroke="#fff" stroke-width="1.1"/><line x1="1951.3" y1="863.2" x2="2155.5" y2="863.2" stroke="#fff" stroke-width="1.1"/>
<path d="M1953.1 853.0 C1954.1 854.2 1956.7 860.4 1959.0 860.2 C1961.4 860.0 1964.6 852.4 1967.4 851.8 C1970.2 851.2 1973.1 857.8 1975.7 856.6 C1978.3 855.4 1979.9 846.9 1982.9 844.7 C1985.8 842.5 1989.6 845.9 1993.6 843.5 C1997.5 841.1 2003.1 832.4 2006.7 830.4 C2010.2 828.4 2012.2 833.0 2015.0 831.6 C2017.8 830.2 2020.0 824.5 2023.3 822.1 C2026.7 819.7 2032.1 817.1 2035.2 817.3 C2038.4 817.5 2039.4 820.9 2042.4 823.3 C2045.4 825.6 2050.3 827.6 2053.1 831.6 C2055.9 835.6 2056.1 843.5 2059.0 847.1 C2062.0 850.6 2068.0 852.2 2071.0 853.0 C2073.9 853.8 2074.5 850.6 2076.9 851.8 C2079.3 853.0 2082.7 860.0 2085.2 860.2 C2087.8 860.4 2090.0 853.8 2092.4 853.0 C2094.8 852.2 2096.7 857.2 2099.5 855.4 C2102.3 853.6 2105.9 844.5 2109.0 842.3 C2112.2 840.1 2115.8 842.7 2118.6 842.3 C2121.3 841.9 2122.9 842.1 2125.7 839.9 C2128.5 837.7 2132.5 831.2 2135.2 829.2 C2138.0 827.2 2139.2 829.6 2142.4 828.0 C2145.6 826.4 2152.3 821.1 2154.3 819.7 L2154.3 832.7 C2152.3 834.1 2145.6 839.4 2142.4 841.0 C2139.2 842.6 2138.0 840.2 2135.2 842.2 C2132.5 844.2 2128.5 850.7 2125.7 852.9 C2122.9 855.1 2121.3 854.9 2118.6 855.3 C2115.8 855.7 2112.2 853.1 2109.0 855.3 C2105.9 857.5 2102.3 866.6 2099.5 868.4 C2096.7 870.2 2094.8 865.2 2092.4 866.0 C2090.0 866.8 2087.8 873.4 2085.2 873.2 C2082.7 873.0 2079.3 866.0 2076.9 864.8 C2074.5 863.6 2073.9 866.8 2071.0 866.0 C2068.0 865.2 2062.0 863.6 2059.0 860.1 C2056.1 856.5 2055.9 848.6 2053.1 844.6 C2050.3 840.6 2045.4 838.6 2042.4 836.3 C2039.4 833.9 2038.4 830.5 2035.2 830.3 C2032.1 830.1 2026.7 832.7 2023.3 835.1 C2020.0 837.5 2017.8 843.2 2015.0 844.6 C2012.2 846.0 2010.2 841.4 2006.7 843.4 C2003.1 845.4 1997.5 854.1 1993.6 856.5 C1989.6 858.9 1985.8 855.5 1982.9 857.7 C1979.9 859.9 1978.3 868.4 1975.7 869.6 C1973.1 870.8 1970.2 864.2 1967.4 864.8 C1964.6 865.4 1961.4 873.0 1959.0 873.2 C1956.7 873.4 1954.1 867.2 1953.1 866.0 z" fill="#d9a1ac" stroke="#6a4a6a" stroke-width="0.5"/>
<path d="M1953.1 859.5 C1954.1 860.7 1956.7 866.9 1959.0 866.7 C1961.4 866.5 1964.6 858.9 1967.4 858.3 C1970.2 857.7 1973.1 864.3 1975.7 863.1 C1978.3 861.9 1979.9 853.4 1982.9 851.2 C1985.8 849.0 1989.6 852.4 1993.6 850.0 C1997.5 847.6 2003.1 838.9 2006.7 836.9 C2010.2 834.9 2012.2 839.5 2015.0 838.1 C2017.8 836.7 2020.0 831.0 2023.3 828.6 C2026.7 826.2 2032.1 823.6 2035.2 823.8 C2038.4 824.0 2039.4 827.4 2042.4 829.8 C2045.4 832.1 2050.3 834.1 2053.1 838.1 C2055.9 842.1 2056.1 850.0 2059.0 853.6 C2062.0 857.1 2068.0 858.7 2071.0 859.5 C2073.9 860.3 2074.5 857.1 2076.9 858.3 C2079.3 859.5 2082.7 866.5 2085.2 866.7 C2087.8 866.9 2090.0 860.3 2092.4 859.5 C2094.8 858.7 2096.7 863.7 2099.5 861.9 C2102.3 860.1 2105.9 851.0 2109.0 848.8 C2112.2 846.6 2115.8 849.2 2118.6 848.8 C2121.3 848.4 2122.9 848.6 2125.7 846.4 C2128.5 844.2 2132.5 837.7 2135.2 835.7 C2138.0 833.7 2139.2 836.1 2142.4 834.5 C2145.6 832.9 2152.3 827.6 2154.3 826.2" fill="none" stroke="#2a1838" stroke-width="1.0" stroke-linejoin="round" stroke-linecap="round" />
<circle cx="2048.6" cy="832.0" r="1.5" fill="#b08a90" stroke="#222" stroke-width="0.6"/><circle cx="1981.8" cy="849.0" r="1.5" fill="#b08a90" stroke="#222" stroke-width="0.6"/><circle cx="1955.3" cy="860.3" r="1.5" fill="#b08a90" stroke="#222" stroke-width="0.6"/><circle cx="2116.1" cy="850.6" r="1.5" fill="#b08a90" stroke="#222" stroke-width="0.6"/><circle cx="2092.0" cy="856.6" r="1.5" fill="#b08a90" stroke="#222" stroke-width="0.6"/><circle cx="2086.1" cy="863.3" r="1.5" fill="#b08a90" stroke="#222" stroke-width="0.6"/><circle cx="1982.3" cy="850.3" r="1.5" fill="#b08a90" stroke="#222" stroke-width="0.6"/><circle cx="2135.4" cy="836.4" r="1.5" fill="#b08a90" stroke="#222" stroke-width="0.6"/><circle cx="1964.9" cy="861.3" r="1.5" fill="#b08a90" stroke="#222" stroke-width="0.6"/><circle cx="2091.3" cy="859.5" r="1.5" fill="#b08a90" stroke="#222" stroke-width="0.6"/><circle cx="2020.9" cy="826.3" r="1.5" fill="#b08a90" stroke="#222" stroke-width="0.6"/><circle cx="1956.8" cy="867.5" r="1.5" fill="#b08a90" stroke="#222" stroke-width="0.6"/><circle cx="1965.3" cy="863.7" r="1.5" fill="#b08a90" stroke="#222" stroke-width="0.6"/><circle cx="1971.4" cy="858.7" r="1.5" fill="#b08a90" stroke="#222" stroke-width="0.6"/><circle cx="2151.7" cy="829.5" r="1.5" fill="#b08a90" stroke="#222" stroke-width="0.6"/><circle cx="2038.2" cy="825.8" r="1.5" fill="#b08a90" stroke="#222" stroke-width="0.6"/><circle cx="1980.3" cy="853.8" r="1.5" fill="#b08a90" stroke="#222" stroke-width="0.6"/><circle cx="1986.0" cy="855.0" r="1.5" fill="#b08a90" stroke="#222" stroke-width="0.6"/><circle cx="2093.3" cy="861.7" r="1.5" fill="#b08a90" stroke="#222" stroke-width="0.6"/><circle cx="2117.2" cy="849.4" r="1.5" fill="#b08a90" stroke="#222" stroke-width="0.6"/><circle cx="2033.7" cy="820.7" r="1.5" fill="#b08a90" stroke="#222" stroke-width="0.6"/><circle cx="2049.0" cy="837.0" r="1.5" fill="#b08a90" stroke="#222" stroke-width="0.6"/><circle cx="2030.5" cy="830.8" r="1.5" fill="#b08a90" stroke="#222" stroke-width="0.6"/><circle cx="2147.7" cy="831.8" r="1.5" fill="#b08a90" stroke="#222" stroke-width="0.6"/><circle cx="2149.5" cy="828.0" r="1.5" fill="#b08a90" stroke="#222" stroke-width="0.6"/><circle cx="2026.2" cy="824.9" r="1.5" fill="#b08a90" stroke="#222" stroke-width="0.6"/><circle cx="2091.9" cy="859.2" r="1.5" fill="#b08a90" stroke="#222" stroke-width="0.6"/><circle cx="2000.4" cy="841.8" r="1.5" fill="#b08a90" stroke="#222" stroke-width="0.6"/><circle cx="2026.2" cy="821.6" r="1.5" fill="#b08a90" stroke="#222" stroke-width="0.6"/><circle cx="2053.7" cy="839.2" r="1.5" fill="#b08a90" stroke="#222" stroke-width="0.6"/><circle cx="1958.8" cy="867.8" r="1.5" fill="#b08a90" stroke="#222" stroke-width="0.6"/><circle cx="2057.5" cy="846.5" r="1.5" fill="#b08a90" stroke="#222" stroke-width="0.6"/><circle cx="1997.8" cy="842.9" r="1.5" fill="#b08a90" stroke="#222" stroke-width="0.6"/><circle cx="2108.4" cy="851.1" r="1.5" fill="#b08a90" stroke="#222" stroke-width="0.6"/><circle cx="1973.7" cy="860.1" r="1.5" fill="#b08a90" stroke="#222" stroke-width="0.6"/><circle cx="2093.1" cy="859.1" r="1.5" fill="#b08a90" stroke="#222" stroke-width="0.6"/><circle cx="1960.5" cy="864.7" r="1.5" fill="#b08a90" stroke="#222" stroke-width="0.6"/><circle cx="2081.2" cy="865.6" r="1.5" fill="#b08a90" stroke="#222" stroke-width="0.6"/><circle cx="1963.6" cy="860.0" r="1.5" fill="#b08a90" stroke="#222" stroke-width="0.6"/><circle cx="2009.8" cy="837.9" r="1.5" fill="#b08a90" stroke="#222" stroke-width="0.6"/><circle cx="2048.9" cy="838.4" r="1.5" fill="#b08a90" stroke="#222" stroke-width="0.6"/><circle cx="2145.4" cy="831.5" r="1.5" fill="#b08a90" stroke="#222" stroke-width="0.6"/><circle cx="1986.8" cy="853.5" r="1.5" fill="#b08a90" stroke="#222" stroke-width="0.6"/><circle cx="1991.2" cy="848.9" r="1.5" fill="#b08a90" stroke="#222" stroke-width="0.6"/><circle cx="2103.7" cy="856.5" r="1.5" fill="#b08a90" stroke="#222" stroke-width="0.6"/><circle cx="2007.1" cy="836.8" r="1.5" fill="#b08a90" stroke="#222" stroke-width="0.6"/><circle cx="2108.1" cy="848.7" r="1.5" fill="#b08a90" stroke="#222" stroke-width="0.6"/><circle cx="1954.8" cy="863.6" r="1.5" fill="#b08a90" stroke="#222" stroke-width="0.6"/><circle cx="1961.1" cy="857.8" r="1.5" fill="#b08a90" stroke="#222" stroke-width="0.6"/><circle cx="2154.0" cy="820.2" r="1.5" fill="#b08a90" stroke="#222" stroke-width="0.6"/><circle cx="2054.4" cy="844.3" r="1.5" fill="#b08a90" stroke="#222" stroke-width="0.6"/><circle cx="2111.5" cy="849.2" r="1.5" fill="#b08a90" stroke="#222" stroke-width="0.6"/><circle cx="2120.5" cy="846.7" r="1.5" fill="#b08a90" stroke="#222" stroke-width="0.6"/><circle cx="2059.2" cy="851.9" r="1.5" fill="#b08a90" stroke="#222" stroke-width="0.6"/><circle cx="2049.1" cy="833.3" r="1.5" fill="#b08a90" stroke="#222" stroke-width="0.6"/><circle cx="2143.6" cy="831.9" r="1.5" fill="#b08a90" stroke="#222" stroke-width="0.6"/><circle cx="2133.0" cy="839.6" r="1.5" fill="#b08a90" stroke="#222" stroke-width="0.6"/><circle cx="2128.8" cy="845.3" r="1.5" fill="#b08a90" stroke="#222" stroke-width="0.6"/><circle cx="2009.1" cy="840.9" r="1.5" fill="#b08a90" stroke="#222" stroke-width="0.6"/><circle cx="2093.1" cy="858.4" r="1.5" fill="#b08a90" stroke="#222" stroke-width="0.6"/><circle cx="2094.9" cy="860.9" r="1.5" fill="#b08a90" stroke="#222" stroke-width="0.6"/><circle cx="2004.4" cy="841.7" r="1.5" fill="#b08a90" stroke="#222" stroke-width="0.6"/><circle cx="2090.6" cy="860.8" r="1.5" fill="#b08a90" stroke="#222" stroke-width="0.6"/><circle cx="2131.4" cy="838.4" r="1.5" fill="#b08a90" stroke="#222" stroke-width="0.6"/><circle cx="2037.7" cy="826.0" r="1.5" fill="#b08a90" stroke="#222" stroke-width="0.6"/><circle cx="2150.2" cy="832.5" r="1.5" fill="#b08a90" stroke="#222" stroke-width="0.6"/><circle cx="2065.7" cy="851.8" r="1.5" fill="#b08a90" stroke="#222" stroke-width="0.6"/><circle cx="2146.6" cy="826.5" r="1.5" fill="#b08a90" stroke="#222" stroke-width="0.6"/><circle cx="2106.1" cy="849.2" r="1.5" fill="#b08a90" stroke="#222" stroke-width="0.6"/><circle cx="2134.4" cy="838.8" r="1.5" fill="#b08a90" stroke="#222" stroke-width="0.6"/>
<text x="2053.4" y="808.3" class="s" font-size="13.5" fill="#444" text-anchor="middle"><tspan class="m" font-size="15">M</tspan><tspan font-size="9" dy="3">9</tspan><tspan dy="-3"> LML: 28.9, CLML: 13.3</tspan></text>
<rect x="1951.3" y="903.4" width="204.20000000000005" height="61.60000000000002" fill="#eaeaf2"/><line x1="1993" y1="903.4" x2="1993" y2="965" stroke="#fff" stroke-width="1.1"/><line x1="2033.5" y1="903.4" x2="2033.5" y2="965" stroke="#fff" stroke-width="1.1"/><line x1="2073.3" y1="903.4" x2="2073.3" y2="965" stroke="#fff" stroke-width="1.1"/><line x1="2113.8" y1="903.4" x2="2113.8" y2="965" stroke="#fff" stroke-width="1.1"/><line x1="1951.3" y1="909.3" x2="2155.5" y2="909.3" stroke="#fff" stroke-width="1.1"/><line x1="1951.3" y1="923.7" x2="2155.5" y2="923.7" stroke="#fff" stroke-width="1.1"/><line x1="1951.3" y1="938.2" x2="2155.5" y2="938.2" stroke="#fff" stroke-width="1.1"/><line x1="1951.3" y1="952.1" x2="2155.5" y2="952.1" stroke="#fff" stroke-width="1.1"/>
<path d="M1953.1 942.5 C1954.1 943.7 1956.7 949.9 1959.0 949.7 C1961.4 949.5 1964.6 941.9 1967.4 941.3 C1970.2 940.7 1973.1 947.3 1975.7 946.1 C1978.3 944.9 1979.9 936.4 1982.9 934.2 C1985.8 932.0 1989.6 935.4 1993.6 933.0 C1997.5 930.6 2003.1 921.9 2006.7 919.9 C2010.2 917.9 2012.2 922.5 2015.0 921.1 C2017.8 919.7 2020.0 914.0 2023.3 911.6 C2026.7 909.2 2032.1 906.6 2035.2 906.8 C2038.4 907.0 2039.4 910.4 2042.4 912.8 C2045.4 915.1 2050.3 917.1 2053.1 921.1 C2055.9 925.1 2056.1 933.0 2059.0 936.6 C2062.0 940.1 2068.0 941.7 2071.0 942.5 C2073.9 943.3 2074.5 940.1 2076.9 941.3 C2079.3 942.5 2082.7 949.5 2085.2 949.7 C2087.8 949.9 2090.0 943.3 2092.4 942.5 C2094.8 941.7 2096.7 946.7 2099.5 944.9 C2102.3 943.1 2105.9 934.0 2109.0 931.8 C2112.2 929.6 2115.8 932.2 2118.6 931.8 C2121.3 931.4 2122.9 931.6 2125.7 929.4 C2128.5 927.2 2132.5 920.7 2135.2 918.7 C2138.0 916.7 2139.2 919.1 2142.4 917.5 C2145.6 915.9 2152.3 910.6 2154.3 909.2 L2154.3 922.2 C2152.3 923.6 2145.6 928.9 2142.4 930.5 C2139.2 932.1 2138.0 929.7 2135.2 931.7 C2132.5 933.7 2128.5 940.2 2125.7 942.4 C2122.9 944.6 2121.3 944.4 2118.6 944.8 C2115.8 945.2 2112.2 942.6 2109.0 944.8 C2105.9 947.0 2102.3 956.1 2099.5 957.9 C2096.7 959.7 2094.8 954.7 2092.4 955.5 C2090.0 956.3 2087.8 962.9 2085.2 962.7 C2082.7 962.5 2079.3 955.5 2076.9 954.3 C2074.5 953.1 2073.9 956.3 2071.0 955.5 C2068.0 954.7 2062.0 953.1 2059.0 949.6 C2056.1 946.0 2055.9 938.1 2053.1 934.1 C2050.3 930.1 2045.4 928.1 2042.4 925.8 C2039.4 923.4 2038.4 920.0 2035.2 919.8 C2032.1 919.6 2026.7 922.2 2023.3 924.6 C2020.0 927.0 2017.8 932.7 2015.0 934.1 C2012.2 935.5 2010.2 930.9 2006.7 932.9 C2003.1 934.9 1997.5 943.6 1993.6 946.0 C1989.6 948.4 1985.8 945.0 1982.9 947.2 C1979.9 949.4 1978.3 957.9 1975.7 959.1 C1973.1 960.3 1970.2 953.7 1967.4 954.3 C1964.6 954.9 1961.4 962.5 1959.0 962.7 C1956.7 962.9 1954.1 956.7 1953.1 955.5 z" fill="#d9a1ac" stroke="#6a4a6a" stroke-width="0.5"/>
<path d="M1953.1 949.0 C1954.1 950.2 1956.7 956.4 1959.0 956.2 C1961.4 956.0 1964.6 948.4 1967.4 947.8 C1970.2 947.2 1973.1 953.8 1975.7 952.6 C1978.3 951.4 1979.9 942.9 1982.9 940.7 C1985.8 938.5 1989.6 941.9 1993.6 939.5 C1997.5 937.1 2003.1 928.4 2006.7 926.4 C2010.2 924.4 2012.2 929.0 2015.0 927.6 C2017.8 926.2 2020.0 920.5 2023.3 918.1 C2026.7 915.7 2032.1 913.1 2035.2 913.3 C2038.4 913.5 2039.4 916.9 2042.4 919.3 C2045.4 921.6 2050.3 923.6 2053.1 927.6 C2055.9 931.6 2056.1 939.5 2059.0 943.1 C2062.0 946.6 2068.0 948.2 2071.0 949.0 C2073.9 949.8 2074.5 946.6 2076.9 947.8 C2079.3 949.0 2082.7 956.0 2085.2 956.2 C2087.8 956.4 2090.0 949.8 2092.4 949.0 C2094.8 948.2 2096.7 953.2 2099.5 951.4 C2102.3 949.6 2105.9 940.5 2109.0 938.3 C2112.2 936.1 2115.8 938.7 2118.6 938.3 C2121.3 937.9 2122.9 938.1 2125.7 935.9 C2128.5 933.7 2132.5 927.2 2135.2 925.2 C2138.0 923.2 2139.2 925.6 2142.4 924.0 C2145.6 922.4 2152.3 917.1 2154.3 915.7" fill="none" stroke="#2a1838" stroke-width="1.0" stroke-linejoin="round" stroke-linecap="round" />
<circle cx="2005.2" cy="925.9" r="1.5" fill="#b08a90" stroke="#222" stroke-width="0.6"/><circle cx="2124.0" cy="932.0" r="1.5" fill="#b08a90" stroke="#222" stroke-width="0.6"/><circle cx="1990.5" cy="940.1" r="1.5" fill="#b08a90" stroke="#222" stroke-width="0.6"/><circle cx="1998.4" cy="936.5" r="1.5" fill="#b08a90" stroke="#222" stroke-width="0.6"/><circle cx="2100.8" cy="952.4" r="1.5" fill="#b08a90" stroke="#222" stroke-width="0.6"/><circle cx="1996.1" cy="939.8" r="1.5" fill="#b08a90" stroke="#222" stroke-width="0.6"/><circle cx="2012.4" cy="921.7" r="1.5" fill="#b08a90" stroke="#222" stroke-width="0.6"/><circle cx="2075.5" cy="950.7" r="1.5" fill="#b08a90" stroke="#222" stroke-width="0.6"/><circle cx="1956.0" cy="952.2" r="1.5" fill="#b08a90" stroke="#222" stroke-width="0.6"/><circle cx="2128.4" cy="934.7" r="1.5" fill="#b08a90" stroke="#222" stroke-width="0.6"/><circle cx="2116.0" cy="940.4" r="1.5" fill="#b08a90" stroke="#222" stroke-width="0.6"/><circle cx="2102.9" cy="941.1" r="1.5" fill="#b08a90" stroke="#222" stroke-width="0.6"/><circle cx="2144.1" cy="923.5" r="1.5" fill="#b08a90" stroke="#222" stroke-width="0.6"/><circle cx="2124.1" cy="934.1" r="1.5" fill="#b08a90" stroke="#222" stroke-width="0.6"/><circle cx="2051.0" cy="926.1" r="1.5" fill="#b08a90" stroke="#222" stroke-width="0.6"/><circle cx="2039.5" cy="912.8" r="1.5" fill="#b08a90" stroke="#222" stroke-width="0.6"/><circle cx="2026.4" cy="914.3" r="1.5" fill="#b08a90" stroke="#222" stroke-width="0.6"/><circle cx="1976.7" cy="952.1" r="1.5" fill="#b08a90" stroke="#222" stroke-width="0.6"/><circle cx="2118.0" cy="941.1" r="1.5" fill="#b08a90" stroke="#222" stroke-width="0.6"/><circle cx="2092.1" cy="940.4" r="1.5" fill="#b08a90" stroke="#222" stroke-width="0.6"/><circle cx="2064.6" cy="945.8" r="1.5" fill="#b08a90" stroke="#222" stroke-width="0.6"/><circle cx="2089.3" cy="950.4" r="1.5" fill="#b08a90" stroke="#222" stroke-width="0.6"/><circle cx="2042.3" cy="920.2" r="1.5" fill="#b08a90" stroke="#222" stroke-width="0.6"/><circle cx="2058.3" cy="942.9" r="1.5" fill="#b08a90" stroke="#222" stroke-width="0.6"/><circle cx="2004.1" cy="924.8" r="1.5" fill="#b08a90" stroke="#222" stroke-width="0.6"/><circle cx="2032.7" cy="915.4" r="1.5" fill="#b08a90" stroke="#222" stroke-width="0.6"/><circle cx="1979.4" cy="944.1" r="1.5" fill="#b08a90" stroke="#222" stroke-width="0.6"/><circle cx="2000.5" cy="932.7" r="1.5" fill="#b08a90" stroke="#222" stroke-width="0.6"/><circle cx="1992.2" cy="938.8" r="1.5" fill="#b08a90" stroke="#222" stroke-width="0.6"/><circle cx="2084.1" cy="956.0" r="1.5" fill="#b08a90" stroke="#222" stroke-width="0.6"/><circle cx="2145.0" cy="918.3" r="1.5" fill="#b08a90" stroke="#222" stroke-width="0.6"/><circle cx="2140.8" cy="927.5" r="1.5" fill="#b08a90" stroke="#222" stroke-width="0.6"/><circle cx="1961.8" cy="957.1" r="1.5" fill="#b08a90" stroke="#222" stroke-width="0.6"/><circle cx="2121.7" cy="941.8" r="1.5" fill="#b08a90" stroke="#222" stroke-width="0.6"/><circle cx="2081.7" cy="954.4" r="1.5" fill="#b08a90" stroke="#222" stroke-width="0.6"/><circle cx="2127.8" cy="936.4" r="1.5" fill="#b08a90" stroke="#222" stroke-width="0.6"/><circle cx="2131.4" cy="930.3" r="1.5" fill="#b08a90" stroke="#222" stroke-width="0.6"/><circle cx="2124.8" cy="934.2" r="1.5" fill="#b08a90" stroke="#222" stroke-width="0.6"/><circle cx="2028.5" cy="915.6" r="1.5" fill="#b08a90" stroke="#222" stroke-width="0.6"/><circle cx="2148.5" cy="918.0" r="1.5" fill="#b08a90" stroke="#222" stroke-width="0.6"/><circle cx="2074.5" cy="947.9" r="1.5" fill="#b08a90" stroke="#222" stroke-width="0.6"/><circle cx="2077.3" cy="946.0" r="1.5" fill="#b08a90" stroke="#222" stroke-width="0.6"/><circle cx="2070.0" cy="946.0" r="1.5" fill="#b08a90" stroke="#222" stroke-width="0.6"/><circle cx="2099.5" cy="949.8" r="1.5" fill="#b08a90" stroke="#222" stroke-width="0.6"/><circle cx="2021.8" cy="919.3" r="1.5" fill="#b08a90" stroke="#222" stroke-width="0.6"/><circle cx="2090.7" cy="952.5" r="1.5" fill="#b08a90" stroke="#222" stroke-width="0.6"/><circle cx="1975.7" cy="952.8" r="1.5" fill="#b08a90" stroke="#222" stroke-width="0.6"/><circle cx="2082.6" cy="954.7" r="1.5" fill="#b08a90" stroke="#222" stroke-width="0.6"/><circle cx="2065.0" cy="945.2" r="1.5" fill="#b08a90" stroke="#222" stroke-width="0.6"/><circle cx="2041.5" cy="918.3" r="1.5" fill="#b08a90" stroke="#222" stroke-width="0.6"/><circle cx="2022.1" cy="919.7" r="1.5" fill="#b08a90" stroke="#222" stroke-width="0.6"/><circle cx="2153.9" cy="916.1" r="1.5" fill="#b08a90" stroke="#222" stroke-width="0.6"/><circle cx="1977.5" cy="948.7" r="1.5" fill="#b08a90" stroke="#222" stroke-width="0.6"/><circle cx="2073.3" cy="951.0" r="1.5" fill="#b08a90" stroke="#222" stroke-width="0.6"/><circle cx="1968.7" cy="945.6" r="1.5" fill="#b08a90" stroke="#222" stroke-width="0.6"/><circle cx="2121.0" cy="938.1" r="1.5" fill="#b08a90" stroke="#222" stroke-width="0.6"/><circle cx="1954.2" cy="948.5" r="1.5" fill="#b08a90" stroke="#222" stroke-width="0.6"/><circle cx="2148.2" cy="923.2" r="1.5" fill="#b08a90" stroke="#222" stroke-width="0.6"/><circle cx="2057.0" cy="933.2" r="1.5" fill="#b08a90" stroke="#222" stroke-width="0.6"/><circle cx="2012.8" cy="928.0" r="1.5" fill="#b08a90" stroke="#222" stroke-width="0.6"/><circle cx="1959.5" cy="948.7" r="1.5" fill="#b08a90" stroke="#222" stroke-width="0.6"/><circle cx="2101.6" cy="948.4" r="1.5" fill="#b08a90" stroke="#222" stroke-width="0.6"/><circle cx="2005.1" cy="925.5" r="1.5" fill="#b08a90" stroke="#222" stroke-width="0.6"/><circle cx="2005.1" cy="922.3" r="1.5" fill="#b08a90" stroke="#222" stroke-width="0.6"/><circle cx="2071.4" cy="947.5" r="1.5" fill="#b08a90" stroke="#222" stroke-width="0.6"/><circle cx="2010.9" cy="928.9" r="1.5" fill="#b08a90" stroke="#222" stroke-width="0.6"/><circle cx="1994.1" cy="938.4" r="1.5" fill="#b08a90" stroke="#222" stroke-width="0.6"/><circle cx="2033.1" cy="914.9" r="1.5" fill="#b08a90" stroke="#222" stroke-width="0.6"/><circle cx="1970.5" cy="949.9" r="1.5" fill="#b08a90" stroke="#222" stroke-width="0.6"/><circle cx="1953.9" cy="945.7" r="1.5" fill="#b08a90" stroke="#222" stroke-width="0.6"/>
<text x="2053.4" y="897" class="s" font-size="13.5" fill="#444" text-anchor="middle"><tspan class="m" font-size="15">M</tspan><tspan font-size="9" dy="3">9c</tspan><tspan dy="-3"> LML: 54.2, CLML: 13.4</tspan></text>
<rect x="1972.2" y="1205.5" width="77.99999999999977" height="82.79999999999995" fill="#fff" stroke="#e3e3e3" stroke-width="0.9"/><line x1="1983.1" y1="1205.5" x2="1983.1" y2="1288.3" stroke="#e3e3e3" stroke-width="0.9"/><line x1="2014.6" y1="1205.5" x2="2014.6" y2="1288.3" stroke="#e3e3e3" stroke-width="0.9"/><line x1="2046" y1="1205.5" x2="2046" y2="1288.3" stroke="#e3e3e3" stroke-width="0.9"/><line x1="1972.2" y1="1212.4" x2="2050.2" y2="1212.4" stroke="#e3e3e3" stroke-width="0.9"/><line x1="1972.2" y1="1237.3" x2="2050.2" y2="1237.3" stroke="#e3e3e3" stroke-width="0.9"/><line x1="1972.2" y1="1262.3" x2="2050.2" y2="1262.3" stroke="#e3e3e3" stroke-width="0.9"/><line x1="1972.2" y1="1287.6" x2="2050.2" y2="1287.6" stroke="#e3e3e3" stroke-width="0.9"/>
<circle cx="1981.5" cy="1253.2" r="5.2" fill="#f5d6d0" stroke="#2a2030" stroke-width="0.8"/><circle cx="1991.6" cy="1248.0" r="5.2" fill="#f5d6d0" stroke="#2a2030" stroke-width="0.8"/><circle cx="1996.4" cy="1236.7" r="5.2" fill="#f5d6d0" stroke="#2a2030" stroke-width="0.8"/><circle cx="1993.6" cy="1240.7" r="5.2" fill="#f5d6d0" stroke="#2a2030" stroke-width="0.8"/><circle cx="2001.7" cy="1242.7" r="5.2" fill="#e2aab3" stroke="#2a2030" stroke-width="0.8"/><circle cx="2005.7" cy="1235.5" r="5.2" fill="#e2aab3" stroke="#2a2030" stroke-width="0.8"/><circle cx="2006.9" cy="1230.2" r="5.2" fill="#e2aab3" stroke="#2a2030" stroke-width="0.8"/><circle cx="2011.8" cy="1230.2" r="5.2" fill="#e2aab3" stroke="#2a2030" stroke-width="0.8"/><circle cx="2010.5" cy="1244.7" r="5.2" fill="#c88aa8" stroke="#2a2030" stroke-width="0.8"/><circle cx="2016.6" cy="1233.9" r="5.2" fill="#c88aa8" stroke="#2a2030" stroke-width="0.8"/><circle cx="2024.7" cy="1231.0" r="5.2" fill="#c88aa8" stroke="#2a2030" stroke-width="0.8"/><circle cx="2022.6" cy="1229.0" r="5.2" fill="#c88aa8" stroke="#2a2030" stroke-width="0.8"/><circle cx="2022.6" cy="1237.9" r="5.2" fill="#c88aa8" stroke="#2a2030" stroke-width="0.8"/><circle cx="2028.7" cy="1251.6" r="5.2" fill="#8e4e8e" stroke="#2a2030" stroke-width="0.8"/><circle cx="2031.5" cy="1248.4" r="5.2" fill="#8e4e8e" stroke="#2a2030" stroke-width="0.8"/><circle cx="2038.0" cy="1226.6" r="5.2" fill="#3b2150" stroke="#2a2030" stroke-width="0.8"/>
<path d="M2042.8 1210.9 L2048.1 1220.9 L2037.5 1220.9 z" fill="#3b2150" stroke="#2a2030" stroke-width="0.8"/><path d="M2043.2 1215.8 L2048.5 1225.8 L2037.9 1225.8 z" fill="#8e4e8e" stroke="#2a2030" stroke-width="0.8"/><path d="M2043.2 1225.4 L2048.5 1235.4 L2037.9 1235.4 z" fill="#c88aa8" stroke="#2a2030" stroke-width="0.8"/><path d="M2042.8 1234.3 L2048.1 1244.3 L2037.5 1244.3 z" fill="#e2aab3" stroke="#2a2030" stroke-width="0.8"/><path d="M2042.4 1245.6 L2047.7 1255.6 L2037.1 1255.6 z" fill="#e2aab3" stroke="#2a2030" stroke-width="0.8"/><path d="M2042.4 1269.8 L2047.7 1279.8 L2037.1 1279.8 z" fill="#f5d6d0" stroke="#2a2030" stroke-width="0.8"/>
<text x="1969.4" y="1216.2" class="s" font-size="12.4" fill="#333" text-anchor="end">−2</text>
<text x="1969.4" y="1241.1" class="s" font-size="12.4" fill="#333" text-anchor="end">−3</text>
<text x="1969.4" y="1266.1" class="s" font-size="12.4" fill="#333" text-anchor="end">−4</text>
<text x="1969.4" y="1291.3999999999999" class="s" font-size="12.4" fill="#333" text-anchor="end">−5</text>
<text x="1983.1" y="1298.8" class="s" font-size="12" fill="#333" text-anchor="middle">25</text>
<text x="2014.6" y="1298.8" class="s" font-size="12" fill="#333" text-anchor="middle">50</text>
<text x="2046" y="1298.8" class="s" font-size="12" fill="#333" text-anchor="middle">75</text>
<text x="2010.1" y="1199.5" class="s" font-size="14" fill="#333" text-anchor="middle"><tspan class="m">λ</tspan> = 10<tspan font-size="8" dy="-5">2</tspan></text>
<text x="1977.1" y="1279.2" class="s" font-size="13.5" fill="#444"><tspan class="m">ρ</tspan> = 0.64</text>
<text x="1949" y="1246.1" class="s" font-size="14.5" fill="#333" text-anchor="middle" transform="rotate(-90 1949 1246.1)">LML</text>
<rect x="2079.7" y="1205.5" width="76.60000000000036" height="82.79999999999995" fill="#fff" stroke="#e3e3e3" stroke-width="0.9"/><line x1="2089.5" y1="1205.5" x2="2089.5" y2="1288.3" stroke="#e3e3e3" stroke-width="0.9"/><line x1="2121.8" y1="1205.5" x2="2121.8" y2="1288.3" stroke="#e3e3e3" stroke-width="0.9"/><line x1="2153.5" y1="1205.5" x2="2153.5" y2="1288.3" stroke="#e3e3e3" stroke-width="0.9"/><line x1="2079.7" y1="1211" x2="2156.3" y2="1211" stroke="#e3e3e3" stroke-width="0.9"/><line x1="2079.7" y1="1237.3" x2="2156.3" y2="1237.3" stroke="#e3e3e3" stroke-width="0.9"/><line x1="2079.7" y1="1262" x2="2156.3" y2="1262" stroke="#e3e3e3" stroke-width="0.9"/>
<circle cx="2088.3" cy="1216.5" r="5.2" fill="#f5d6d0" stroke="#2a2030" stroke-width="0.8"/><circle cx="2099.2" cy="1216.1" r="5.2" fill="#f5d6d0" stroke="#2a2030" stroke-width="0.8"/><circle cx="2103.7" cy="1216.5" r="5.2" fill="#e2aab3" stroke="#2a2030" stroke-width="0.8"/><circle cx="2109.3" cy="1217.3" r="5.2" fill="#e2aab3" stroke="#2a2030" stroke-width="0.8"/><circle cx="2112.5" cy="1215.7" r="5.2" fill="#e2aab3" stroke="#2a2030" stroke-width="0.8"/><circle cx="2117.4" cy="1215.7" r="5.2" fill="#e2aab3" stroke="#2a2030" stroke-width="0.8"/><circle cx="2127.0" cy="1216.5" r="5.2" fill="#c88aa8" stroke="#2a2030" stroke-width="0.8"/><circle cx="2120.6" cy="1221.4" r="5.2" fill="#c88aa8" stroke="#2a2030" stroke-width="0.8"/><circle cx="2134.3" cy="1223.0" r="5.2" fill="#8e4e8e" stroke="#2a2030" stroke-width="0.8"/><circle cx="2136.3" cy="1242.3" r="5.2" fill="#8e4e8e" stroke="#2a2030" stroke-width="0.8"/><circle cx="2140.7" cy="1250.8" r="5.2" fill="#3b2150" stroke="#2a2030" stroke-width="0.8"/><circle cx="2139.5" cy="1265.7" r="5.2" fill="#3b2150" stroke="#2a2030" stroke-width="0.8"/>
<path d="M2149.6 1224.6 L2154.9 1234.6 L2144.3 1234.6 z" fill="#3b2150" stroke="#2a2030" stroke-width="0.8"/><path d="M2149.6 1231.9 L2154.9 1241.9 L2144.3 1241.9 z" fill="#8e4e8e" stroke="#2a2030" stroke-width="0.8"/><path d="M2148.8 1235.9 L2154.1 1245.9 L2143.5 1245.9 z" fill="#8e4e8e" stroke="#2a2030" stroke-width="0.8"/><path d="M2146.4 1242.4 L2151.7 1252.4 L2141.1 1252.4 z" fill="#e2aab3" stroke="#2a2030" stroke-width="0.8"/><path d="M2146.0 1249.6 L2151.3 1259.6 L2140.7 1259.6 z" fill="#f5d6d0" stroke="#2a2030" stroke-width="0.8"/>
<text x="2076.2" y="1214.8" class="s" font-size="12.4" fill="#333" text-anchor="end">0</text>
<text x="2076.2" y="1241.1" class="s" font-size="12.4" fill="#333" text-anchor="end">−20</text>
<text x="2076.2" y="1265.8" class="s" font-size="12.4" fill="#333" text-anchor="end">−40</text>
<text x="2076.2" y="1292.1" class="s" font-size="12.4" fill="#333" text-anchor="end">−60</text>
<text x="2089.5" y="1298.8" class="s" font-size="12" fill="#333" text-anchor="middle">25</text>
<text x="2121.8" y="1298.8" class="s" font-size="12" fill="#333" text-anchor="middle">50</text>
<text x="2153.5" y="1298.8" class="s" font-size="12" fill="#333" text-anchor="middle">75</text>
<text x="2116.9" y="1199.5" class="s" font-size="14" fill="#333" text-anchor="middle"><tspan class="m">λ</tspan> = 10<tspan font-size="8" dy="-5">−1</tspan></text>
<text x="2083.9" y="1280.5" class="s" font-size="13.5" fill="#444"><tspan class="m">ρ</tspan> = −0.75</text>
<rect x="2186.9" y="1205.5" width="76.5" height="82.79999999999995" fill="#fff" stroke="#e3e3e3" stroke-width="0.9"/><line x1="2196.8" y1="1205.5" x2="2196.8" y2="1288.3" stroke="#e3e3e3" stroke-width="0.9"/><line x1="2229.4" y1="1205.5" x2="2229.4" y2="1288.3" stroke="#e3e3e3" stroke-width="0.9"/><line x1="2261" y1="1205.5" x2="2261" y2="1288.3" stroke="#e3e3e3" stroke-width="0.9"/><line x1="2186.9" y1="1210.3" x2="2263.4" y2="1210.3" stroke="#e3e3e3" stroke-width="0.9"/><line x1="2186.9" y1="1237.7" x2="2263.4" y2="1237.7" stroke="#e3e3e3" stroke-width="0.9"/><line x1="2186.9" y1="1266.2" x2="2263.4" y2="1266.2" stroke="#e3e3e3" stroke-width="0.9"/>
<circle cx="2195.6" cy="1211.7" r="5.2" fill="#f5d6d0" stroke="#2a2030" stroke-width="0.8"/><circle cx="2207.6" cy="1211.7" r="5.2" fill="#f5d6d0" stroke="#2a2030" stroke-width="0.8"/><circle cx="2211.1" cy="1212.4" r="5.2" fill="#e2aab3" stroke="#2a2030" stroke-width="0.8"/><circle cx="2219.5" cy="1211.7" r="5.2" fill="#e2aab3" stroke="#2a2030" stroke-width="0.8"/><circle cx="2223.7" cy="1212.4" r="5.2" fill="#e2aab3" stroke="#2a2030" stroke-width="0.8"/><circle cx="2228.0" cy="1211.7" r="5.2" fill="#e2aab3" stroke="#2a2030" stroke-width="0.8"/><circle cx="2233.6" cy="1213.1" r="5.2" fill="#c88aa8" stroke="#2a2030" stroke-width="0.8"/><circle cx="2242.0" cy="1214.5" r="5.2" fill="#c88aa8" stroke="#2a2030" stroke-width="0.8"/><circle cx="2243.4" cy="1222.9" r="5.2" fill="#8e4e8e" stroke="#2a2030" stroke-width="0.8"/><circle cx="2246.2" cy="1242.6" r="5.2" fill="#8e4e8e" stroke="#2a2030" stroke-width="0.8"/><circle cx="2249.0" cy="1267.9" r="5.2" fill="#3b2150" stroke="#2a2030" stroke-width="0.8"/>
<path d="M2251.9 1228.2 L2257.2 1238.2 L2246.6 1238.2 z" fill="#f5d6d0" stroke="#2a2030" stroke-width="0.8"/><path d="M2253.3 1236.6 L2258.6 1246.6 L2248.0 1246.6 z" fill="#e2aab3" stroke="#2a2030" stroke-width="0.8"/><path d="M2254.7 1243.7 L2260.0 1253.7 L2249.4 1253.7 z" fill="#c88aa8" stroke="#2a2030" stroke-width="0.8"/><path d="M2256.1 1250.7 L2261.4 1260.7 L2250.8 1260.7 z" fill="#c88aa8" stroke="#2a2030" stroke-width="0.8"/><path d="M2257.5 1257.7 L2262.8 1267.7 L2252.2 1267.7 z" fill="#8e4e8e" stroke="#2a2030" stroke-width="0.8"/><path d="M2257.5 1263.3 L2262.8 1273.3 L2252.2 1273.3 z" fill="#3b2150" stroke="#2a2030" stroke-width="0.8"/>
<text x="2183.7" y="1214.1" class="s" font-size="12.4" fill="#333" text-anchor="end">0</text>
<text x="2183.7" y="1241.5" class="s" font-size="12.4" fill="#333" text-anchor="end">−100</text>
<text x="2183.7" y="1270.0" class="s" font-size="12.4" fill="#333" text-anchor="end">−200</text>
<text x="2196.8" y="1298.8" class="s" font-size="12" fill="#333" text-anchor="middle">25</text>
<text x="2229.4" y="1298.8" class="s" font-size="12" fill="#333" text-anchor="middle">50</text>
<text x="2261" y="1298.8" class="s" font-size="12" fill="#333" text-anchor="middle">75</text>
<text x="2223.7" y="1199.5" class="s" font-size="14" fill="#333" text-anchor="middle"><tspan class="m">λ</tspan> = 10<tspan font-size="8" dy="-5">−3</tspan></text>
<text x="2190.7" y="1280.5" class="s" font-size="13.5" fill="#444"><tspan class="m">ρ</tspan> = −0.95</text>
<text x="2102.9" y="1315" class="s" font-size="13.4" fill="#333" text-anchor="middle">BMA test accuracy [%]</text>
<rect x="2319.1" y="1205.5" width="76.40000000000009" height="82.79999999999995" fill="#fff" stroke="#e3e3e3" stroke-width="0.9"/><line x1="2328.3" y1="1205.5" x2="2328.3" y2="1288.3" stroke="#e3e3e3" stroke-width="0.9"/><line x1="2360.2" y1="1205.5" x2="2360.2" y2="1288.3" stroke="#e3e3e3" stroke-width="0.9"/><line x1="2392.5" y1="1205.5" x2="2392.5" y2="1288.3" stroke="#e3e3e3" stroke-width="0.9"/><line x1="2319.1" y1="1231.5" x2="2395.5" y2="1231.5" stroke="#e3e3e3" stroke-width="0.9"/><line x1="2319.1" y1="1264.9" x2="2395.5" y2="1264.9" stroke="#e3e3e3" stroke-width="0.9"/>
<circle cx="2327.4" cy="1279.5" r="5.2" fill="#f5d6d0" stroke="#2a2030" stroke-width="0.8"/><circle cx="2336.8" cy="1268.3" r="5.2" fill="#f5d6d0" stroke="#2a2030" stroke-width="0.8"/><circle cx="2338.6" cy="1265.4" r="5.2" fill="#f5d6d0" stroke="#2a2030" stroke-width="0.8"/><circle cx="2341.5" cy="1255.4" r="5.2" fill="#f5d6d0" stroke="#2a2030" stroke-width="0.8"/><circle cx="2347.4" cy="1256.0" r="5.2" fill="#e2aab3" stroke="#2a2030" stroke-width="0.8"/><circle cx="2352.7" cy="1249.5" r="5.2" fill="#f5d6d0" stroke="#2a2030" stroke-width="0.8"/><circle cx="2355.1" cy="1241.8" r="5.2" fill="#f5d6d0" stroke="#2a2030" stroke-width="0.8"/><circle cx="2354.5" cy="1246.5" r="5.2" fill="#e2aab3" stroke="#2a2030" stroke-width="0.8"/><circle cx="2360.4" cy="1234.8" r="5.2" fill="#e2aab3" stroke="#2a2030" stroke-width="0.8"/><circle cx="2364.5" cy="1226.5" r="5.2" fill="#e2aab3" stroke="#2a2030" stroke-width="0.8"/><circle cx="2368.6" cy="1231.8" r="5.2" fill="#c88aa8" stroke="#2a2030" stroke-width="0.8"/><circle cx="2370.4" cy="1224.7" r="5.2" fill="#c88aa8" stroke="#2a2030" stroke-width="0.8"/><circle cx="2373.9" cy="1221.2" r="5.2" fill="#c88aa8" stroke="#2a2030" stroke-width="0.8"/><circle cx="2376.9" cy="1218.9" r="5.2" fill="#c88aa8" stroke="#2a2030" stroke-width="0.8"/><circle cx="2378.6" cy="1222.4" r="5.2" fill="#c88aa8" stroke="#2a2030" stroke-width="0.8"/><circle cx="2380.4" cy="1238.9" r="5.2" fill="#8e4e8e" stroke="#2a2030" stroke-width="0.8"/><circle cx="2382.7" cy="1228.3" r="5.2" fill="#8e4e8e" stroke="#2a2030" stroke-width="0.8"/>
<path d="M2388.6 1219.3 L2393.9 1229.3 L2383.3 1229.3 z" fill="#3b2150" stroke="#2a2030" stroke-width="0.8"/><path d="M2389.2 1216.4 L2394.5 1226.4 L2383.9 1226.4 z" fill="#3b2150" stroke="#2a2030" stroke-width="0.8"/><path d="M2389.2 1223.5 L2394.5 1233.5 L2383.9 1233.5 z" fill="#8e4e8e" stroke="#2a2030" stroke-width="0.8"/><path d="M2389.8 1229.3 L2395.1 1239.3 L2384.5 1239.3 z" fill="#8e4e8e" stroke="#2a2030" stroke-width="0.8"/><path d="M2389.2 1232.9 L2394.5 1242.9 L2383.9 1242.9 z" fill="#8e4e8e" stroke="#2a2030" stroke-width="0.8"/>
<text x="2314.7" y="1235.3" class="s" font-size="12.4" fill="#333" text-anchor="end">−2</text>
<text x="2314.7" y="1268.7" class="s" font-size="12.4" fill="#333" text-anchor="end">−3</text>
<text x="2328.3" y="1298.8" class="s" font-size="12" fill="#333" text-anchor="middle">25</text>
<text x="2360.2" y="1298.8" class="s" font-size="12" fill="#333" text-anchor="middle">50</text>
<text x="2392.5" y="1298.8" class="s" font-size="12" fill="#333" text-anchor="middle">75</text>
<text x="2356.4" y="1199.5" class="s" font-size="14" fill="#333" text-anchor="middle"><tspan class="m">λ</tspan> = 10<tspan font-size="8" dy="-5">2</tspan></text>
<text x="2344.2" y="1277" class="s" font-size="13.5" fill="#444"><tspan class="m">ρ</tspan> = 0.43</text>
<text x="2296" y="1245.8" class="s" font-size="14.5" fill="#333" text-anchor="middle" transform="rotate(-90 2296 1245.8)">CLML</text>
<rect x="2418.5" y="1205.5" width="75.90000000000009" height="82.79999999999995" fill="#fff" stroke="#e3e3e3" stroke-width="0.9"/><line x1="2427.2" y1="1205.5" x2="2427.2" y2="1288.3" stroke="#e3e3e3" stroke-width="0.9"/><line x1="2459.7" y1="1205.5" x2="2459.7" y2="1288.3" stroke="#e3e3e3" stroke-width="0.9"/><line x1="2491.8" y1="1205.5" x2="2491.8" y2="1288.3" stroke="#e3e3e3" stroke-width="0.9"/><line x1="2418.5" y1="1210.2" x2="2494.4" y2="1210.2" stroke="#e3e3e3" stroke-width="0.9"/><line x1="2418.5" y1="1236.7" x2="2494.4" y2="1236.7" stroke="#e3e3e3" stroke-width="0.9"/><line x1="2418.5" y1="1264" x2="2494.4" y2="1264" stroke="#e3e3e3" stroke-width="0.9"/>
<circle cx="2426.3" cy="1275.4" r="5.2" fill="#f5d6d0" stroke="#2a2030" stroke-width="0.8"/><circle cx="2436.9" cy="1265.4" r="5.2" fill="#e2aab3" stroke="#2a2030" stroke-width="0.8"/><circle cx="2438.7" cy="1260.1" r="5.2" fill="#f5d6d0" stroke="#2a2030" stroke-width="0.8"/><circle cx="2441.1" cy="1256.6" r="5.2" fill="#f5d6d0" stroke="#2a2030" stroke-width="0.8"/><circle cx="2447.5" cy="1254.2" r="5.2" fill="#e2aab3" stroke="#2a2030" stroke-width="0.8"/><circle cx="2449.9" cy="1247.1" r="5.2" fill="#e2aab3" stroke="#2a2030" stroke-width="0.8"/><circle cx="2454.0" cy="1245.9" r="5.2" fill="#e2aab3" stroke="#2a2030" stroke-width="0.8"/><circle cx="2458.1" cy="1247.1" r="5.2" fill="#c88aa8" stroke="#2a2030" stroke-width="0.8"/><circle cx="2461.1" cy="1242.4" r="5.2" fill="#c88aa8" stroke="#2a2030" stroke-width="0.8"/><circle cx="2465.8" cy="1235.3" r="5.2" fill="#c88aa8" stroke="#2a2030" stroke-width="0.8"/><circle cx="2469.3" cy="1243.6" r="5.2" fill="#8e4e8e" stroke="#2a2030" stroke-width="0.8"/><circle cx="2472.9" cy="1235.3" r="5.2" fill="#8e4e8e" stroke="#2a2030" stroke-width="0.8"/><circle cx="2474.0" cy="1273.0" r="5.2" fill="#3b2150" stroke="#2a2030" stroke-width="0.8"/><circle cx="2475.2" cy="1277.8" r="5.2" fill="#3b2150" stroke="#2a2030" stroke-width="0.8"/>
<path d="M2484.7 1230.5 L2490.0 1240.5 L2479.4 1240.5 z" fill="#f5d6d0" stroke="#2a2030" stroke-width="0.8"/><path d="M2485.8 1224.6 L2491.1 1234.6 L2480.5 1234.6 z" fill="#e2aab3" stroke="#2a2030" stroke-width="0.8"/><path d="M2487.0 1219.9 L2492.3 1229.9 L2481.7 1229.9 z" fill="#c88aa8" stroke="#2a2030" stroke-width="0.8"/><path d="M2488.2 1215.2 L2493.5 1225.2 L2482.9 1225.2 z" fill="#8e4e8e" stroke="#2a2030" stroke-width="0.8"/><path d="M2488.2 1211.7 L2493.5 1221.7 L2482.9 1221.7 z" fill="#3b2150" stroke="#2a2030" stroke-width="0.8"/><path d="M2489.4 1208.1 L2494.7 1218.1 L2484.1 1218.1 z" fill="#3b2150" stroke="#2a2030" stroke-width="0.8"/>
<text x="2414.5" y="1214.0" class="s" font-size="12.4" fill="#333" text-anchor="end">−1</text>
<text x="2414.5" y="1240.5" class="s" font-size="12.4" fill="#333" text-anchor="end">−2</text>
<text x="2414.5" y="1267.8" class="s" font-size="12.4" fill="#333" text-anchor="end">−3</text>
<text x="2427.2" y="1298.8" class="s" font-size="12" fill="#333" text-anchor="middle">25</text>
<text x="2459.7" y="1298.8" class="s" font-size="12" fill="#333" text-anchor="middle">50</text>
<text x="2491.8" y="1298.8" class="s" font-size="12" fill="#333" text-anchor="middle">75</text>
<text x="2455.3" y="1199.5" class="s" font-size="14" fill="#333" text-anchor="middle"><tspan class="m">λ</tspan> = 10<tspan font-size="8" dy="-5">−1</tspan></text>
<text x="2430.2" y="1220.6" class="s" font-size="13.5" fill="#444"><tspan class="m">ρ</tspan> = 0.82</text>
<rect x="2517.5" y="1205.5" width="76.69999999999982" height="82.79999999999995" fill="#fff" stroke="#e3e3e3" stroke-width="0.9"/><line x1="2526.5" y1="1205.5" x2="2526.5" y2="1288.3" stroke="#e3e3e3" stroke-width="0.9"/><line x1="2559.5" y1="1205.5" x2="2559.5" y2="1288.3" stroke="#e3e3e3" stroke-width="0.9"/><line x1="2591.3" y1="1205.5" x2="2591.3" y2="1288.3" stroke="#e3e3e3" stroke-width="0.9"/><line x1="2517.5" y1="1217.6" x2="2594.2" y2="1217.6" stroke="#e3e3e3" stroke-width="0.9"/><line x1="2517.5" y1="1241.4" x2="2594.2" y2="1241.4" stroke="#e3e3e3" stroke-width="0.9"/><line x1="2517.5" y1="1265.7" x2="2594.2" y2="1265.7" stroke="#e3e3e3" stroke-width="0.9"/>
<circle cx="2525.3" cy="1276.6" r="5.2" fill="#f5d6d0" stroke="#2a2030" stroke-width="0.8"/><circle cx="2535.3" cy="1267.2" r="5.2" fill="#f5d6d0" stroke="#2a2030" stroke-width="0.8"/><circle cx="2537.7" cy="1262.4" r="5.2" fill="#f5d6d0" stroke="#2a2030" stroke-width="0.8"/><circle cx="2538.8" cy="1258.9" r="5.2" fill="#f5d6d0" stroke="#2a2030" stroke-width="0.8"/><circle cx="2545.9" cy="1258.9" r="5.2" fill="#e2aab3" stroke="#2a2030" stroke-width="0.8"/><circle cx="2549.4" cy="1250.7" r="5.2" fill="#e2aab3" stroke="#2a2030" stroke-width="0.8"/><circle cx="2553.0" cy="1253.0" r="5.2" fill="#c88aa8" stroke="#2a2030" stroke-width="0.8"/><circle cx="2557.7" cy="1249.5" r="5.2" fill="#c88aa8" stroke="#2a2030" stroke-width="0.8"/><circle cx="2562.4" cy="1242.4" r="5.2" fill="#c88aa8" stroke="#2a2030" stroke-width="0.8"/><circle cx="2565.9" cy="1240.1" r="5.2" fill="#8e4e8e" stroke="#2a2030" stroke-width="0.8"/><circle cx="2569.5" cy="1247.1" r="5.2" fill="#8e4e8e" stroke="#2a2030" stroke-width="0.8"/><circle cx="2571.8" cy="1242.4" r="5.2" fill="#8e4e8e" stroke="#2a2030" stroke-width="0.8"/><circle cx="2573.0" cy="1276.6" r="5.2" fill="#3b2150" stroke="#2a2030" stroke-width="0.8"/>
<path d="M2582.4 1237.6 L2587.7 1247.6 L2577.1 1247.6 z" fill="#f5d6d0" stroke="#2a2030" stroke-width="0.8"/><path d="M2584.8 1231.7 L2590.1 1241.7 L2579.5 1241.7 z" fill="#e2aab3" stroke="#2a2030" stroke-width="0.8"/><path d="M2586.0 1227.0 L2591.3 1237.0 L2580.7 1237.0 z" fill="#e2aab3" stroke="#2a2030" stroke-width="0.8"/><path d="M2586.0 1222.3 L2591.3 1232.3 L2580.7 1232.3 z" fill="#c88aa8" stroke="#2a2030" stroke-width="0.8"/><path d="M2587.1 1217.6 L2592.4 1227.6 L2581.8 1227.6 z" fill="#8e4e8e" stroke="#2a2030" stroke-width="0.8"/><path d="M2588.3 1212.9 L2593.6 1222.9 L2583.0 1222.9 z" fill="#3b2150" stroke="#2a2030" stroke-width="0.8"/><path d="M2588.3 1209.3 L2593.6 1219.3 L2583.0 1219.3 z" fill="#3b2150" stroke="#2a2030" stroke-width="0.8"/>
<text x="2513.5" y="1221.3999999999999" class="s" font-size="12.4" fill="#333" text-anchor="end">−1</text>
<text x="2513.5" y="1245.2" class="s" font-size="12.4" fill="#333" text-anchor="end">−2</text>
<text x="2513.5" y="1269.5" class="s" font-size="12.4" fill="#333" text-anchor="end">−3</text>
<text x="2526.5" y="1298.8" class="s" font-size="12" fill="#333" text-anchor="middle">25</text>
<text x="2559.5" y="1298.8" class="s" font-size="12" fill="#333" text-anchor="middle">50</text>
<text x="2591.3" y="1298.8" class="s" font-size="12" fill="#333" text-anchor="middle">75</text>
<text x="2555.2" y="1199.5" class="s" font-size="14" fill="#333" text-anchor="middle"><tspan class="m">λ</tspan> = 10<tspan font-size="8" dy="-5">−2</tspan></text>
<text x="2529.1" y="1220.6" class="s" font-size="13.5" fill="#444"><tspan class="m">ρ</tspan> = 0.87</text>
<text x="2441.5" y="1314.3" class="s" font-size="13.4" fill="#333" text-anchor="middle">BMA test accuracy [%]</text>
<rect x="2624.6" y="1217.1" width="61.7" height="31.3" rx="2" fill="#fff" stroke="#222" stroke-width="1.3"/>
<circle cx="2637.6" cy="1225.8" r="3.8" fill="#e2aab3" stroke="#2a2030" stroke-width="0.7"/>
<path d="M2637.6 1236.3 L2641.5 1243.5 L2633.7 1243.5 z" fill="#e2aab3" stroke="#2a2030" stroke-width="0.7"/>
<text x="2647.5" y="1229.3" class="s" font-size="10" fill="#333">CNN</text>
<text x="2647.5" y="1243.2" class="s" font-size="10" fill="#333">ResNet</text>
<defs><linearGradient id="cbar" x1="0" x2="1" y1="0" y2="0"><stop offset="0" stop-color="#f7dcd6"/><stop offset="0.35" stop-color="#d99aae"/><stop offset="0.65" stop-color="#8e4e8e"/><stop offset="1" stop-color="#24123a"/></linearGradient></defs>
<rect x="2624.6" y="1260.5" width="61.7" height="12.2" fill="url(#cbar)" stroke="#222" stroke-width="0.6"/>
<text x="2626.4" y="1284.8" class="s" font-size="10" fill="#333" text-anchor="middle">10<tspan font-size="7" dy="-4">3</tspan></text>
<text x="2655" y="1284.8" class="s" font-size="10" fill="#333" text-anchor="middle">10<tspan font-size="7" dy="-4">5</tspan></text>
<text x="2683.6" y="1284.8" class="s" font-size="10" fill="#333" text-anchor="middle">10<tspan font-size="7" dy="-4">7</tspan></text>
<text x="2618.5" y="1297.8" class="s" font-size="12.8" fill="#333">#  Parameters</text>
<line x1="2005.1" y1="1560.4" x2="2005.1" y2="1682.5" stroke="#dcdcdc" stroke-width="1.1"/><line x1="2005.1" y1="1682.5" x2="2161" y2="1682.5" stroke="#dcdcdc" stroke-width="1.1"/><line x1="2005.1" y1="1579.9" x2="2161" y2="1579.9" stroke="#dcdcdc" stroke-width="1.1"/><line x1="2005.1" y1="1612.6" x2="2161" y2="1612.6" stroke="#dcdcdc" stroke-width="1.1"/><line x1="2005.1" y1="1644.3" x2="2161" y2="1644.3" stroke="#dcdcdc" stroke-width="1.1"/><line x1="2005.1" y1="1676.5" x2="2161" y2="1676.5" stroke="#dcdcdc" stroke-width="1.1"/>
<line x1="2014.2" y1="1595.7" x2="2014.2" y2="1601.9" stroke="#3a3a3a" stroke-width="1.2"/><line x1="2014.2" y1="1623.1" x2="2014.2" y2="1635.0" stroke="#3a3a3a" stroke-width="1.2"/><line x1="2010.9" y1="1595.7" x2="2017.5" y2="1595.7" stroke="#3a3a3a" stroke-width="1.2"/><line x1="2010.9" y1="1635.0" x2="2017.5" y2="1635.0" stroke="#3a3a3a" stroke-width="1.2"/><rect x="2007.6" y="1601.9" width="13.2" height="21.2" fill="#e8c5cc" stroke="#3a3a3a" stroke-width="1.2"/><line x1="2007.6" y1="1608.7" x2="2020.8" y2="1608.7" stroke="#3a3a3a" stroke-width="1.2"/>
<line x1="2026.9" y1="1613.5" x2="2026.9" y2="1622.3" stroke="#3a3a3a" stroke-width="1.2"/><line x1="2026.9" y1="1635.0" x2="2026.9" y2="1646.0" stroke="#3a3a3a" stroke-width="1.2"/><line x1="2023.9" y1="1613.5" x2="2030.0" y2="1613.5" stroke="#3a3a3a" stroke-width="1.2"/><line x1="2023.9" y1="1646.0" x2="2030.0" y2="1646.0" stroke="#3a3a3a" stroke-width="1.2"/><rect x="2020.8" y="1622.3" width="12.2" height="12.7" fill="#8a6b8c" stroke="#3a3a3a" stroke-width="1.2"/><line x1="2020.8" y1="1634.2" x2="2033.1" y2="1634.2" stroke="#3a3a3a" stroke-width="1.2"/>
<line x1="2045.5" y1="1565.2" x2="2045.5" y2="1588.4" stroke="#3a3a3a" stroke-width="1.2"/><line x1="2045.5" y1="1618.1" x2="2045.5" y2="1640.4" stroke="#3a3a3a" stroke-width="1.2"/><line x1="2042.2" y1="1565.2" x2="2048.8" y2="1565.2" stroke="#3a3a3a" stroke-width="1.2"/><line x1="2042.2" y1="1640.4" x2="2048.8" y2="1640.4" stroke="#3a3a3a" stroke-width="1.2"/><rect x="2039.0" y="1588.4" width="13.1" height="29.7" fill="#e8c5cc" stroke="#3a3a3a" stroke-width="1.2"/><line x1="2039.0" y1="1611.3" x2="2052.0" y2="1611.3" stroke="#3a3a3a" stroke-width="1.2"/>
<line x1="2058.2" y1="1636.4" x2="2058.2" y2="1642.6" stroke="#3a3a3a" stroke-width="1.2"/><line x1="2058.2" y1="1655.3" x2="2058.2" y2="1658.2" stroke="#3a3a3a" stroke-width="1.2"/><line x1="2055.1" y1="1636.4" x2="2061.3" y2="1636.4" stroke="#3a3a3a" stroke-width="1.2"/><line x1="2055.1" y1="1658.2" x2="2061.3" y2="1658.2" stroke="#3a3a3a" stroke-width="1.2"/><rect x="2052.0" y="1642.6" width="12.4" height="12.7" fill="#8a6b8c" stroke="#3a3a3a" stroke-width="1.2"/><line x1="2052.0" y1="1651.9" x2="2064.4" y2="1651.9" stroke="#3a3a3a" stroke-width="1.2"/>
<line x1="2076.7" y1="1603.6" x2="2076.7" y2="1617.5" stroke="#3a3a3a" stroke-width="1.2"/><line x1="2076.7" y1="1643.5" x2="2076.7" y2="1658.4" stroke="#3a3a3a" stroke-width="1.2"/><line x1="2073.5" y1="1603.6" x2="2079.9" y2="1603.6" stroke="#3a3a3a" stroke-width="1.2"/><line x1="2073.5" y1="1658.4" x2="2079.9" y2="1658.4" stroke="#3a3a3a" stroke-width="1.2"/><rect x="2070.3" y="1617.5" width="12.7" height="25.9" fill="#e8c5cc" stroke="#3a3a3a" stroke-width="1.2"/><line x1="2070.3" y1="1634.2" x2="2083.1" y2="1634.2" stroke="#3a3a3a" stroke-width="1.2"/>
<line x1="2089.4" y1="1656.7" x2="2089.4" y2="1661.3" stroke="#3a3a3a" stroke-width="1.2"/><line x1="2089.4" y1="1672.3" x2="2089.4" y2="1677.0" stroke="#3a3a3a" stroke-width="1.2"/><line x1="2086.2" y1="1656.7" x2="2092.6" y2="1656.7" stroke="#3a3a3a" stroke-width="1.2"/><line x1="2086.2" y1="1677.0" x2="2092.6" y2="1677.0" stroke="#3a3a3a" stroke-width="1.2"/><rect x="2083.1" y="1661.3" width="12.7" height="11.0" fill="#8a6b8c" stroke="#3a3a3a" stroke-width="1.2"/><line x1="2083.1" y1="1669.4" x2="2095.8" y2="1669.4" stroke="#3a3a3a" stroke-width="1.2"/>
<line x1="2107.7" y1="1629.9" x2="2107.7" y2="1632.5" stroke="#3a3a3a" stroke-width="1.2"/><line x1="2107.7" y1="1652.8" x2="2107.7" y2="1665.2" stroke="#3a3a3a" stroke-width="1.2"/><line x1="2104.5" y1="1629.9" x2="2110.9" y2="1629.9" stroke="#3a3a3a" stroke-width="1.2"/><line x1="2104.5" y1="1665.2" x2="2110.9" y2="1665.2" stroke="#3a3a3a" stroke-width="1.2"/><rect x="2101.4" y="1632.5" width="12.7" height="20.3" fill="#e8c5cc" stroke="#3a3a3a" stroke-width="1.2"/><line x1="2101.4" y1="1650.3" x2="2114.1" y2="1650.3" stroke="#3a3a3a" stroke-width="1.2"/>
<line x1="2120.6" y1="1659.6" x2="2120.6" y2="1662.1" stroke="#3a3a3a" stroke-width="1.2"/><line x1="2120.6" y1="1669.7" x2="2120.6" y2="1676.0" stroke="#3a3a3a" stroke-width="1.2"/><line x1="2117.3" y1="1659.6" x2="2123.9" y2="1659.6" stroke="#3a3a3a" stroke-width="1.2"/><line x1="2117.3" y1="1676.0" x2="2123.9" y2="1676.0" stroke="#3a3a3a" stroke-width="1.2"/><rect x="2114.1" y="1662.1" width="13.1" height="7.6" fill="#8a6b8c" stroke="#3a3a3a" stroke-width="1.2"/><line x1="2114.1" y1="1666.4" x2="2127.1" y2="1666.4" stroke="#3a3a3a" stroke-width="1.2"/>
<line x1="2139.0" y1="1645.5" x2="2139.0" y2="1646.0" stroke="#3a3a3a" stroke-width="1.2"/><line x1="2139.0" y1="1656.2" x2="2139.0" y2="1660.8" stroke="#3a3a3a" stroke-width="1.2"/><line x1="2135.8" y1="1645.5" x2="2142.2" y2="1645.5" stroke="#3a3a3a" stroke-width="1.2"/><line x1="2135.8" y1="1660.8" x2="2142.2" y2="1660.8" stroke="#3a3a3a" stroke-width="1.2"/><rect x="2132.5" y="1646.0" width="12.9" height="10.2" fill="#e8c5cc" stroke="#3a3a3a" stroke-width="1.2"/><line x1="2132.5" y1="1651.1" x2="2145.4" y2="1651.1" stroke="#3a3a3a" stroke-width="1.2"/>
<line x1="2151.8" y1="1658.7" x2="2151.8" y2="1664.7" stroke="#3a3a3a" stroke-width="1.2"/><line x1="2151.8" y1="1668.9" x2="2151.8" y2="1674.0" stroke="#3a3a3a" stroke-width="1.2"/><line x1="2148.6" y1="1658.7" x2="2155.0" y2="1658.7" stroke="#3a3a3a" stroke-width="1.2"/><line x1="2148.6" y1="1674.0" x2="2155.0" y2="1674.0" stroke="#3a3a3a" stroke-width="1.2"/><rect x="2145.4" y="1664.7" width="12.7" height="4.2" fill="#8a6b8c" stroke="#3a3a3a" stroke-width="1.2"/><line x1="2145.4" y1="1666.9" x2="2158.1" y2="1666.9" stroke="#3a3a3a" stroke-width="1.2"/>
<text x="2001" y="1584.4" class="s" font-size="13.4" fill="#444" text-anchor="end">0.5</text>
<text x="2001" y="1617.1" class="s" font-size="13.4" fill="#444" text-anchor="end">0.4</text>
<text x="2001" y="1648.8" class="s" font-size="13.4" fill="#444" text-anchor="end">0.3</text>
<text x="2001" y="1681.0" class="s" font-size="13.4" fill="#444" text-anchor="end">0.2</text>
<text x="2020.3" y="1696" class="s" font-size="13.6" fill="#444" text-anchor="middle">100</text>
<text x="2051.7" y="1696" class="s" font-size="13.6" fill="#444" text-anchor="middle">200</text>
<text x="2083" y="1696" class="s" font-size="13.6" fill="#444" text-anchor="middle">300</text>
<text x="2113.6" y="1696" class="s" font-size="13.6" fill="#444" text-anchor="middle">400</text>
<text x="2144.9" y="1696" class="s" font-size="13.6" fill="#444" text-anchor="middle">455</text>
<text x="2083" y="1553.6" class="s" font-size="18.3" fill="#333" text-anchor="middle">Boston</text>
<text x="1974" y="1619" class="s" font-size="18" fill="#333" text-anchor="middle" transform="rotate(-90 1974 1619)">RMSE</text>
<line x1="2193.2" y1="1560.4" x2="2193.2" y2="1682.5" stroke="#dcdcdc" stroke-width="1.1"/><line x1="2193.2" y1="1682.5" x2="2349.2" y2="1682.5" stroke="#dcdcdc" stroke-width="1.1"/><line x1="2193.2" y1="1565.8" x2="2349.2" y2="1565.8" stroke="#dcdcdc" stroke-width="1.1"/><line x1="2193.2" y1="1614.2" x2="2349.2" y2="1614.2" stroke="#dcdcdc" stroke-width="1.1"/><line x1="2193.2" y1="1662.1" x2="2349.2" y2="1662.1" stroke="#dcdcdc" stroke-width="1.1"/>
<line x1="2200.0" y1="1565.2" x2="2200.0" y2="1592.6" stroke="#3a3a3a" stroke-width="1.2"/><line x1="2200.0" y1="1643.5" x2="2200.0" y2="1655.7" stroke="#3a3a3a" stroke-width="1.2"/><line x1="2197.5" y1="1565.2" x2="2202.5" y2="1565.2" stroke="#3a3a3a" stroke-width="1.2"/><line x1="2197.5" y1="1655.7" x2="2202.5" y2="1655.7" stroke="#3a3a3a" stroke-width="1.2"/><rect x="2195.1" y="1592.6" width="9.8" height="50.8" fill="#e8c5cc" stroke="#3a3a3a" stroke-width="1.2"/><line x1="2195.1" y1="1624.0" x2="2204.9" y2="1624.0" stroke="#3a3a3a" stroke-width="1.2"/>
<line x1="2209.3" y1="1605.3" x2="2209.3" y2="1631.9" stroke="#3a3a3a" stroke-width="1.2"/><line x1="2209.3" y1="1653.3" x2="2209.3" y2="1666.9" stroke="#3a3a3a" stroke-width="1.2"/><line x1="2206.9" y1="1605.3" x2="2211.8" y2="1605.3" stroke="#3a3a3a" stroke-width="1.2"/><line x1="2206.9" y1="1666.9" x2="2211.8" y2="1666.9" stroke="#3a3a3a" stroke-width="1.2"/><rect x="2204.4" y="1631.9" width="9.8" height="21.4" fill="#8a6b8c" stroke="#3a3a3a" stroke-width="1.2"/><line x1="2204.4" y1="1651.9" x2="2214.2" y2="1651.9" stroke="#3a3a3a" stroke-width="1.2"/>
<line x1="2222.9" y1="1635.5" x2="2222.9" y2="1643.5" stroke="#3a3a3a" stroke-width="1.2"/><line x1="2222.9" y1="1651.1" x2="2222.9" y2="1659.6" stroke="#3a3a3a" stroke-width="1.2"/><line x1="2220.6" y1="1635.5" x2="2225.2" y2="1635.5" stroke="#3a3a3a" stroke-width="1.2"/><line x1="2220.6" y1="1659.6" x2="2225.2" y2="1659.6" stroke="#3a3a3a" stroke-width="1.2"/><rect x="2218.2" y="1643.5" width="9.3" height="7.6" fill="#e8c5cc" stroke="#3a3a3a" stroke-width="1.2"/><line x1="2218.2" y1="1646.9" x2="2227.5" y2="1646.9" stroke="#3a3a3a" stroke-width="1.2"/>
<line x1="2232.2" y1="1649.1" x2="2232.2" y2="1656.7" stroke="#3a3a3a" stroke-width="1.2"/><line x1="2232.2" y1="1662.1" x2="2232.2" y2="1665.8" stroke="#3a3a3a" stroke-width="1.2"/><line x1="2229.9" y1="1649.1" x2="2234.5" y2="1649.1" stroke="#3a3a3a" stroke-width="1.2"/><line x1="2229.9" y1="1665.8" x2="2234.5" y2="1665.8" stroke="#3a3a3a" stroke-width="1.2"/><rect x="2227.5" y="1656.7" width="9.3" height="5.4" fill="#8a6b8c" stroke="#3a3a3a" stroke-width="1.2"/><line x1="2227.5" y1="1659.6" x2="2236.9" y2="1659.6" stroke="#3a3a3a" stroke-width="1.2"/>
<line x1="2244.9" y1="1638.4" x2="2244.9" y2="1641.8" stroke="#3a3a3a" stroke-width="1.2"/><line x1="2244.9" y1="1651.9" x2="2244.9" y2="1651.9" stroke="#3a3a3a" stroke-width="1.2"/><line x1="2242.6" y1="1638.4" x2="2247.2" y2="1638.4" stroke="#3a3a3a" stroke-width="1.2"/><line x1="2242.6" y1="1651.9" x2="2247.2" y2="1651.9" stroke="#3a3a3a" stroke-width="1.2"/><rect x="2240.3" y="1641.8" width="9.3" height="10.2" fill="#e8c5cc" stroke="#3a3a3a" stroke-width="1.2"/><line x1="2240.3" y1="1646.9" x2="2249.6" y2="1646.9" stroke="#3a3a3a" stroke-width="1.2"/>
<line x1="2254.2" y1="1658.4" x2="2254.2" y2="1663.8" stroke="#3a3a3a" stroke-width="1.2"/><line x1="2254.2" y1="1669.7" x2="2254.2" y2="1671.9" stroke="#3a3a3a" stroke-width="1.2"/><line x1="2251.9" y1="1658.4" x2="2256.6" y2="1658.4" stroke="#3a3a3a" stroke-width="1.2"/><line x1="2251.9" y1="1671.9" x2="2256.6" y2="1671.9" stroke="#3a3a3a" stroke-width="1.2"/><rect x="2249.6" y="1663.8" width="9.3" height="5.9" fill="#8a6b8c" stroke="#3a3a3a" stroke-width="1.2"/><line x1="2249.6" y1="1666.4" x2="2258.9" y2="1666.4" stroke="#3a3a3a" stroke-width="1.2"/>
<line x1="2266.9" y1="1631.9" x2="2266.9" y2="1639.2" stroke="#3a3a3a" stroke-width="1.2"/><line x1="2266.9" y1="1649.4" x2="2266.9" y2="1650.3" stroke="#3a3a3a" stroke-width="1.2"/><line x1="2264.6" y1="1631.9" x2="2269.3" y2="1631.9" stroke="#3a3a3a" stroke-width="1.2"/><line x1="2264.6" y1="1650.3" x2="2269.3" y2="1650.3" stroke="#3a3a3a" stroke-width="1.2"/><rect x="2262.3" y="1639.2" width="9.3" height="10.2" fill="#e8c5cc" stroke="#3a3a3a" stroke-width="1.2"/><line x1="2262.3" y1="1645.2" x2="2271.6" y2="1645.2" stroke="#3a3a3a" stroke-width="1.2"/>
<line x1="2276.3" y1="1660.1" x2="2276.3" y2="1663.8" stroke="#3a3a3a" stroke-width="1.2"/><line x1="2276.3" y1="1668.9" x2="2276.3" y2="1671.9" stroke="#3a3a3a" stroke-width="1.2"/><line x1="2273.9" y1="1660.1" x2="2278.6" y2="1660.1" stroke="#3a3a3a" stroke-width="1.2"/><line x1="2273.9" y1="1671.9" x2="2278.6" y2="1671.9" stroke="#3a3a3a" stroke-width="1.2"/><rect x="2271.6" y="1663.8" width="9.3" height="5.1" fill="#8a6b8c" stroke="#3a3a3a" stroke-width="1.2"/><line x1="2271.6" y1="1666.4" x2="2280.9" y2="1666.4" stroke="#3a3a3a" stroke-width="1.2"/>
<line x1="2289.0" y1="1636.7" x2="2289.0" y2="1641.4" stroke="#3a3a3a" stroke-width="1.2"/><line x1="2289.0" y1="1648.9" x2="2289.0" y2="1651.6" stroke="#3a3a3a" stroke-width="1.2"/><line x1="2286.7" y1="1636.7" x2="2291.3" y2="1636.7" stroke="#3a3a3a" stroke-width="1.2"/><line x1="2286.7" y1="1651.6" x2="2291.3" y2="1651.6" stroke="#3a3a3a" stroke-width="1.2"/><rect x="2284.3" y="1641.4" width="9.3" height="7.5" fill="#e8c5cc" stroke="#3a3a3a" stroke-width="1.2"/><line x1="2284.3" y1="1646.0" x2="2293.6" y2="1646.0" stroke="#3a3a3a" stroke-width="1.2"/>
<line x1="2298.3" y1="1662.1" x2="2298.3" y2="1665.2" stroke="#3a3a3a" stroke-width="1.2"/><line x1="2298.3" y1="1668.9" x2="2298.3" y2="1671.9" stroke="#3a3a3a" stroke-width="1.2"/><line x1="2296.0" y1="1662.1" x2="2300.6" y2="1662.1" stroke="#3a3a3a" stroke-width="1.2"/><line x1="2296.0" y1="1671.9" x2="2300.6" y2="1671.9" stroke="#3a3a3a" stroke-width="1.2"/><rect x="2293.6" y="1665.2" width="9.3" height="3.7" fill="#8a6b8c" stroke="#3a3a3a" stroke-width="1.2"/><line x1="2293.6" y1="1667.2" x2="2303.0" y2="1667.2" stroke="#3a3a3a" stroke-width="1.2"/>
<line x1="2311.9" y1="1632.5" x2="2311.9" y2="1638.7" stroke="#3a3a3a" stroke-width="1.2"/><line x1="2311.9" y1="1646.0" x2="2311.9" y2="1655.0" stroke="#3a3a3a" stroke-width="1.2"/><line x1="2309.5" y1="1632.5" x2="2314.2" y2="1632.5" stroke="#3a3a3a" stroke-width="1.2"/><line x1="2309.5" y1="1655.0" x2="2314.2" y2="1655.0" stroke="#3a3a3a" stroke-width="1.2"/><rect x="2307.2" y="1638.7" width="9.3" height="7.3" fill="#e8c5cc" stroke="#3a3a3a" stroke-width="1.2"/><line x1="2307.2" y1="1642.6" x2="2316.5" y2="1642.6" stroke="#3a3a3a" stroke-width="1.2"/>
<line x1="2320.3" y1="1664.7" x2="2320.3" y2="1667.7" stroke="#3a3a3a" stroke-width="1.2"/><line x1="2320.3" y1="1672.3" x2="2320.3" y2="1674.8" stroke="#3a3a3a" stroke-width="1.2"/><line x1="2318.0" y1="1664.7" x2="2322.7" y2="1664.7" stroke="#3a3a3a" stroke-width="1.2"/><line x1="2318.0" y1="1674.8" x2="2322.7" y2="1674.8" stroke="#3a3a3a" stroke-width="1.2"/><rect x="2315.7" y="1667.7" width="9.3" height="4.6" fill="#8a6b8c" stroke="#3a3a3a" stroke-width="1.2"/><line x1="2315.7" y1="1670.1" x2="2325.0" y2="1670.1" stroke="#3a3a3a" stroke-width="1.2"/>
<line x1="2333.9" y1="1636.7" x2="2333.9" y2="1643.5" stroke="#3a3a3a" stroke-width="1.2"/><line x1="2333.9" y1="1651.9" x2="2333.9" y2="1654.5" stroke="#3a3a3a" stroke-width="1.2"/><line x1="2331.6" y1="1636.7" x2="2336.2" y2="1636.7" stroke="#3a3a3a" stroke-width="1.2"/><line x1="2331.6" y1="1654.5" x2="2336.2" y2="1654.5" stroke="#3a3a3a" stroke-width="1.2"/><rect x="2329.2" y="1643.5" width="9.3" height="8.5" fill="#e8c5cc" stroke="#3a3a3a" stroke-width="1.2"/><line x1="2329.2" y1="1646.9" x2="2338.6" y2="1646.9" stroke="#3a3a3a" stroke-width="1.2"/>
<line x1="2342.4" y1="1665.5" x2="2342.4" y2="1670.1" stroke="#3a3a3a" stroke-width="1.2"/><line x1="2342.4" y1="1676.0" x2="2342.4" y2="1676.5" stroke="#3a3a3a" stroke-width="1.2"/><line x1="2340.0" y1="1665.5" x2="2344.7" y2="1665.5" stroke="#3a3a3a" stroke-width="1.2"/><line x1="2340.0" y1="1676.5" x2="2344.7" y2="1676.5" stroke="#3a3a3a" stroke-width="1.2"/><rect x="2337.7" y="1670.1" width="9.3" height="5.9" fill="#8a6b8c" stroke="#3a3a3a" stroke-width="1.2"/><line x1="2337.7" y1="1673.1" x2="2347.0" y2="1673.1" stroke="#3a3a3a" stroke-width="1.2"/>
<text x="2189" y="1570.3" class="s" font-size="13.4" fill="#444" text-anchor="end">2.0</text>
<text x="2189" y="1618.7" class="s" font-size="13.4" fill="#444" text-anchor="end">1.5</text>
<text x="2189" y="1666.6" class="s" font-size="13.4" fill="#444" text-anchor="end">1.0</text>
<text x="2204.2" y="1696" class="s" font-size="13.6" fill="#444" text-anchor="middle">100</text>
<text x="2249.2" y="1696" class="s" font-size="13.6" fill="#444" text-anchor="middle">300</text>
<text x="2293.2" y="1696" class="s" font-size="13.6" fill="#444" text-anchor="middle">500</text>
<text x="2338.1" y="1696" class="s" font-size="13.6" fill="#444" text-anchor="middle">700</text>
<text x="2271.2" y="1553.6" class="s" font-size="18.3" fill="#333" text-anchor="middle">Wine, White</text>
<line x1="2381.8" y1="1560.3" x2="2381.8" y2="1682.6" stroke="#dcdcdc" stroke-width="1.1"/><line x1="2381.8" y1="1682.6" x2="2537.8" y2="1682.6" stroke="#dcdcdc" stroke-width="1.1"/><line x1="2381.8" y1="1576.5" x2="2537.8" y2="1576.5" stroke="#dcdcdc" stroke-width="1.1"/><line x1="2381.8" y1="1616.2" x2="2537.8" y2="1616.2" stroke="#dcdcdc" stroke-width="1.1"/><line x1="2381.8" y1="1655.9" x2="2537.8" y2="1655.9" stroke="#dcdcdc" stroke-width="1.1"/>
<line x1="2388.7" y1="1565.2" x2="2388.7" y2="1586.3" stroke="#3a3a3a" stroke-width="1.2"/><line x1="2388.7" y1="1605.3" x2="2388.7" y2="1618.6" stroke="#3a3a3a" stroke-width="1.2"/><line x1="2386.3" y1="1565.2" x2="2391.1" y2="1565.2" stroke="#3a3a3a" stroke-width="1.2"/><line x1="2386.3" y1="1618.6" x2="2391.1" y2="1618.6" stroke="#3a3a3a" stroke-width="1.2"/><rect x="2383.9" y="1586.3" width="9.6" height="19.0" fill="#e8c5cc" stroke="#3a3a3a" stroke-width="1.2"/><line x1="2383.9" y1="1589.8" x2="2393.5" y2="1589.8" stroke="#3a3a3a" stroke-width="1.2"/>
<line x1="2397.8" y1="1614.4" x2="2397.8" y2="1615.1" stroke="#3a3a3a" stroke-width="1.2"/><line x1="2397.8" y1="1628.5" x2="2397.8" y2="1633.4" stroke="#3a3a3a" stroke-width="1.2"/><line x1="2395.6" y1="1614.4" x2="2400.0" y2="1614.4" stroke="#3a3a3a" stroke-width="1.2"/><line x1="2395.6" y1="1633.4" x2="2400.0" y2="1633.4" stroke="#3a3a3a" stroke-width="1.2"/><rect x="2393.5" y="1615.1" width="8.7" height="13.4" fill="#8a6b8c" stroke="#3a3a3a" stroke-width="1.2"/><line x1="2393.5" y1="1618.6" x2="2402.2" y2="1618.6" stroke="#3a3a3a" stroke-width="1.2"/>
<line x1="2410.9" y1="1621.9" x2="2410.9" y2="1633.1" stroke="#3a3a3a" stroke-width="1.2"/><line x1="2410.9" y1="1640.4" x2="2410.9" y2="1644.9" stroke="#3a3a3a" stroke-width="1.2"/><line x1="2408.7" y1="1621.9" x2="2413.2" y2="1621.9" stroke="#3a3a3a" stroke-width="1.2"/><line x1="2408.7" y1="1644.9" x2="2413.2" y2="1644.9" stroke="#3a3a3a" stroke-width="1.2"/><rect x="2406.4" y="1633.1" width="9.1" height="7.3" fill="#e8c5cc" stroke="#3a3a3a" stroke-width="1.2"/><line x1="2406.4" y1="1637.6" x2="2415.5" y2="1637.6" stroke="#3a3a3a" stroke-width="1.2"/>
<line x1="2420.1" y1="1628.9" x2="2420.1" y2="1637.6" stroke="#3a3a3a" stroke-width="1.2"/><line x1="2420.1" y1="1643.2" x2="2420.1" y2="1646.0" stroke="#3a3a3a" stroke-width="1.2"/><line x1="2417.8" y1="1628.9" x2="2422.4" y2="1628.9" stroke="#3a3a3a" stroke-width="1.2"/><line x1="2417.8" y1="1646.0" x2="2422.4" y2="1646.0" stroke="#3a3a3a" stroke-width="1.2"/><rect x="2415.5" y="1637.6" width="9.1" height="5.6" fill="#8a6b8c" stroke="#3a3a3a" stroke-width="1.2"/><line x1="2415.5" y1="1641.1" x2="2424.7" y2="1641.1" stroke="#3a3a3a" stroke-width="1.2"/>
<line x1="2432.9" y1="1616.5" x2="2432.9" y2="1634.8" stroke="#3a3a3a" stroke-width="1.2"/><line x1="2432.9" y1="1652.4" x2="2432.9" y2="1657.6" stroke="#3a3a3a" stroke-width="1.2"/><line x1="2430.8" y1="1616.5" x2="2435.1" y2="1616.5" stroke="#3a3a3a" stroke-width="1.2"/><line x1="2430.8" y1="1657.6" x2="2435.1" y2="1657.6" stroke="#3a3a3a" stroke-width="1.2"/><rect x="2428.6" y="1634.8" width="8.7" height="17.6" fill="#e8c5cc" stroke="#3a3a3a" stroke-width="1.2"/><line x1="2428.6" y1="1647.4" x2="2437.3" y2="1647.4" stroke="#3a3a3a" stroke-width="1.2"/>
<line x1="2441.9" y1="1633.4" x2="2441.9" y2="1643.9" stroke="#3a3a3a" stroke-width="1.2"/><line x1="2441.9" y1="1654.2" x2="2441.9" y2="1658.7" stroke="#3a3a3a" stroke-width="1.2"/><line x1="2439.6" y1="1633.4" x2="2444.2" y2="1633.4" stroke="#3a3a3a" stroke-width="1.2"/><line x1="2439.6" y1="1658.7" x2="2444.2" y2="1658.7" stroke="#3a3a3a" stroke-width="1.2"/><rect x="2437.3" y="1643.9" width="9.1" height="10.3" fill="#8a6b8c" stroke="#3a3a3a" stroke-width="1.2"/><line x1="2437.3" y1="1648.1" x2="2446.4" y2="1648.1" stroke="#3a3a3a" stroke-width="1.2"/>
<line x1="2455.2" y1="1648.1" x2="2455.2" y2="1652.8" stroke="#3a3a3a" stroke-width="1.2"/><line x1="2455.2" y1="1656.2" x2="2455.2" y2="1660.8" stroke="#3a3a3a" stroke-width="1.2"/><line x1="2452.9" y1="1648.1" x2="2457.5" y2="1648.1" stroke="#3a3a3a" stroke-width="1.2"/><line x1="2452.9" y1="1660.8" x2="2457.5" y2="1660.8" stroke="#3a3a3a" stroke-width="1.2"/><rect x="2450.7" y="1652.8" width="9.1" height="3.4" fill="#e8c5cc" stroke="#3a3a3a" stroke-width="1.2"/><line x1="2450.7" y1="1654.7" x2="2459.8" y2="1654.7" stroke="#3a3a3a" stroke-width="1.2"/>
<line x1="2464.4" y1="1632.0" x2="2464.4" y2="1643.9" stroke="#3a3a3a" stroke-width="1.2"/><line x1="2464.4" y1="1653.1" x2="2464.4" y2="1659.8" stroke="#3a3a3a" stroke-width="1.2"/><line x1="2462.1" y1="1632.0" x2="2466.6" y2="1632.0" stroke="#3a3a3a" stroke-width="1.2"/><line x1="2462.1" y1="1659.8" x2="2466.6" y2="1659.8" stroke="#3a3a3a" stroke-width="1.2"/><rect x="2459.8" y="1643.9" width="9.1" height="9.1" fill="#8a6b8c" stroke="#3a3a3a" stroke-width="1.2"/><line x1="2459.8" y1="1648.1" x2="2468.9" y2="1648.1" stroke="#3a3a3a" stroke-width="1.2"/>
<line x1="2477.6" y1="1654.5" x2="2477.6" y2="1657.3" stroke="#3a3a3a" stroke-width="1.2"/><line x1="2477.6" y1="1667.8" x2="2477.6" y2="1673.0" stroke="#3a3a3a" stroke-width="1.2"/><line x1="2475.4" y1="1654.5" x2="2479.8" y2="1654.5" stroke="#3a3a3a" stroke-width="1.2"/><line x1="2475.4" y1="1673.0" x2="2479.8" y2="1673.0" stroke="#3a3a3a" stroke-width="1.2"/><rect x="2473.1" y="1657.3" width="8.9" height="10.5" fill="#e8c5cc" stroke="#3a3a3a" stroke-width="1.2"/><line x1="2473.1" y1="1663.2" x2="2482.0" y2="1663.2" stroke="#3a3a3a" stroke-width="1.2"/>
<line x1="2486.7" y1="1648.1" x2="2486.7" y2="1649.5" stroke="#3a3a3a" stroke-width="1.2"/><line x1="2486.7" y1="1654.7" x2="2486.7" y2="1659.8" stroke="#3a3a3a" stroke-width="1.2"/><line x1="2484.3" y1="1648.1" x2="2489.1" y2="1648.1" stroke="#3a3a3a" stroke-width="1.2"/><line x1="2484.3" y1="1659.8" x2="2489.1" y2="1659.8" stroke="#3a3a3a" stroke-width="1.2"/><rect x="2482.0" y="1649.5" width="9.4" height="5.2" fill="#8a6b8c" stroke="#3a3a3a" stroke-width="1.2"/><line x1="2482.0" y1="1651.7" x2="2491.4" y2="1651.7" stroke="#3a3a3a" stroke-width="1.2"/>
<line x1="2500.2" y1="1631.3" x2="2500.2" y2="1644.9" stroke="#3a3a3a" stroke-width="1.2"/><line x1="2500.2" y1="1661.5" x2="2500.2" y2="1666.4" stroke="#3a3a3a" stroke-width="1.2"/><line x1="2497.9" y1="1631.3" x2="2502.5" y2="1631.3" stroke="#3a3a3a" stroke-width="1.2"/><line x1="2497.9" y1="1666.4" x2="2502.5" y2="1666.4" stroke="#3a3a3a" stroke-width="1.2"/><rect x="2495.6" y="1644.9" width="9.1" height="16.6" fill="#e8c5cc" stroke="#3a3a3a" stroke-width="1.2"/><line x1="2495.6" y1="1658.7" x2="2504.8" y2="1658.7" stroke="#3a3a3a" stroke-width="1.2"/>
<line x1="2509.1" y1="1643.2" x2="2509.1" y2="1652.4" stroke="#3a3a3a" stroke-width="1.2"/><line x1="2509.1" y1="1662.2" x2="2509.1" y2="1667.1" stroke="#3a3a3a" stroke-width="1.2"/><line x1="2506.9" y1="1643.2" x2="2511.3" y2="1643.2" stroke="#3a3a3a" stroke-width="1.2"/><line x1="2506.9" y1="1667.1" x2="2511.3" y2="1667.1" stroke="#3a3a3a" stroke-width="1.2"/><rect x="2504.8" y="1652.4" width="8.7" height="9.8" fill="#8a6b8c" stroke="#3a3a3a" stroke-width="1.2"/><line x1="2504.8" y1="1657.3" x2="2513.5" y2="1657.3" stroke="#3a3a3a" stroke-width="1.2"/>
<line x1="2522.0" y1="1652.4" x2="2522.0" y2="1655.9" stroke="#3a3a3a" stroke-width="1.2"/><line x1="2522.0" y1="1667.1" x2="2522.0" y2="1677.0" stroke="#3a3a3a" stroke-width="1.2"/><line x1="2519.7" y1="1652.4" x2="2524.3" y2="1652.4" stroke="#3a3a3a" stroke-width="1.2"/><line x1="2519.7" y1="1677.0" x2="2524.3" y2="1677.0" stroke="#3a3a3a" stroke-width="1.2"/><rect x="2517.4" y="1655.9" width="9.1" height="11.2" fill="#e8c5cc" stroke="#3a3a3a" stroke-width="1.2"/><line x1="2517.4" y1="1664.6" x2="2526.5" y2="1664.6" stroke="#3a3a3a" stroke-width="1.2"/>
<line x1="2531.1" y1="1651.0" x2="2531.1" y2="1653.8" stroke="#3a3a3a" stroke-width="1.2"/><line x1="2531.1" y1="1660.1" x2="2531.1" y2="1667.1" stroke="#3a3a3a" stroke-width="1.2"/><line x1="2528.8" y1="1651.0" x2="2533.4" y2="1651.0" stroke="#3a3a3a" stroke-width="1.2"/><line x1="2528.8" y1="1667.1" x2="2533.4" y2="1667.1" stroke="#3a3a3a" stroke-width="1.2"/><rect x="2526.5" y="1653.8" width="9.1" height="6.3" fill="#8a6b8c" stroke="#3a3a3a" stroke-width="1.2"/><line x1="2526.5" y1="1658.7" x2="2535.7" y2="1658.7" stroke="#3a3a3a" stroke-width="1.2"/>
<text x="2378.3" y="1581.0" class="s" font-size="13.4" fill="#444" text-anchor="end">0.8</text>
<text x="2378.3" y="1620.7" class="s" font-size="13.4" fill="#444" text-anchor="end">0.6</text>
<text x="2378.3" y="1660.4" class="s" font-size="13.4" fill="#444" text-anchor="end">0.4</text>
<text x="2393" y="1695.2" class="s" font-size="13.6" fill="#444" text-anchor="middle">100</text>
<text x="2437.3" y="1695.2" class="s" font-size="13.6" fill="#444" text-anchor="middle">300</text>
<text x="2481.6" y="1695.2" class="s" font-size="13.6" fill="#444" text-anchor="middle">500</text>
<text x="2526.5" y="1695.2" class="s" font-size="13.6" fill="#444" text-anchor="middle">700</text>
<text x="2460.5" y="1554" class="s" font-size="17.8" fill="#333" text-anchor="middle">Concrete</text>
<text x="2261" y="1715" class="s" font-size="17.9" fill="#333" text-anchor="middle">Number of Training Examples</text>
<rect x="2590.9" y="1611.6" width="91" height="47.8" rx="3" fill="#fff" stroke="#222" stroke-width="1.5"/>
<rect x="2596.1" y="1617.9" width="30.5" height="10.6" fill="#e8c5cc" stroke="#222" stroke-width="1.2"/>
<rect x="2596.1" y="1640.4" width="30.5" height="10.6" fill="#8a6b8c" stroke="#222" stroke-width="1.2"/>
<text x="2639" y="1628.9" class="s" font-size="15" fill="#333">LML</text>
<text x="2639" y="1651" class="s" font-size="15" fill="#333">CLML</text>
</svg></body></html>
